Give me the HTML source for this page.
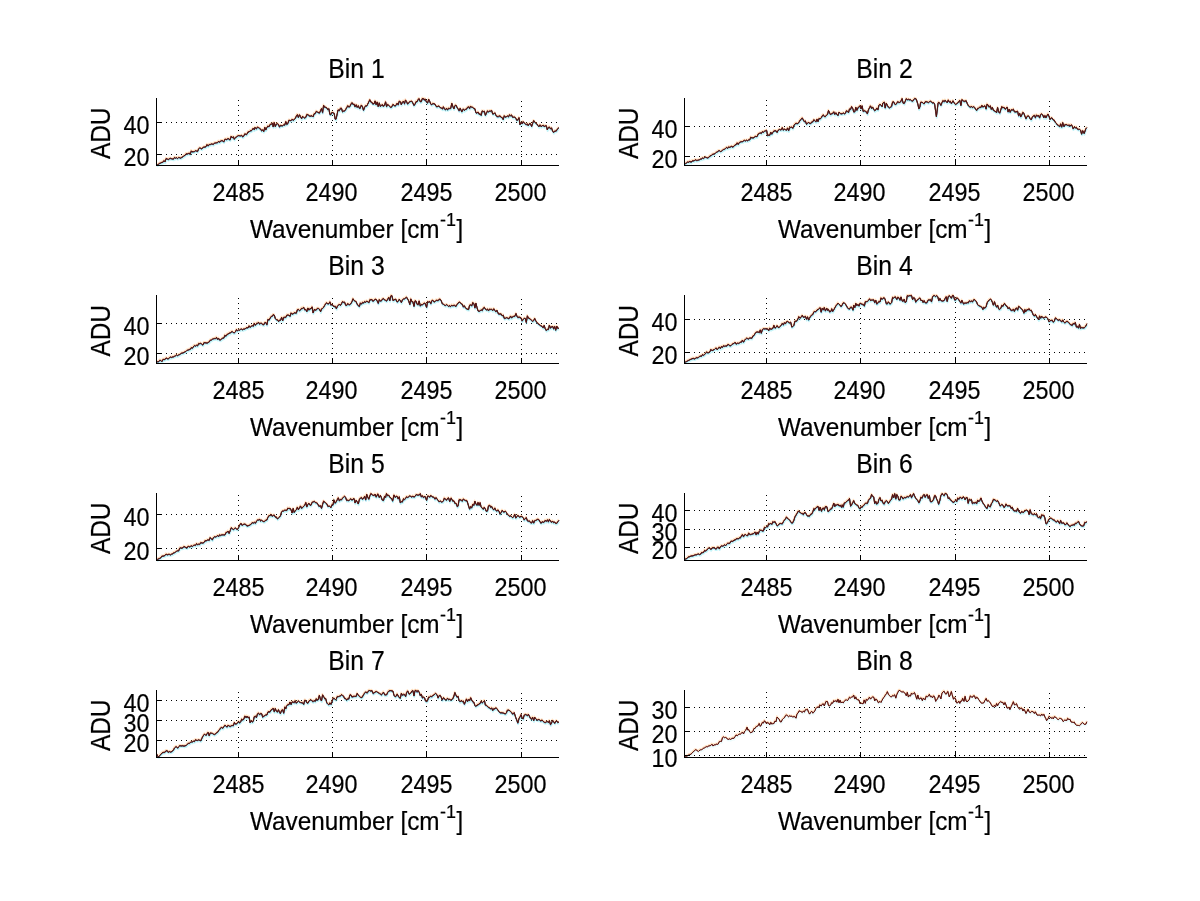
<!DOCTYPE html>
<html lang="en"><head><meta charset="utf-8"><title>Bin spectra</title>
<style>
html,body{margin:0;padding:0;background:#fff;}
body{width:1200px;height:901px;overflow:hidden;}
svg{display:block;}
text{font-family:"Liberation Sans",sans-serif;fill:#000;stroke:#000;stroke-width:0.18px;}
.ax{stroke:#000;stroke-width:1;shape-rendering:crispEdges;fill:none;}
.gr{stroke:#000;stroke-width:1;stroke-dasharray:1 4;shape-rendering:crispEdges;fill:none;}
.cv{fill:none;stroke-linejoin:round;stroke-linecap:butt;}
.crisp{shape-rendering:crispEdges;}
</style></head><body>
<svg width="1200" height="901" viewBox="0 0 1200 901">
<rect width="1200" height="901" fill="#fff"/>
<g id="bin1">
<path class="gr" d="M238.5 161V98"/>
<path class="gr" d="M332.5 161V98"/>
<path class="gr" d="M426.5 160V98"/>
<path class="gr" d="M521.5 162V98"/>
<path class="gr" d="M156 122.5H559"/>
<path class="gr" d="M156 154.5H559"/>
<path class="cv" stroke="#6fe6f0" stroke-opacity="0.4" stroke-width="1.8" transform="translate(0.3 1.3)" d="M156.6 165.2 157.7 164.6 158.7 164.0 159.8 163.2 160.8 162.9 161.9 162.3 162.9 162.2 164.0 160.6 165.0 161.8 166.1 158.5 167.5 159.1 168.2 159.5 169.2 158.8 170.3 158.3 171.3 158.6 172.4 158.9 173.4 159.1 174.5 157.4 175.5 158.2 176.6 157.6 177.6 158.5 178.7 157.4 179.7 157.7 180.8 158.1 181.5 157.3 182.9 156.8 183.9 155.7 185.0 155.4 186.0 153.8 187.1 154.0 188.1 153.7 189.2 153.0 190.2 154.4 191.3 150.8 192.0 151.7 193.4 151.6 194.4 151.5 195.5 150.7 196.5 151.0 197.6 151.3 198.6 148.9 199.7 147.8 200.7 148.3 201.8 148.9 202.5 147.8 203.9 147.0 204.9 147.0 206.0 146.6 207.0 144.5 208.1 146.0 209.1 144.5 210.2 144.6 211.2 143.9 212.3 144.1 213.3 144.5 214.4 143.0 215.4 143.0 216.5 142.7 217.5 142.6 218.6 141.2 219.6 142.3 220.7 140.8 221.7 140.7 222.8 140.8 223.8 141.8 224.9 139.2 225.9 139.3 227.0 139.6 228.0 138.3 228.8 139.0 230.1 139.7 231.2 136.3 232.2 137.8 233.3 136.7 234.3 139.2 235.4 137.4 236.4 137.1 237.5 135.9 238.4 135.6 239.6 135.7 240.6 135.8 241.7 135.3 242.7 137.0 243.8 135.8 244.8 133.8 246.2 134.5 246.9 134.3 248.0 131.8 249.0 132.1 250.1 130.7 251.1 130.8 252.2 129.9 253.2 128.2 254.3 129.7 255.0 127.4 256.4 128.8 257.4 127.1 258.5 127.5 259.5 128.3 260.6 128.9 261.6 130.7 262.9 129.8 263.7 131.5 264.8 127.3 265.8 129.9 266.9 127.5 267.9 125.9 269.0 126.8 270.0 124.4 271.1 124.2 272.5 123.3 273.2 126.8 274.2 122.4 275.3 126.5 276.3 124.0 277.4 123.7 278.4 124.3 279.5 126.9 280.5 125.4 281.2 125.6 282.6 125.8 283.7 124.7 284.7 125.1 285.8 121.6 286.8 124.4 287.9 123.4 288.9 120.2 290.0 120.5 291.1 120.7 292.1 119.3 293.2 120.3 294.2 119.6 295.3 118.3 296.3 116.2 297.4 114.5 298.4 117.4 299.5 114.7 300.5 116.6 301.6 118.7 302.6 116.3 303.7 117.4 304.7 118.0 305.8 117.4 306.8 114.5 307.9 114.7 308.9 115.4 310.0 116.3 311.0 115.9 312.1 115.8 313.1 116.8 314.2 113.6 315.2 113.5 316.3 111.3 317.3 112.0 318.0 112.2 319.4 113.1 320.5 110.8 321.5 108.6 322.6 112.4 323.6 105.3 324.7 107.3 325.9 107.1 326.8 108.0 327.8 109.7 328.9 108.8 329.9 114.4 331.0 114.3 332.0 112.2 333.1 112.9 334.1 113.2 335.2 119.1 336.0 119.2 337.3 113.4 338.0 109.8 339.4 110.7 340.4 108.3 341.5 108.2 342.5 111.7 343.6 111.1 344.6 110.9 345.7 109.4 346.7 107.7 347.8 105.7 348.8 107.0 349.9 106.4 351.2 103.7 352.0 102.7 353.0 104.4 354.1 104.1 355.0 106.7 356.2 104.7 357.2 107.4 358.3 105.6 359.3 108.1 360.0 108.5 361.4 105.0 362.5 106.7 363.5 110.2 364.6 107.3 365.6 105.7 366.7 106.0 367.7 104.2 368.8 101.8 369.8 99.7 370.9 102.2 371.9 102.1 372.5 103.6 374.0 103.8 375.1 100.9 376.1 104.7 377.2 101.9 378.2 106.5 379.3 102.9 380.3 106.4 381.4 105.4 382.4 104.6 383.0 106.2 384.5 105.3 385.6 101.7 386.6 106.6 387.7 104.3 388.7 105.3 389.8 106.5 390.8 107.4 391.9 106.5 392.9 104.5 394.0 105.2 395.0 106.1 396.1 105.0 397.1 103.2 398.2 104.8 399.2 101.2 400.5 101.8 401.3 104.6 402.4 102.2 403.4 101.1 404.5 103.7 405.5 100.0 406.6 101.5 407.6 104.1 408.7 102.8 409.7 101.6 410.8 101.4 411.8 101.1 412.8 102.9 413.9 105.4 415.0 104.3 416.0 101.5 417.1 101.8 418.1 99.4 419.2 98.7 420.2 101.7 421.3 101.5 422.3 98.5 423.4 98.5 424.4 100.2 425.0 98.9 426.6 102.2 427.6 103.0 428.7 99.2 429.7 101.2 430.8 104.0 431.8 104.7 432.9 103.3 433.8 103.9 435.0 104.1 436.0 106.2 437.1 106.8 438.1 106.1 439.2 106.2 440.2 107.5 441.3 108.0 442.5 109.0 443.4 106.7 444.4 108.7 445.5 109.7 446.5 108.2 447.6 109.8 448.6 108.2 449.7 108.5 450.7 108.4 451.8 103.3 453.0 106.9 453.9 108.8 454.9 105.6 456.0 105.1 457.0 107.2 458.1 109.0 459.1 110.7 460.2 108.3 461.8 111.8 463.3 108.9 464.4 110.5 465.4 109.3 466.5 109.2 467.5 107.3 468.6 106.8 469.6 108.4 470.5 106.1 471.7 107.3 472.8 107.2 473.8 108.5 474.9 108.6 475.9 112.7 477.0 113.1 478.0 112.0 479.2 114.3 480.1 113.5 481.2 115.3 482.2 111.0 483.3 111.6 484.3 111.2 485.4 115.2 486.4 113.2 487.5 110.9 488.5 111.7 490.0 110.9 490.6 111.1 491.7 110.5 492.7 114.0 493.8 113.8 494.8 112.7 495.9 115.1 496.9 116.5 498.5 116.3 500.1 115.8 501.1 117.3 502.2 117.5 503.2 119.4 504.3 115.7 505.3 117.1 506.4 116.6 507.4 116.0 508.5 116.9 509.5 114.8 510.6 115.7 511.6 114.9 512.5 117.2 513.7 117.2 514.8 117.0 515.8 118.3 516.9 120.4 517.9 119.7 519.0 117.6 520.0 124.6 521.2 122.3 522.1 123.8 523.2 121.6 524.2 122.9 525.3 123.9 526.3 124.5 527.4 123.9 528.2 125.6 529.5 123.5 530.5 123.6 531.6 126.5 532.6 123.5 533.7 120.6 535.2 122.6 536.8 123.8 537.9 125.4 538.9 126.7 540.0 124.8 541.0 126.6 542.1 125.8 543.1 125.1 544.0 126.5 545.2 126.0 546.3 125.6 547.3 129.8 548.4 127.4 549.4 127.0 550.5 128.9 551.5 127.8 552.6 131.0 553.6 132.4 554.7 131.0 556.2 131.1 557.8 128.5 558.9 127.7"/>
<path class="cv" stroke="#ffa040" stroke-opacity="0.33" stroke-width="1.4" transform="translate(-0.3 -1.0)" d="M156.6 165.2 157.7 164.6 158.7 164.0 159.8 163.2 160.8 162.9 161.9 162.3 162.9 162.2 164.0 160.6 165.0 161.8 166.1 158.5 167.5 159.1 168.2 159.5 169.2 158.8 170.3 158.3 171.3 158.6 172.4 158.9 173.4 159.1 174.5 157.4 175.5 158.2 176.6 157.6 177.6 158.5 178.7 157.4 179.7 157.7 180.8 158.1 181.5 157.3 182.9 156.8 183.9 155.7 185.0 155.4 186.0 153.8 187.1 154.0 188.1 153.7 189.2 153.0 190.2 154.4 191.3 150.8 192.0 151.7 193.4 151.6 194.4 151.5 195.5 150.7 196.5 151.0 197.6 151.3 198.6 148.9 199.7 147.8 200.7 148.3 201.8 148.9 202.5 147.8 203.9 147.0 204.9 147.0 206.0 146.6 207.0 144.5 208.1 146.0 209.1 144.5 210.2 144.6 211.2 143.9 212.3 144.1 213.3 144.5 214.4 143.0 215.4 143.0 216.5 142.7 217.5 142.6 218.6 141.2 219.6 142.3 220.7 140.8 221.7 140.7 222.8 140.8 223.8 141.8 224.9 139.2 225.9 139.3 227.0 139.6 228.0 138.3 228.8 139.0 230.1 139.7 231.2 136.3 232.2 137.8 233.3 136.7 234.3 139.2 235.4 137.4 236.4 137.1 237.5 135.9 238.4 135.6 239.6 135.7 240.6 135.8 241.7 135.3 242.7 137.0 243.8 135.8 244.8 133.8 246.2 134.5 246.9 134.3 248.0 131.8 249.0 132.1 250.1 130.7 251.1 130.8 252.2 129.9 253.2 128.2 254.3 129.7 255.0 127.4 256.4 128.8 257.4 127.1 258.5 127.5 259.5 128.3 260.6 128.9 261.6 130.7 262.9 129.8 263.7 131.5 264.8 127.3 265.8 129.9 266.9 127.5 267.9 125.9 269.0 126.8 270.0 124.4 271.1 124.2 272.5 123.3 273.2 126.8 274.2 122.4 275.3 126.5 276.3 124.0 277.4 123.7 278.4 124.3 279.5 126.9 280.5 125.4 281.2 125.6 282.6 125.8 283.7 124.7 284.7 125.1 285.8 121.6 286.8 124.4 287.9 123.4 288.9 120.2 290.0 120.5 291.1 120.7 292.1 119.3 293.2 120.3 294.2 119.6 295.3 118.3 296.3 116.2 297.4 114.5 298.4 117.4 299.5 114.7 300.5 116.6 301.6 118.7 302.6 116.3 303.7 117.4 304.7 118.0 305.8 117.4 306.8 114.5 307.9 114.7 308.9 115.4 310.0 116.3 311.0 115.9 312.1 115.8 313.1 116.8 314.2 113.6 315.2 113.5 316.3 111.3 317.3 112.0 318.0 112.2 319.4 113.1 320.5 110.8 321.5 108.6 322.6 112.4 323.6 105.3 324.7 107.3 325.9 107.1 326.8 108.0 327.8 109.7 328.9 108.8 329.9 114.4 331.0 114.3 332.0 112.2 333.1 112.9 334.1 113.2 335.2 119.1 336.0 119.2 337.3 113.4 338.0 109.8 339.4 110.7 340.4 108.3 341.5 108.2 342.5 111.7 343.6 111.1 344.6 110.9 345.7 109.4 346.7 107.7 347.8 105.7 348.8 107.0 349.9 106.4 351.2 103.7 352.0 102.7 353.0 104.4 354.1 104.1 355.0 106.7 356.2 104.7 357.2 107.4 358.3 105.6 359.3 108.1 360.0 108.5 361.4 105.0 362.5 106.7 363.5 110.2 364.6 107.3 365.6 105.7 366.7 106.0 367.7 104.2 368.8 101.8 369.8 99.7 370.9 102.2 371.9 102.1 372.5 103.6 374.0 103.8 375.1 100.9 376.1 104.7 377.2 101.9 378.2 106.5 379.3 102.9 380.3 106.4 381.4 105.4 382.4 104.6 383.0 106.2 384.5 105.3 385.6 101.7 386.6 106.6 387.7 104.3 388.7 105.3 389.8 106.5 390.8 107.4 391.9 106.5 392.9 104.5 394.0 105.2 395.0 106.1 396.1 105.0 397.1 103.2 398.2 104.8 399.2 101.2 400.5 101.8 401.3 104.6 402.4 102.2 403.4 101.1 404.5 103.7 405.5 100.0 406.6 101.5 407.6 104.1 408.7 102.8 409.7 101.6 410.8 101.4 411.8 101.1 412.8 102.9 413.9 105.4 415.0 104.3 416.0 101.5 417.1 101.8 418.1 99.4 419.2 98.7 420.2 101.7 421.3 101.5 422.3 98.5 423.4 98.5 424.4 100.2 425.0 98.9 426.6 102.2 427.6 103.0 428.7 99.2 429.7 101.2 430.8 104.0 431.8 104.7 432.9 103.3 433.8 103.9 435.0 104.1 436.0 106.2 437.1 106.8 438.1 106.1 439.2 106.2 440.2 107.5 441.3 108.0 442.5 109.0 443.4 106.7 444.4 108.7 445.5 109.7 446.5 108.2 447.6 109.8 448.6 108.2 449.7 108.5 450.7 108.4 451.8 103.3 453.0 106.9 453.9 108.8 454.9 105.6 456.0 105.1 457.0 107.2 458.1 109.0 459.1 110.7 460.2 108.3 461.8 111.8 463.3 108.9 464.4 110.5 465.4 109.3 466.5 109.2 467.5 107.3 468.6 106.8 469.6 108.4 470.5 106.1 471.7 107.3 472.8 107.2 473.8 108.5 474.9 108.6 475.9 112.7 477.0 113.1 478.0 112.0 479.2 114.3 480.1 113.5 481.2 115.3 482.2 111.0 483.3 111.6 484.3 111.2 485.4 115.2 486.4 113.2 487.5 110.9 488.5 111.7 490.0 110.9 490.6 111.1 491.7 110.5 492.7 114.0 493.8 113.8 494.8 112.7 495.9 115.1 496.9 116.5 498.5 116.3 500.1 115.8 501.1 117.3 502.2 117.5 503.2 119.4 504.3 115.7 505.3 117.1 506.4 116.6 507.4 116.0 508.5 116.9 509.5 114.8 510.6 115.7 511.6 114.9 512.5 117.2 513.7 117.2 514.8 117.0 515.8 118.3 516.9 120.4 517.9 119.7 519.0 117.6 520.0 124.6 521.2 122.3 522.1 123.8 523.2 121.6 524.2 122.9 525.3 123.9 526.3 124.5 527.4 123.9 528.2 125.6 529.5 123.5 530.5 123.6 531.6 126.5 532.6 123.5 533.7 120.6 535.2 122.6 536.8 123.8 537.9 125.4 538.9 126.7 540.0 124.8 541.0 126.6 542.1 125.8 543.1 125.1 544.0 126.5 545.2 126.0 546.3 125.6 547.3 129.8 548.4 127.4 549.4 127.0 550.5 128.9 551.5 127.8 552.6 131.0 553.6 132.4 554.7 131.0 556.2 131.1 557.8 128.5 558.9 127.7"/>
<path class="cv" stroke="#1c2470" stroke-opacity="0.6" stroke-width="1" d="M156.6 165.6 157.7 165.1 158.7 164.4 159.8 163.6 160.8 163.3 161.9 162.6 162.9 162.6 164.0 160.9 165.0 162.1 166.1 158.8 167.5 159.4 168.2 159.9 169.2 159.2 170.3 158.8 171.3 159.0 172.4 159.3 173.4 159.5 174.5 157.7 175.5 158.4 176.6 158.1 177.6 158.8 178.7 157.8 179.7 158.0 180.8 158.7 181.5 157.8 182.9 157.2 183.9 155.9 185.0 155.9 186.0 154.1 187.1 154.4 188.1 153.9 189.2 153.4 190.2 154.9 191.3 151.1 192.0 152.1 193.4 152.0 194.4 151.9 195.5 151.0 196.5 151.5 197.6 151.9 198.6 149.1 199.7 148.1 200.7 148.7 201.8 149.2 202.5 148.0 203.9 147.5 204.9 147.5 206.0 147.1 207.0 145.0 208.1 146.4 209.1 144.7 210.2 144.7 211.2 144.4 212.3 144.3 213.3 144.8 214.4 143.5 215.4 143.2 216.5 143.0 217.5 143.1 218.6 141.7 219.6 142.4 220.7 141.2 221.7 141.0 222.8 141.3 223.8 142.3 224.9 139.5 225.9 139.7 227.0 140.1 228.0 138.5 228.8 139.5 230.1 140.2 231.2 136.6 232.2 138.1 233.3 137.1 234.3 139.4 235.4 137.4 236.4 137.5 237.5 136.5 238.4 135.9 239.6 136.0 240.6 136.2 241.7 135.5 242.7 137.4 243.8 136.2 244.8 134.1 246.2 135.0 246.9 134.5 248.0 132.2 249.0 132.3 250.1 131.0 251.1 131.2 252.2 130.3 253.2 128.7 254.3 130.1 255.0 127.6 256.4 129.4 257.4 127.2 258.5 127.9 259.5 128.7 260.6 129.3 261.6 131.2 262.9 130.1 263.7 131.7 264.8 127.8 265.8 130.2 266.9 127.7 267.9 126.2 269.0 127.2 270.0 124.8 271.1 124.5 272.5 123.6 273.2 127.1 274.2 123.0 275.3 126.8 276.3 124.5 277.4 124.1 278.4 124.9 279.5 127.6 280.5 125.6 281.2 126.0 282.6 126.0 283.7 124.9 284.7 125.4 285.8 121.9 286.8 124.9 287.9 123.9 288.9 120.4 290.0 120.8 291.1 120.8 292.1 119.7 293.2 120.6 294.2 119.7 295.3 118.5 296.3 116.7 297.4 114.9 298.4 117.9 299.5 115.0 300.5 117.0 301.6 119.0 302.6 116.4 303.7 117.7 304.7 118.3 305.8 117.6 306.8 115.0 307.9 115.4 308.9 116.0 310.0 116.6 311.0 116.0 312.1 116.1 313.1 117.0 314.2 113.9 315.2 114.1 316.3 111.7 317.3 112.1 318.0 112.8 319.4 113.5 320.5 111.4 321.5 108.7 322.6 113.3 323.6 105.4 324.7 107.7 325.9 107.7 326.8 107.8 327.8 109.9 328.9 108.8 329.9 115.1 331.0 114.8 332.0 112.4 333.1 112.9 334.1 113.2 335.2 119.5 336.0 119.4 337.3 113.8 338.0 110.1 339.4 110.7 340.4 109.0 341.5 108.6 342.5 111.9 343.6 111.3 344.6 111.5 345.7 109.9 346.7 107.8 347.8 106.3 348.8 107.3 349.9 106.9 351.2 103.8 352.0 102.9 353.0 104.9 354.1 104.2 355.0 107.0 356.2 105.1 357.2 107.6 358.3 106.3 359.3 108.6 360.0 108.8 361.4 105.5 362.5 107.3 363.5 110.8 364.6 107.7 365.6 106.3 366.7 106.4 367.7 104.3 368.8 102.1 369.8 100.5 370.9 102.4 371.9 102.5 372.5 104.3 374.0 104.1 375.1 101.2 376.1 104.9 377.2 102.4 378.2 106.6 379.3 103.3 380.3 106.6 381.4 105.8 382.4 104.6 383.0 106.3 384.5 105.9 385.6 102.1 386.6 106.3 387.7 105.0 388.7 105.5 389.8 107.0 390.8 108.0 391.9 106.8 392.9 104.8 394.0 105.1 395.0 106.5 396.1 105.7 397.1 103.3 398.2 105.4 399.2 101.7 400.5 102.3 401.3 104.7 402.4 102.6 403.4 101.5 404.5 104.4 405.5 100.2 406.6 101.8 407.6 104.3 408.7 103.4 409.7 101.6 410.8 101.7 411.8 101.2 412.8 103.1 413.9 105.9 415.0 104.5 416.0 102.0 417.1 102.0 418.1 99.7 419.2 99.0 420.2 101.8 421.3 101.9 422.3 99.0 423.4 98.7 424.4 100.7 425.0 99.3 426.6 102.5 427.6 103.3 428.7 99.8 429.7 101.7 430.8 104.7 431.8 105.1 432.9 103.7 433.8 103.9 435.0 104.3 436.0 106.6 437.1 107.0 438.1 106.2 439.2 106.9 440.2 107.9 441.3 108.1 442.5 109.0 443.4 106.9 444.4 109.5 445.5 110.0 446.5 108.7 447.6 110.3 448.6 108.4 449.7 108.9 450.7 108.8 451.8 103.6 453.0 107.4 453.9 109.0 454.9 105.8 456.0 105.3 457.0 107.8 458.1 109.2 459.1 111.4 460.2 108.3 461.8 111.9 463.3 108.7 464.4 110.7 465.4 109.6 466.5 109.7 467.5 107.4 468.6 107.0 469.6 109.1 470.5 106.3 471.7 107.7 472.8 107.7 473.8 108.7 474.9 109.2 475.9 113.0 477.0 113.6 478.0 112.3 479.2 114.7 480.1 114.1 481.2 115.7 482.2 111.0 483.3 111.9 484.3 111.5 485.4 115.6 486.4 113.6 487.5 110.9 488.5 112.3 490.0 111.1 490.6 111.7 491.7 110.7 492.7 114.3 493.8 114.1 494.8 112.9 495.9 115.5 496.9 117.1 498.5 117.0 500.1 116.5 501.1 117.4 502.2 117.9 503.2 119.8 504.3 116.1 505.3 117.5 506.4 117.0 507.4 116.1 508.5 117.0 509.5 115.3 510.6 116.0 511.6 115.5 512.5 117.4 513.7 117.4 514.8 117.4 515.8 118.7 516.9 120.9 517.9 119.9 519.0 118.1 520.0 125.0 521.2 122.5 522.1 124.1 523.2 121.9 524.2 123.4 525.3 124.5 526.3 125.0 527.4 124.2 528.2 126.0 529.5 123.9 530.5 123.8 531.6 126.9 532.6 123.7 533.7 120.9 535.2 122.8 536.8 124.0 537.9 125.8 538.9 126.8 540.0 125.1 541.0 126.9 542.1 126.2 543.1 125.3 544.0 126.9 545.2 126.2 546.3 125.8 547.3 130.0 548.4 127.6 549.4 127.2 550.5 129.0 551.5 128.1 552.6 131.3 553.6 132.9 554.7 131.2 556.2 131.4 557.8 128.7 558.9 128.2"/>
<path class="cv" stroke="#1a6a66" stroke-opacity="0.6" stroke-width="1" d="M156.6 165.4 157.7 164.9 158.7 164.3 159.8 163.5 160.8 163.3 161.9 162.5 162.9 162.5 164.0 160.8 165.0 162.0 166.1 158.7 167.5 159.4 168.2 159.8 169.2 159.0 170.3 158.5 171.3 158.8 172.4 159.1 173.4 159.4 174.5 157.7 175.5 158.3 176.6 157.9 177.6 158.6 178.7 157.6 179.7 157.8 180.8 158.5 181.5 157.7 182.9 157.1 183.9 155.8 185.0 155.5 186.0 154.0 187.1 154.2 188.1 153.9 189.2 153.3 190.2 154.7 191.3 151.2 192.0 152.0 193.4 152.1 194.4 151.8 195.5 150.9 196.5 151.2 197.6 151.7 198.6 149.3 199.7 148.1 200.7 148.6 201.8 149.2 202.5 148.0 203.9 147.2 204.9 147.1 206.0 146.8 207.0 144.8 208.1 146.2 209.1 144.8 210.2 144.9 211.2 144.2 212.3 144.3 213.3 144.4 214.4 143.3 215.4 143.1 216.5 143.0 217.5 142.8 218.6 141.4 219.6 142.5 220.7 141.1 221.7 140.7 222.8 140.9 223.8 142.2 224.9 139.5 225.9 139.5 227.0 139.8 228.0 138.5 228.8 139.7 230.1 140.1 231.2 136.6 232.2 138.0 233.3 136.6 234.3 139.5 235.4 137.8 236.4 137.4 237.5 136.2 238.4 135.7 239.6 135.8 240.6 136.1 241.7 135.5 242.7 137.1 243.8 136.2 244.8 133.9 246.2 134.7 246.9 134.2 248.0 132.3 249.0 132.3 250.1 131.0 251.1 131.1 252.2 130.1 253.2 128.3 254.3 129.9 255.0 127.5 256.4 129.1 257.4 127.5 258.5 127.9 259.5 128.8 260.6 129.3 261.6 131.2 262.9 130.1 263.7 131.9 264.8 127.4 265.8 130.1 266.9 127.6 267.9 126.1 269.0 126.9 270.0 124.7 271.1 124.9 272.5 123.4 273.2 127.1 274.2 122.8 275.3 126.7 276.3 124.2 277.4 123.9 278.4 124.7 279.5 127.1 280.5 126.0 281.2 126.0 282.6 126.2 283.7 125.3 284.7 125.6 285.8 121.8 286.8 124.7 287.9 123.7 288.9 120.5 290.0 120.9 291.1 120.6 292.1 119.2 293.2 120.5 294.2 119.9 295.3 118.5 296.3 116.5 297.4 115.0 298.4 117.8 299.5 114.9 300.5 116.8 301.6 118.7 302.6 116.7 303.7 117.7 304.7 118.1 305.8 117.7 306.8 114.7 307.9 114.8 308.9 115.3 310.0 116.7 311.0 116.0 312.1 116.1 313.1 117.1 314.2 113.7 315.2 113.8 316.3 111.5 317.3 112.2 318.0 112.5 319.4 113.2 320.5 111.2 321.5 108.8 322.6 112.4 323.6 105.6 324.7 107.5 325.9 107.5 326.8 107.8 327.8 110.0 328.9 108.6 329.9 114.6 331.0 115.2 332.0 112.6 333.1 113.4 334.1 113.3 335.2 119.1 336.0 119.4 337.3 113.7 338.0 110.0 339.4 110.8 340.4 108.4 341.5 108.3 342.5 112.3 343.6 111.3 344.6 111.0 345.7 109.6 346.7 107.7 347.8 105.6 348.8 107.3 349.9 106.9 351.2 104.1 352.0 102.7 353.0 105.0 354.1 104.4 355.0 107.3 356.2 104.9 357.2 107.4 358.3 105.9 359.3 108.3 360.0 108.5 361.4 105.1 362.5 106.9 363.5 110.3 364.6 107.7 365.6 106.0 366.7 106.1 367.7 104.3 368.8 102.2 369.8 100.0 370.9 102.2 371.9 102.4 372.5 104.2 374.0 104.1 375.1 100.9 376.1 105.2 377.2 102.7 378.2 106.7 379.3 102.6 380.3 106.3 381.4 106.0 382.4 104.8 383.0 106.6 384.5 105.7 385.6 102.0 386.6 107.2 387.7 104.6 388.7 105.7 389.8 106.8 390.8 107.7 391.9 107.3 392.9 104.6 394.0 105.2 395.0 106.6 396.1 105.0 397.1 103.5 398.2 104.8 399.2 101.6 400.5 102.1 401.3 105.0 402.4 102.4 403.4 101.3 404.5 103.4 405.5 100.5 406.6 101.9 407.6 104.4 408.7 103.1 409.7 101.8 410.8 101.7 411.8 101.8 412.8 103.0 413.9 105.6 415.0 104.7 416.0 101.8 417.1 101.9 418.1 100.0 419.2 99.3 420.2 101.9 421.3 102.1 422.3 98.5 423.4 99.1 424.4 100.1 425.0 99.3 426.6 102.4 427.6 103.1 428.7 99.6 429.7 101.3 430.8 104.1 431.8 104.7 432.9 103.9 433.8 104.0 435.0 104.4 436.0 106.4 437.1 107.3 438.1 106.1 439.2 106.3 440.2 107.7 441.3 108.3 442.5 109.1 443.4 107.1 444.4 109.1 445.5 110.1 446.5 108.6 447.6 110.4 448.6 108.4 449.7 108.7 450.7 108.6 451.8 103.5 453.0 106.8 453.9 109.1 454.9 105.9 456.0 105.0 457.0 107.5 458.1 109.1 459.1 110.8 460.2 108.5 461.8 112.3 463.3 109.1 464.4 110.4 465.4 109.6 466.5 109.2 467.5 107.9 468.6 107.0 469.6 108.7 470.5 106.3 471.7 107.4 472.8 107.4 473.8 108.8 474.9 109.3 475.9 112.9 477.0 113.5 478.0 112.3 479.2 114.6 480.1 113.9 481.2 115.8 482.2 110.7 483.3 111.7 484.3 111.3 485.4 115.7 486.4 113.3 487.5 111.3 488.5 112.1 490.0 111.1 490.6 111.4 491.7 110.6 492.7 114.4 493.8 114.1 494.8 113.1 495.9 115.5 496.9 116.6 498.5 116.8 500.1 116.0 501.1 117.7 502.2 117.8 503.2 119.8 504.3 115.8 505.3 117.6 506.4 116.7 507.4 116.2 508.5 117.2 509.5 114.8 510.6 116.0 511.6 115.2 512.5 117.6 513.7 117.4 514.8 117.1 515.8 118.4 516.9 120.5 517.9 120.0 519.0 117.8 520.0 125.0 521.2 122.8 522.1 124.0 523.2 121.8 524.2 123.2 525.3 124.3 526.3 124.4 527.4 124.1 528.2 125.8 529.5 123.8 530.5 123.8 531.6 126.6 532.6 124.1 533.7 120.4 535.2 123.1 536.8 124.0 537.9 125.6 538.9 127.0 540.0 125.1 541.0 126.7 542.1 125.9 543.1 125.4 544.0 126.9 545.2 126.2 546.3 126.2 547.3 129.9 548.4 127.7 549.4 127.3 550.5 129.3 551.5 127.9 552.6 131.4 553.6 132.6 554.7 131.0 556.2 131.2 557.8 128.5 558.9 127.9"/>
<path class="cv" stroke="#8c1616" stroke-opacity="0.6" stroke-width="1" d="M156.6 165.1 157.7 164.5 158.7 163.9 159.8 163.1 160.8 162.9 161.9 162.1 162.9 162.1 164.0 160.4 165.0 161.7 166.1 158.4 167.5 159.0 168.2 159.5 169.2 158.7 170.3 158.2 171.3 158.5 172.4 158.8 173.4 159.0 174.5 157.3 175.5 158.1 176.6 157.5 177.6 158.4 178.7 157.3 179.7 157.6 180.8 158.1 181.5 157.4 182.9 156.7 183.9 155.5 185.0 155.3 186.0 153.7 187.1 153.9 188.1 153.6 189.2 152.9 190.2 154.3 191.3 150.8 192.0 151.6 193.4 151.6 194.4 151.4 195.5 150.6 196.5 150.8 197.6 151.2 198.6 148.8 199.7 147.7 200.7 148.2 201.8 148.8 202.5 147.6 203.9 146.9 204.9 146.9 206.0 146.4 207.0 144.4 208.1 145.8 209.1 144.3 210.2 144.5 211.2 143.8 212.3 144.0 213.3 144.4 214.4 142.9 215.4 142.9 216.5 142.7 217.5 142.5 218.6 141.1 219.6 142.1 220.7 140.8 221.7 140.6 222.8 140.8 223.8 141.7 224.9 139.1 225.9 139.2 227.0 139.5 228.0 138.1 228.8 138.8 230.1 139.7 231.2 136.1 232.2 137.7 233.3 136.7 234.3 139.2 235.4 137.3 236.4 136.9 237.5 135.9 238.4 135.5 239.6 135.6 240.6 135.6 241.7 135.1 242.7 137.0 243.8 135.6 244.8 133.7 246.2 134.5 246.9 134.3 248.0 131.6 249.0 131.9 250.1 130.6 251.1 130.6 252.2 129.8 253.2 128.0 254.3 129.6 255.0 127.2 256.4 128.7 257.4 126.9 258.5 127.4 259.5 128.0 260.6 128.9 261.6 130.6 262.9 129.7 263.7 131.6 264.8 127.2 265.8 129.8 266.9 127.4 267.9 125.9 269.0 126.8 270.0 124.4 271.1 124.1 272.5 123.1 273.2 126.7 274.2 122.2 275.3 126.4 276.3 123.8 277.4 123.4 278.4 124.2 279.5 126.7 280.5 125.1 281.2 125.4 282.6 125.7 283.7 124.7 284.7 124.9 285.8 121.3 286.8 124.2 287.9 123.2 288.9 120.1 290.0 120.3 291.1 120.7 292.1 118.9 293.2 120.0 294.2 119.6 295.3 118.1 296.3 115.9 297.4 114.6 298.4 117.4 299.5 114.6 300.5 116.3 301.6 118.7 302.6 116.2 303.7 117.3 304.7 117.8 305.8 117.0 306.8 114.2 307.9 114.6 308.9 115.4 310.0 116.2 311.0 115.8 312.1 115.7 313.1 116.7 314.2 113.7 315.2 113.4 316.3 111.1 317.3 112.0 318.0 112.1 319.4 112.9 320.5 110.5 321.5 108.5 322.6 112.2 323.6 105.1 324.7 107.1 325.9 107.2 326.8 107.8 327.8 109.5 328.9 108.5 329.9 114.2 331.0 114.3 332.0 112.0 333.1 112.9 334.1 113.2 335.2 119.0 336.0 119.1 337.3 113.3 338.0 109.8 339.4 110.6 340.4 108.0 341.5 108.1 342.5 111.8 343.6 110.8 344.6 110.8 345.7 109.3 346.7 107.7 347.8 105.5 348.8 107.1 349.9 106.2 351.2 103.6 352.0 102.5 353.0 104.3 354.1 103.9 355.0 106.4 356.2 104.6 357.2 107.2 358.3 105.6 359.3 107.7 360.0 108.6 361.4 104.9 362.5 106.8 363.5 110.2 364.6 107.3 365.6 105.6 366.7 105.8 367.7 104.2 368.8 101.7 369.8 99.4 370.9 102.1 371.9 102.1 372.5 103.5 374.0 103.8 375.1 100.8 376.1 104.3 377.2 101.9 378.2 106.6 379.3 102.8 380.3 106.3 381.4 105.2 382.4 104.5 383.0 106.3 384.5 105.2 385.6 101.7 386.6 106.5 387.7 104.3 388.7 105.1 389.8 106.2 390.8 107.3 391.9 106.4 392.9 104.1 394.0 105.0 395.0 106.0 396.1 104.9 397.1 103.1 398.2 104.5 399.2 101.0 400.5 101.6 401.3 104.6 402.4 102.2 403.4 101.1 404.5 103.4 405.5 99.7 406.6 101.5 407.6 104.0 408.7 102.9 409.7 101.4 410.8 101.3 411.8 101.1 412.8 102.7 413.9 105.2 415.0 104.3 416.0 101.6 417.1 101.6 418.1 99.1 419.2 98.5 420.2 101.2 421.3 101.5 422.3 98.6 423.4 98.5 424.4 100.0 425.0 98.7 426.6 102.1 427.6 102.9 428.7 99.3 429.7 101.3 430.8 104.1 431.8 104.6 432.9 103.4 433.8 103.5 435.0 103.8 436.0 106.1 437.1 106.6 438.1 105.9 439.2 106.1 440.2 107.5 441.3 107.9 442.5 109.0 443.4 106.6 444.4 108.7 445.5 109.7 446.5 108.1 447.6 109.8 448.6 108.1 449.7 108.4 450.7 108.2 451.8 103.2 453.0 106.7 453.9 108.7 454.9 105.6 456.0 105.1 457.0 107.1 458.1 108.7 459.1 110.6 460.2 107.9 461.8 111.8 463.3 109.0 464.4 110.3 465.4 109.1 466.5 108.8 467.5 107.2 468.6 106.7 469.6 108.4 470.5 106.0 471.7 107.2 472.8 107.3 473.8 108.6 474.9 108.5 475.9 112.6 477.0 112.9 478.0 111.7 479.2 114.1 480.1 113.6 481.2 115.1 482.2 110.8 483.3 111.5 484.3 111.1 485.4 115.2 486.4 113.3 487.5 110.8 488.5 111.5 490.0 110.7 490.6 110.9 491.7 110.3 492.7 113.8 493.8 113.7 494.8 112.7 495.9 115.0 496.9 116.4 498.5 116.3 500.1 115.6 501.1 117.3 502.2 117.5 503.2 119.5 504.3 115.6 505.3 116.9 506.4 116.7 507.4 115.9 508.5 116.6 509.5 114.4 510.6 115.4 511.6 114.8 512.5 117.1 513.7 117.0 514.8 117.1 515.8 118.2 516.9 120.4 517.9 119.5 519.0 117.4 520.0 124.4 521.2 122.2 522.1 123.7 523.2 121.5 524.2 122.8 525.3 123.8 526.3 124.5 527.4 123.6 528.2 125.5 529.5 123.5 530.5 123.6 531.6 126.4 532.6 123.3 533.7 120.4 535.2 122.6 536.8 123.7 537.9 125.4 538.9 126.7 540.0 124.6 541.0 126.5 542.1 125.9 543.1 125.0 544.0 126.2 545.2 125.9 546.3 125.5 547.3 129.7 548.4 127.3 549.4 127.0 550.5 128.7 551.5 127.7 552.6 131.0 553.6 132.3 554.7 131.0 556.2 131.0 557.8 128.5 558.9 127.7"/>
<path class="cv " stroke="#52100e" stroke-width="1" d="M156.6 165.2 157.7 164.6 158.7 164.0 159.8 163.2 160.8 162.9 161.9 162.3 162.9 162.2 164.0 160.6 165.0 161.8 166.1 158.5 167.5 159.1 168.2 159.5 169.2 158.8 170.3 158.3 171.3 158.6 172.4 158.9 173.4 159.1 174.5 157.4 175.5 158.2 176.6 157.6 177.6 158.5 178.7 157.4 179.7 157.7 180.8 158.1 181.5 157.3 182.9 156.8 183.9 155.7 185.0 155.4 186.0 153.8 187.1 154.0 188.1 153.7 189.2 153.0 190.2 154.4 191.3 150.8 192.0 151.7 193.4 151.6 194.4 151.5 195.5 150.7 196.5 151.0 197.6 151.3 198.6 148.9 199.7 147.8 200.7 148.3 201.8 148.9 202.5 147.8 203.9 147.0 204.9 147.0 206.0 146.6 207.0 144.5 208.1 146.0 209.1 144.5 210.2 144.6 211.2 143.9 212.3 144.1 213.3 144.5 214.4 143.0 215.4 143.0 216.5 142.7 217.5 142.6 218.6 141.2 219.6 142.3 220.7 140.8 221.7 140.7 222.8 140.8 223.8 141.8 224.9 139.2 225.9 139.3 227.0 139.6 228.0 138.3 228.8 139.0 230.1 139.7 231.2 136.3 232.2 137.8 233.3 136.7 234.3 139.2 235.4 137.4 236.4 137.1 237.5 135.9 238.4 135.6 239.6 135.7 240.6 135.8 241.7 135.3 242.7 137.0 243.8 135.8 244.8 133.8 246.2 134.5 246.9 134.3 248.0 131.8 249.0 132.1 250.1 130.7 251.1 130.8 252.2 129.9 253.2 128.2 254.3 129.7 255.0 127.4 256.4 128.8 257.4 127.1 258.5 127.5 259.5 128.3 260.6 128.9 261.6 130.7 262.9 129.8 263.7 131.5 264.8 127.3 265.8 129.9 266.9 127.5 267.9 125.9 269.0 126.8 270.0 124.4 271.1 124.2 272.5 123.3 273.2 126.8 274.2 122.4 275.3 126.5 276.3 124.0 277.4 123.7 278.4 124.3 279.5 126.9 280.5 125.4 281.2 125.6 282.6 125.8 283.7 124.7 284.7 125.1 285.8 121.6 286.8 124.4 287.9 123.4 288.9 120.2 290.0 120.5 291.1 120.7 292.1 119.3 293.2 120.3 294.2 119.6 295.3 118.3 296.3 116.2 297.4 114.5 298.4 117.4 299.5 114.7 300.5 116.6 301.6 118.7 302.6 116.3 303.7 117.4 304.7 118.0 305.8 117.4 306.8 114.5 307.9 114.7 308.9 115.4 310.0 116.3 311.0 115.9 312.1 115.8 313.1 116.8 314.2 113.6 315.2 113.5 316.3 111.3 317.3 112.0 318.0 112.2 319.4 113.1 320.5 110.8 321.5 108.6 322.6 112.4 323.6 105.3 324.7 107.3 325.9 107.1 326.8 108.0 327.8 109.7 328.9 108.8 329.9 114.4 331.0 114.3 332.0 112.2 333.1 112.9 334.1 113.2 335.2 119.1 336.0 119.2 337.3 113.4 338.0 109.8 339.4 110.7 340.4 108.3 341.5 108.2 342.5 111.7 343.6 111.1 344.6 110.9 345.7 109.4 346.7 107.7 347.8 105.7 348.8 107.0 349.9 106.4 351.2 103.7 352.0 102.7 353.0 104.4 354.1 104.1 355.0 106.7 356.2 104.7 357.2 107.4 358.3 105.6 359.3 108.1 360.0 108.5 361.4 105.0 362.5 106.7 363.5 110.2 364.6 107.3 365.6 105.7 366.7 106.0 367.7 104.2 368.8 101.8 369.8 99.7 370.9 102.2 371.9 102.1 372.5 103.6 374.0 103.8 375.1 100.9 376.1 104.7 377.2 101.9 378.2 106.5 379.3 102.9 380.3 106.4 381.4 105.4 382.4 104.6 383.0 106.2 384.5 105.3 385.6 101.7 386.6 106.6 387.7 104.3 388.7 105.3 389.8 106.5 390.8 107.4 391.9 106.5 392.9 104.5 394.0 105.2 395.0 106.1 396.1 105.0 397.1 103.2 398.2 104.8 399.2 101.2 400.5 101.8 401.3 104.6 402.4 102.2 403.4 101.1 404.5 103.7 405.5 100.0 406.6 101.5 407.6 104.1 408.7 102.8 409.7 101.6 410.8 101.4 411.8 101.1 412.8 102.9 413.9 105.4 415.0 104.3 416.0 101.5 417.1 101.8 418.1 99.4 419.2 98.7 420.2 101.7 421.3 101.5 422.3 98.5 423.4 98.5 424.4 100.2 425.0 98.9 426.6 102.2 427.6 103.0 428.7 99.2 429.7 101.2 430.8 104.0 431.8 104.7 432.9 103.3 433.8 103.9 435.0 104.1 436.0 106.2 437.1 106.8 438.1 106.1 439.2 106.2 440.2 107.5 441.3 108.0 442.5 109.0 443.4 106.7 444.4 108.7 445.5 109.7 446.5 108.2 447.6 109.8 448.6 108.2 449.7 108.5 450.7 108.4 451.8 103.3 453.0 106.9 453.9 108.8 454.9 105.6 456.0 105.1 457.0 107.2 458.1 109.0 459.1 110.7 460.2 108.3 461.8 111.8 463.3 108.9 464.4 110.5 465.4 109.3 466.5 109.2 467.5 107.3 468.6 106.8 469.6 108.4 470.5 106.1 471.7 107.3 472.8 107.2 473.8 108.5 474.9 108.6 475.9 112.7 477.0 113.1 478.0 112.0 479.2 114.3 480.1 113.5 481.2 115.3 482.2 111.0 483.3 111.6 484.3 111.2 485.4 115.2 486.4 113.2 487.5 110.9 488.5 111.7 490.0 110.9 490.6 111.1 491.7 110.5 492.7 114.0 493.8 113.8 494.8 112.7 495.9 115.1 496.9 116.5 498.5 116.3 500.1 115.8 501.1 117.3 502.2 117.5 503.2 119.4 504.3 115.7 505.3 117.1 506.4 116.6 507.4 116.0 508.5 116.9 509.5 114.8 510.6 115.7 511.6 114.9 512.5 117.2 513.7 117.2 514.8 117.0 515.8 118.3 516.9 120.4 517.9 119.7 519.0 117.6 520.0 124.6 521.2 122.3 522.1 123.8 523.2 121.6 524.2 122.9 525.3 123.9 526.3 124.5 527.4 123.9 528.2 125.6 529.5 123.5 530.5 123.6 531.6 126.5 532.6 123.5 533.7 120.6 535.2 122.6 536.8 123.8 537.9 125.4 538.9 126.7 540.0 124.8 541.0 126.6 542.1 125.8 543.1 125.1 544.0 126.5 545.2 126.0 546.3 125.6 547.3 129.8 548.4 127.4 549.4 127.0 550.5 128.9 551.5 127.8 552.6 131.0 553.6 132.4 554.7 131.0 556.2 131.1 557.8 128.5 558.9 127.7"/>
<path class="ax" d="M156.5 98V165.5H559"/>
<path class="ax" d="M238.5 165v-5"/>
<path class="ax" d="M332.5 165v-5"/>
<path class="ax" d="M426.5 165v-5"/>
<path class="ax" d="M521.5 165v-5"/>
<path class="ax" d="M157 122.5h5"/>
<path class="ax" d="M157 154.5h5"/>
<text transform="translate(238.50 201.00) scale(0.975 1.07)" text-anchor="middle" font-size="24.0">2485</text>
<text transform="translate(331.50 201.00) scale(0.975 1.07)" text-anchor="middle" font-size="24.0">2490</text>
<text transform="translate(426.50 201.00) scale(0.975 1.07)" text-anchor="middle" font-size="24.0">2495</text>
<text transform="translate(520.50 201.00) scale(0.975 1.07)" text-anchor="middle" font-size="24.0">2500</text>
<text transform="translate(149.50 134.00) scale(0.975 1.07)" text-anchor="end" font-size="24.0">40</text>
<text transform="translate(149.50 166.00) scale(0.975 1.07)" text-anchor="end" font-size="24.0">20</text>
<text transform="translate(328.30 78.00) scale(1.03 1.115)" text-anchor="start" font-size="24.0">Bin 1</text>
<text transform="translate(110.00 133.30) rotate(-90) scale(1.02 1.14)" text-anchor="middle" font-size="24.0">ADU</text>
<text transform="translate(250.00 238.20) scale(1.013 1.09)" text-anchor="start" font-size="24.0">Wavenumber [cm</text>
<text transform="translate(440.00 226.20) scale(1.0 1.0)" text-anchor="start" font-size="18.0">-1</text>
<text transform="translate(456.50 238.20) scale(1.0 1.09)" text-anchor="start" font-size="24.0">]</text>
</g>
<g id="bin2">
<path class="gr" d="M766.5 161V98"/>
<path class="gr" d="M860.5 161V98"/>
<path class="gr" d="M955.5 160V98"/>
<path class="gr" d="M1049.5 162V98"/>
<path class="gr" d="M684 126.5H1087"/>
<path class="gr" d="M684 156.5H1087"/>
<path class="cv" stroke="#6fe6f0" stroke-opacity="0.4" stroke-width="1.8" transform="translate(0.3 1.3)" d="M684.6 163.0 685.7 163.5 686.8 162.7 687.8 161.9 688.9 162.3 689.9 161.1 691.0 162.3 692.0 161.0 693.1 160.7 694.1 160.9 695.2 159.7 696.2 160.3 697.3 160.3 698.3 160.1 699.4 159.7 700.8 159.0 701.5 159.1 702.5 157.8 703.6 158.3 704.6 157.5 705.7 157.1 706.7 157.6 707.8 157.9 708.8 157.3 709.9 155.9 711.2 155.6 712.0 154.6 713.0 154.2 714.1 154.0 715.1 153.5 716.2 152.3 717.2 152.0 718.2 151.1 719.3 150.6 720.4 151.5 721.4 151.1 722.5 150.2 723.5 149.5 724.6 149.2 725.6 148.2 726.7 147.4 727.7 148.3 728.8 146.7 729.8 147.5 730.5 146.7 731.9 146.3 733.0 147.2 734.0 145.9 735.1 144.9 736.1 144.7 737.2 142.8 738.2 144.4 739.3 142.5 740.3 142.0 741.4 141.6 742.8 141.6 743.5 140.7 744.5 140.3 745.6 140.8 746.6 140.1 747.7 140.7 748.7 139.8 749.8 139.8 750.8 137.1 751.9 137.8 752.9 137.8 754.0 137.7 755.0 136.3 756.1 136.5 757.1 136.5 758.2 133.9 759.2 133.4 760.3 132.9 761.3 133.5 762.4 131.5 763.4 132.2 764.5 131.1 765.5 130.8 766.6 130.3 767.6 135.6 769.0 134.9 769.7 135.3 770.8 132.1 771.8 134.1 772.9 132.3 773.9 130.8 775.0 131.0 776.0 130.6 777.1 132.4 778.1 130.3 779.5 129.4 780.2 129.8 781.3 129.7 782.3 127.6 783.4 130.2 784.4 129.0 785.5 129.7 786.5 130.3 787.6 127.9 788.6 130.8 789.7 127.5 790.7 127.4 791.8 127.0 792.8 128.3 793.9 125.5 794.9 124.1 796.0 123.1 797.0 123.6 798.1 123.4 799.1 121.9 800.5 119.7 801.2 119.1 802.3 117.9 803.3 119.9 804.4 121.7 805.4 120.9 806.5 124.3 807.5 123.4 808.6 122.1 809.6 123.5 811.0 123.3 811.7 121.9 812.8 121.8 813.8 119.7 814.9 120.6 815.9 121.8 817.0 119.2 818.0 121.5 819.1 118.3 820.1 119.0 821.5 117.3 822.2 115.9 823.3 114.8 824.3 116.6 825.4 116.7 826.4 115.1 827.5 114.5 828.5 110.4 829.6 112.8 830.6 114.7 832.0 113.2 832.7 113.4 833.8 111.8 834.8 114.4 835.9 112.7 836.9 114.4 838.0 115.5 839.0 112.1 840.1 113.2 840.8 113.7 842.2 113.7 843.2 112.9 844.3 113.7 845.3 113.4 846.4 110.8 847.4 111.1 848.5 112.5 849.5 108.9 850.6 109.3 851.6 106.6 853.0 108.9 853.7 112.0 854.8 111.7 855.8 107.3 856.9 110.3 857.9 107.7 859.0 107.0 860.0 105.7 861.1 108.8 862.1 105.8 863.2 111.4 864.2 110.6 865.3 111.3 866.0 111.3 867.4 113.8 868.4 110.0 869.5 107.7 870.5 105.8 871.6 108.4 872.6 106.9 873.7 109.1 874.7 110.7 875.8 109.9 876.8 108.0 877.9 109.7 878.9 105.3 880.0 104.2 881.0 105.2 882.1 106.6 882.8 103.1 884.2 102.0 885.2 107.9 886.3 103.1 887.4 105.4 888.2 106.8 889.5 107.8 890.5 107.1 891.6 106.2 892.6 101.9 893.7 101.8 894.7 104.1 895.8 104.5 896.8 103.2 897.9 101.6 898.9 102.7 900.5 101.9 902.1 98.5 903.1 103.0 904.2 103.5 905.2 101.4 906.3 98.7 907.3 99.6 908.4 99.3 909.2 99.7 910.5 99.7 911.5 100.7 912.6 101.1 913.6 99.8 914.7 98.5 916.2 98.9 917.8 103.8 918.9 108.7 919.9 106.8 920.6 102.3 922.0 102.3 923.1 102.9 924.1 103.9 925.2 101.7 926.2 101.6 927.3 102.0 928.3 102.6 929.4 101.7 930.2 101.1 931.5 101.8 932.5 103.0 933.6 102.5 934.6 104.0 935.7 111.5 936.4 116.6 938.1 103.0 938.8 102.1 939.9 103.5 940.9 105.3 942.0 102.5 943.0 100.4 944.1 101.7 945.1 100.2 946.0 101.3 947.2 102.6 948.3 99.9 949.3 102.1 950.4 101.3 951.4 103.5 953.0 100.7 954.6 103.6 955.6 104.3 956.5 103.8 957.7 103.0 958.8 101.4 959.8 100.5 960.9 105.5 961.9 99.6 963.5 101.0 965.1 101.3 966.1 100.6 967.2 103.3 968.2 105.4 969.3 106.3 970.3 107.3 971.4 106.1 972.4 107.6 973.5 106.6 974.5 107.2 975.8 109.5 976.6 110.4 977.7 108.3 978.7 108.3 979.8 106.9 980.8 107.5 981.9 105.3 982.9 107.0 984.0 106.3 985.0 105.7 986.1 109.0 987.1 104.0 988.0 105.0 989.2 107.1 990.3 105.7 991.3 109.2 992.4 107.4 993.4 110.3 995.0 111.1 996.6 112.6 997.6 107.4 998.7 111.9 999.7 113.1 1000.8 109.7 1001.8 106.6 1002.9 108.1 1003.8 107.0 1005.0 109.2 1006.0 108.6 1007.1 106.9 1008.1 111.9 1009.2 109.1 1010.2 112.2 1011.3 109.7 1012.3 110.0 1013.4 109.1 1014.4 111.8 1016.0 111.8 1017.6 111.2 1018.6 115.7 1019.7 113.3 1020.7 116.9 1021.8 114.9 1022.8 112.3 1023.9 113.2 1024.9 116.1 1026.0 118.6 1027.0 116.4 1028.1 115.8 1029.1 116.5 1030.0 118.4 1031.2 119.8 1032.3 117.2 1033.3 115.9 1034.4 115.3 1035.4 117.7 1036.5 114.8 1037.5 116.0 1038.6 115.5 1039.6 118.0 1040.5 114.7 1041.7 114.0 1042.8 115.0 1043.8 117.7 1044.9 115.5 1045.9 117.8 1047.0 115.6 1048.0 114.1 1049.2 116.8 1050.1 119.5 1051.2 117.9 1052.2 118.0 1053.3 120.0 1054.3 120.1 1055.4 122.5 1056.4 123.3 1057.5 125.0 1058.5 125.4 1059.8 126.6 1060.6 123.8 1061.7 127.1 1062.7 122.5 1063.8 126.3 1064.8 124.6 1065.9 124.8 1066.9 124.5 1068.0 125.7 1069.0 124.7 1070.1 126.0 1071.1 124.8 1072.0 125.3 1073.2 128.8 1074.3 127.1 1075.3 127.8 1076.4 127.2 1077.4 129.1 1078.5 129.3 1079.5 129.3 1080.6 130.2 1081.6 134.1 1082.7 130.6 1084.2 133.4 1085.8 128.7 1086.9 127.6"/>
<path class="cv" stroke="#ffa040" stroke-opacity="0.33" stroke-width="1.4" transform="translate(-0.3 -1.0)" d="M684.6 163.0 685.7 163.5 686.8 162.7 687.8 161.9 688.9 162.3 689.9 161.1 691.0 162.3 692.0 161.0 693.1 160.7 694.1 160.9 695.2 159.7 696.2 160.3 697.3 160.3 698.3 160.1 699.4 159.7 700.8 159.0 701.5 159.1 702.5 157.8 703.6 158.3 704.6 157.5 705.7 157.1 706.7 157.6 707.8 157.9 708.8 157.3 709.9 155.9 711.2 155.6 712.0 154.6 713.0 154.2 714.1 154.0 715.1 153.5 716.2 152.3 717.2 152.0 718.2 151.1 719.3 150.6 720.4 151.5 721.4 151.1 722.5 150.2 723.5 149.5 724.6 149.2 725.6 148.2 726.7 147.4 727.7 148.3 728.8 146.7 729.8 147.5 730.5 146.7 731.9 146.3 733.0 147.2 734.0 145.9 735.1 144.9 736.1 144.7 737.2 142.8 738.2 144.4 739.3 142.5 740.3 142.0 741.4 141.6 742.8 141.6 743.5 140.7 744.5 140.3 745.6 140.8 746.6 140.1 747.7 140.7 748.7 139.8 749.8 139.8 750.8 137.1 751.9 137.8 752.9 137.8 754.0 137.7 755.0 136.3 756.1 136.5 757.1 136.5 758.2 133.9 759.2 133.4 760.3 132.9 761.3 133.5 762.4 131.5 763.4 132.2 764.5 131.1 765.5 130.8 766.6 130.3 767.6 135.6 769.0 134.9 769.7 135.3 770.8 132.1 771.8 134.1 772.9 132.3 773.9 130.8 775.0 131.0 776.0 130.6 777.1 132.4 778.1 130.3 779.5 129.4 780.2 129.8 781.3 129.7 782.3 127.6 783.4 130.2 784.4 129.0 785.5 129.7 786.5 130.3 787.6 127.9 788.6 130.8 789.7 127.5 790.7 127.4 791.8 127.0 792.8 128.3 793.9 125.5 794.9 124.1 796.0 123.1 797.0 123.6 798.1 123.4 799.1 121.9 800.5 119.7 801.2 119.1 802.3 117.9 803.3 119.9 804.4 121.7 805.4 120.9 806.5 124.3 807.5 123.4 808.6 122.1 809.6 123.5 811.0 123.3 811.7 121.9 812.8 121.8 813.8 119.7 814.9 120.6 815.9 121.8 817.0 119.2 818.0 121.5 819.1 118.3 820.1 119.0 821.5 117.3 822.2 115.9 823.3 114.8 824.3 116.6 825.4 116.7 826.4 115.1 827.5 114.5 828.5 110.4 829.6 112.8 830.6 114.7 832.0 113.2 832.7 113.4 833.8 111.8 834.8 114.4 835.9 112.7 836.9 114.4 838.0 115.5 839.0 112.1 840.1 113.2 840.8 113.7 842.2 113.7 843.2 112.9 844.3 113.7 845.3 113.4 846.4 110.8 847.4 111.1 848.5 112.5 849.5 108.9 850.6 109.3 851.6 106.6 853.0 108.9 853.7 112.0 854.8 111.7 855.8 107.3 856.9 110.3 857.9 107.7 859.0 107.0 860.0 105.7 861.1 108.8 862.1 105.8 863.2 111.4 864.2 110.6 865.3 111.3 866.0 111.3 867.4 113.8 868.4 110.0 869.5 107.7 870.5 105.8 871.6 108.4 872.6 106.9 873.7 109.1 874.7 110.7 875.8 109.9 876.8 108.0 877.9 109.7 878.9 105.3 880.0 104.2 881.0 105.2 882.1 106.6 882.8 103.1 884.2 102.0 885.2 107.9 886.3 103.1 887.4 105.4 888.2 106.8 889.5 107.8 890.5 107.1 891.6 106.2 892.6 101.9 893.7 101.8 894.7 104.1 895.8 104.5 896.8 103.2 897.9 101.6 898.9 102.7 900.5 101.9 902.1 98.5 903.1 103.0 904.2 103.5 905.2 101.4 906.3 98.7 907.3 99.6 908.4 99.3 909.2 99.7 910.5 99.7 911.5 100.7 912.6 101.1 913.6 99.8 914.7 98.5 916.2 98.9 917.8 103.8 918.9 108.7 919.9 106.8 920.6 102.3 922.0 102.3 923.1 102.9 924.1 103.9 925.2 101.7 926.2 101.6 927.3 102.0 928.3 102.6 929.4 101.7 930.2 101.1 931.5 101.8 932.5 103.0 933.6 102.5 934.6 104.0 935.7 111.5 936.4 116.6 938.1 103.0 938.8 102.1 939.9 103.5 940.9 105.3 942.0 102.5 943.0 100.4 944.1 101.7 945.1 100.2 946.0 101.3 947.2 102.6 948.3 99.9 949.3 102.1 950.4 101.3 951.4 103.5 953.0 100.7 954.6 103.6 955.6 104.3 956.5 103.8 957.7 103.0 958.8 101.4 959.8 100.5 960.9 105.5 961.9 99.6 963.5 101.0 965.1 101.3 966.1 100.6 967.2 103.3 968.2 105.4 969.3 106.3 970.3 107.3 971.4 106.1 972.4 107.6 973.5 106.6 974.5 107.2 975.8 109.5 976.6 110.4 977.7 108.3 978.7 108.3 979.8 106.9 980.8 107.5 981.9 105.3 982.9 107.0 984.0 106.3 985.0 105.7 986.1 109.0 987.1 104.0 988.0 105.0 989.2 107.1 990.3 105.7 991.3 109.2 992.4 107.4 993.4 110.3 995.0 111.1 996.6 112.6 997.6 107.4 998.7 111.9 999.7 113.1 1000.8 109.7 1001.8 106.6 1002.9 108.1 1003.8 107.0 1005.0 109.2 1006.0 108.6 1007.1 106.9 1008.1 111.9 1009.2 109.1 1010.2 112.2 1011.3 109.7 1012.3 110.0 1013.4 109.1 1014.4 111.8 1016.0 111.8 1017.6 111.2 1018.6 115.7 1019.7 113.3 1020.7 116.9 1021.8 114.9 1022.8 112.3 1023.9 113.2 1024.9 116.1 1026.0 118.6 1027.0 116.4 1028.1 115.8 1029.1 116.5 1030.0 118.4 1031.2 119.8 1032.3 117.2 1033.3 115.9 1034.4 115.3 1035.4 117.7 1036.5 114.8 1037.5 116.0 1038.6 115.5 1039.6 118.0 1040.5 114.7 1041.7 114.0 1042.8 115.0 1043.8 117.7 1044.9 115.5 1045.9 117.8 1047.0 115.6 1048.0 114.1 1049.2 116.8 1050.1 119.5 1051.2 117.9 1052.2 118.0 1053.3 120.0 1054.3 120.1 1055.4 122.5 1056.4 123.3 1057.5 125.0 1058.5 125.4 1059.8 126.6 1060.6 123.8 1061.7 127.1 1062.7 122.5 1063.8 126.3 1064.8 124.6 1065.9 124.8 1066.9 124.5 1068.0 125.7 1069.0 124.7 1070.1 126.0 1071.1 124.8 1072.0 125.3 1073.2 128.8 1074.3 127.1 1075.3 127.8 1076.4 127.2 1077.4 129.1 1078.5 129.3 1079.5 129.3 1080.6 130.2 1081.6 134.1 1082.7 130.6 1084.2 133.4 1085.8 128.7 1086.9 127.6"/>
<path class="cv" stroke="#1c2470" stroke-opacity="0.6" stroke-width="1" d="M684.6 163.3 685.7 163.9 686.8 163.0 687.8 162.2 688.9 162.7 689.9 161.4 691.0 162.7 692.0 161.3 693.1 161.2 694.1 161.0 695.2 160.0 696.2 160.7 697.3 160.7 698.3 160.4 699.4 160.0 700.8 159.4 701.5 159.5 702.5 158.0 703.6 158.7 704.6 157.8 705.7 157.5 706.7 157.9 707.8 158.3 708.8 157.8 709.9 156.2 711.2 155.9 712.0 154.9 713.0 154.5 714.1 154.2 715.1 153.8 716.2 152.6 717.2 152.2 718.2 151.6 719.3 150.7 720.4 151.6 721.4 151.5 722.5 150.6 723.5 149.8 724.6 149.7 725.6 148.7 726.7 147.7 727.7 148.5 728.8 147.0 729.8 148.0 730.5 147.1 731.9 146.6 733.0 147.6 734.0 146.3 735.1 145.0 736.1 145.1 737.2 143.0 738.2 144.7 739.3 142.7 740.3 142.3 741.4 142.1 742.8 141.9 743.5 141.1 744.5 140.7 745.6 141.2 746.6 140.4 747.7 141.1 748.7 140.1 749.8 140.1 750.8 137.5 751.9 138.4 752.9 138.0 754.0 138.0 755.0 136.7 756.1 136.7 757.1 136.8 758.2 134.4 759.2 133.5 760.3 133.2 761.3 133.7 762.4 132.1 763.4 132.6 764.5 131.6 765.5 131.2 766.6 130.4 767.6 136.0 769.0 135.3 769.7 135.7 770.8 132.7 771.8 134.6 772.9 132.5 773.9 131.1 775.0 131.4 776.0 130.8 777.1 132.7 778.1 130.5 779.5 129.8 780.2 130.2 781.3 130.0 782.3 128.1 783.4 130.4 784.4 129.4 785.5 129.9 786.5 130.5 787.6 128.1 788.6 131.1 789.7 128.0 790.7 127.6 791.8 127.6 792.8 128.5 793.9 126.1 794.9 124.4 796.0 123.4 797.0 124.1 798.1 123.6 799.1 122.3 800.5 120.0 801.2 120.0 802.3 118.0 803.3 120.5 804.4 122.0 805.4 121.1 806.5 124.5 807.5 123.9 808.6 122.4 809.6 123.7 811.0 123.8 811.7 122.3 812.8 122.3 813.8 119.8 814.9 121.2 815.9 122.3 817.0 119.4 818.0 121.8 819.1 118.7 820.1 119.3 821.5 117.8 822.2 116.4 823.3 115.1 824.3 116.7 825.4 116.6 826.4 115.5 827.5 114.6 828.5 111.0 829.6 113.5 830.6 115.1 832.0 113.7 832.7 114.0 833.8 112.3 834.8 114.5 835.9 112.9 836.9 114.7 838.0 115.9 839.0 112.3 840.1 113.6 840.8 114.3 842.2 114.0 843.2 113.3 844.3 113.8 845.3 113.7 846.4 111.3 847.4 111.7 848.5 112.9 849.5 109.1 850.6 110.0 851.6 106.5 853.0 109.2 853.7 112.2 854.8 112.1 855.8 107.8 856.9 110.5 857.9 108.7 859.0 107.8 860.0 106.2 861.1 109.1 862.1 105.8 863.2 112.0 864.2 111.1 865.3 111.8 866.0 111.9 867.4 114.2 868.4 110.1 869.5 107.7 870.5 106.1 871.6 108.8 872.6 107.4 873.7 109.5 874.7 111.0 875.8 110.1 876.8 108.5 877.9 110.2 878.9 105.5 880.0 104.3 881.0 105.4 882.1 106.8 882.8 103.5 884.2 102.1 885.2 108.3 886.3 103.2 887.4 105.8 888.2 107.7 889.5 107.9 890.5 107.4 891.6 107.1 892.6 102.4 893.7 102.2 894.7 104.5 895.8 104.7 896.8 103.2 897.9 101.4 898.9 102.9 900.5 102.1 902.1 99.1 903.1 103.4 904.2 103.5 905.2 101.8 906.3 98.8 907.3 100.2 908.4 99.4 909.2 100.2 910.5 100.1 911.5 100.9 912.6 101.7 913.6 100.1 914.7 98.3 916.2 99.3 917.8 104.0 918.9 109.0 919.9 107.2 920.6 102.8 922.0 102.7 923.1 103.0 924.1 104.1 925.2 101.8 926.2 101.9 927.3 102.2 928.3 103.1 929.4 101.8 930.2 101.6 931.5 102.5 932.5 103.4 933.6 102.8 934.6 104.5 935.7 111.6 936.4 116.9 938.1 103.7 938.8 102.6 939.9 103.8 940.9 105.6 942.0 102.7 943.0 101.1 944.1 102.4 945.1 100.9 946.0 101.6 947.2 103.0 948.3 100.1 949.3 102.2 950.4 101.8 951.4 104.0 953.0 100.8 954.6 103.7 955.6 104.7 956.5 103.9 957.7 103.5 958.8 102.0 959.8 100.6 960.9 105.7 961.9 100.2 963.5 101.6 965.1 101.7 966.1 100.9 967.2 103.5 968.2 105.8 969.3 106.7 970.3 107.6 971.4 106.3 972.4 107.9 973.5 106.9 974.5 107.4 975.8 109.6 976.6 110.8 977.7 108.8 978.7 108.6 979.8 107.5 980.8 107.9 981.9 105.8 982.9 107.5 984.0 106.2 985.0 106.2 986.1 109.5 987.1 104.1 988.0 105.0 989.2 107.3 990.3 105.9 991.3 109.6 992.4 107.4 993.4 110.6 995.0 111.2 996.6 113.0 997.6 107.7 998.7 112.3 999.7 113.4 1000.8 109.9 1001.8 107.1 1002.9 108.2 1003.8 107.3 1005.0 109.4 1006.0 108.9 1007.1 107.1 1008.1 112.4 1009.2 109.6 1010.2 112.4 1011.3 110.4 1012.3 110.4 1013.4 109.7 1014.4 111.9 1016.0 112.1 1017.6 111.4 1018.6 116.4 1019.7 113.8 1020.7 117.2 1021.8 115.3 1022.8 112.6 1023.9 113.5 1024.9 116.3 1026.0 119.2 1027.0 116.8 1028.1 116.0 1029.1 116.9 1030.0 118.9 1031.2 120.1 1032.3 117.4 1033.3 116.3 1034.4 115.7 1035.4 118.4 1036.5 115.1 1037.5 116.4 1038.6 115.8 1039.6 118.3 1040.5 115.1 1041.7 114.1 1042.8 115.2 1043.8 117.8 1044.9 115.9 1045.9 118.1 1047.0 115.7 1048.0 114.3 1049.2 117.2 1050.1 119.7 1051.2 117.8 1052.2 118.7 1053.3 120.3 1054.3 120.6 1055.4 122.6 1056.4 123.5 1057.5 125.4 1058.5 125.8 1059.8 126.9 1060.6 124.4 1061.7 127.3 1062.7 122.8 1063.8 127.0 1064.8 125.0 1065.9 124.9 1066.9 125.0 1068.0 126.2 1069.0 125.3 1070.1 126.7 1071.1 125.2 1072.0 125.8 1073.2 129.1 1074.3 127.3 1075.3 128.0 1076.4 127.4 1077.4 129.2 1078.5 129.9 1079.5 129.5 1080.6 130.3 1081.6 134.4 1082.7 130.8 1084.2 133.9 1085.8 129.3 1086.9 128.0"/>
<path class="cv" stroke="#1a6a66" stroke-opacity="0.6" stroke-width="1" d="M684.6 163.2 685.7 163.8 686.8 162.9 687.8 162.2 688.9 162.5 689.9 161.4 691.0 162.6 692.0 161.3 693.1 161.0 694.1 161.1 695.2 159.9 696.2 160.6 697.3 160.6 698.3 160.3 699.4 160.0 700.8 159.0 701.5 159.3 702.5 158.2 703.6 158.6 704.6 157.7 705.7 157.4 706.7 157.9 707.8 158.1 708.8 157.5 709.9 156.2 711.2 155.9 712.0 154.9 713.0 154.6 714.1 154.2 715.1 153.9 716.2 152.4 717.2 152.0 718.2 151.3 719.3 150.8 720.4 151.9 721.4 151.4 722.5 150.5 723.5 149.6 724.6 149.5 725.6 148.5 726.7 147.6 727.7 148.7 728.8 147.1 729.8 147.8 730.5 146.9 731.9 146.5 733.0 147.5 734.0 146.0 735.1 145.2 736.1 144.9 737.2 143.0 738.2 144.5 739.3 142.6 740.3 142.1 741.4 141.9 742.8 141.9 743.5 141.0 744.5 140.7 745.6 141.0 746.6 140.5 747.7 140.9 748.7 140.0 749.8 140.0 750.8 137.5 751.9 138.3 752.9 138.0 754.0 137.9 755.0 136.4 756.1 136.8 757.1 136.8 758.2 134.2 759.2 133.7 760.3 133.3 761.3 133.7 762.4 131.8 763.4 132.4 764.5 131.2 765.5 130.8 766.6 130.5 767.6 135.8 769.0 135.1 769.7 135.5 770.8 132.4 771.8 134.4 772.9 132.3 773.9 131.0 775.0 131.4 776.0 130.9 777.1 132.6 778.1 130.5 779.5 129.4 780.2 130.1 781.3 129.9 782.3 127.8 783.4 130.5 784.4 129.2 785.5 129.8 786.5 130.3 787.6 128.0 788.6 131.0 789.7 127.8 790.7 127.8 791.8 127.3 792.8 128.6 793.9 125.5 794.9 124.4 796.0 123.4 797.0 124.2 798.1 123.7 799.1 122.1 800.5 119.9 801.2 119.5 802.3 118.0 803.3 119.8 804.4 122.0 805.4 121.1 806.5 124.5 807.5 123.6 808.6 122.3 809.6 123.8 811.0 123.6 811.7 122.2 812.8 122.2 813.8 119.9 814.9 120.6 815.9 122.0 817.0 119.2 818.0 121.8 819.1 118.3 820.1 119.2 821.5 117.7 822.2 116.3 823.3 114.9 824.3 116.6 825.4 116.8 826.4 115.5 827.5 114.8 828.5 110.4 829.6 113.3 830.6 115.0 832.0 113.5 832.7 113.9 833.8 111.9 834.8 114.7 835.9 113.0 836.9 114.9 838.0 115.7 839.0 112.1 840.1 113.5 840.8 114.1 842.2 113.9 843.2 113.1 844.3 114.0 845.3 113.6 846.4 111.0 847.4 111.3 848.5 113.0 849.5 109.1 850.6 109.6 851.6 107.0 853.0 109.4 853.7 111.9 854.8 111.9 855.8 107.3 856.9 110.5 857.9 107.5 859.0 107.0 860.0 106.0 861.1 109.1 862.1 105.8 863.2 111.7 864.2 111.1 865.3 111.4 866.0 111.8 867.4 114.0 868.4 109.8 869.5 108.0 870.5 106.1 871.6 108.9 872.6 107.1 873.7 109.7 874.7 110.9 875.8 110.2 876.8 108.2 877.9 110.1 878.9 105.8 880.0 104.4 881.0 105.3 882.1 107.0 882.8 103.3 884.2 102.3 885.2 108.3 886.3 103.4 887.4 105.7 888.2 107.1 889.5 108.1 890.5 107.5 891.6 106.7 892.6 102.2 893.7 101.7 894.7 104.0 895.8 104.9 896.8 103.7 897.9 102.2 898.9 102.9 900.5 102.2 902.1 98.6 903.1 103.4 904.2 103.8 905.2 101.4 906.3 99.1 907.3 99.8 908.4 100.0 909.2 100.2 910.5 99.6 911.5 101.1 912.6 101.2 913.6 99.9 914.7 98.7 916.2 98.9 917.8 104.7 918.9 109.2 919.9 106.9 920.6 102.8 922.0 102.1 923.1 103.4 924.1 104.2 925.2 102.0 926.2 102.0 927.3 102.3 928.3 103.0 929.4 101.7 930.2 101.4 931.5 102.0 932.5 103.4 933.6 102.7 934.6 104.3 935.7 111.6 936.4 116.6 938.1 103.1 938.8 102.6 939.9 103.7 940.9 105.6 942.0 102.7 943.0 100.9 944.1 101.8 945.1 99.9 946.0 101.4 947.2 102.8 948.3 100.5 949.3 102.2 950.4 101.5 951.4 103.9 953.0 101.2 954.6 103.8 955.6 104.8 956.5 104.0 957.7 103.3 958.8 101.4 959.8 100.3 960.9 105.6 961.9 99.7 963.5 101.1 965.1 102.1 966.1 100.5 967.2 103.6 968.2 106.0 969.3 106.7 970.3 107.7 971.4 106.3 972.4 107.8 973.5 107.2 974.5 107.8 975.8 109.7 976.6 110.8 977.7 108.6 978.7 108.7 979.8 107.0 980.8 108.0 981.9 105.5 982.9 107.3 984.0 106.4 985.0 106.2 986.1 109.2 987.1 104.4 988.0 105.3 989.2 107.6 990.3 106.0 991.3 110.0 992.4 107.5 993.4 110.7 995.0 111.2 996.6 112.9 997.6 107.4 998.7 112.4 999.7 112.9 1000.8 110.1 1001.8 106.6 1002.9 108.3 1003.8 107.4 1005.0 109.3 1006.0 108.9 1007.1 107.2 1008.1 112.0 1009.2 109.4 1010.2 112.7 1011.3 110.0 1012.3 110.3 1013.4 109.4 1014.4 112.1 1016.0 112.3 1017.6 111.7 1018.6 115.9 1019.7 113.6 1020.7 117.0 1021.8 115.1 1022.8 112.6 1023.9 113.4 1024.9 116.4 1026.0 119.1 1027.0 116.8 1028.1 116.2 1029.1 116.3 1030.0 118.7 1031.2 119.9 1032.3 117.3 1033.3 116.1 1034.4 115.6 1035.4 117.6 1036.5 115.4 1037.5 116.4 1038.6 115.7 1039.6 118.1 1040.5 114.7 1041.7 114.5 1042.8 115.1 1043.8 117.9 1044.9 115.7 1045.9 118.0 1047.0 116.2 1048.0 114.6 1049.2 116.8 1050.1 119.6 1051.2 118.4 1052.2 118.3 1053.3 120.1 1054.3 120.3 1055.4 122.9 1056.4 123.5 1057.5 125.3 1058.5 126.2 1059.8 126.9 1060.6 123.9 1061.7 127.5 1062.7 122.6 1063.8 126.5 1064.8 124.8 1065.9 124.9 1066.9 124.8 1068.0 126.0 1069.0 125.0 1070.1 126.4 1071.1 125.3 1072.0 125.5 1073.2 129.2 1074.3 127.6 1075.3 128.0 1076.4 127.6 1077.4 129.2 1078.5 129.4 1079.5 129.5 1080.6 130.6 1081.6 134.7 1082.7 130.9 1084.2 133.8 1085.8 128.8 1086.9 127.9"/>
<path class="cv" stroke="#8c1616" stroke-opacity="0.6" stroke-width="1" d="M684.6 162.8 685.7 163.4 686.8 162.6 687.8 161.8 688.9 162.2 689.9 160.9 691.0 162.2 692.0 160.9 693.1 160.6 694.1 160.8 695.2 159.6 696.2 160.2 697.3 160.2 698.3 160.0 699.4 159.6 700.8 158.8 701.5 158.8 702.5 157.8 703.6 158.3 704.6 157.4 705.7 157.0 706.7 157.5 707.8 157.8 708.8 157.2 709.9 155.8 711.2 155.4 712.0 154.4 713.0 154.1 714.1 153.9 715.1 153.4 716.2 152.3 717.2 151.9 718.2 150.8 719.3 150.5 720.4 151.4 721.4 151.1 722.5 150.1 723.5 149.3 724.6 149.2 725.6 148.1 726.7 147.4 727.7 148.3 728.8 146.5 729.8 147.5 730.5 146.5 731.9 146.2 733.0 147.1 734.0 145.8 735.1 144.6 736.1 144.6 737.2 142.6 738.2 144.3 739.3 142.4 740.3 142.0 741.4 141.5 742.8 141.6 743.5 140.5 744.5 140.2 745.6 140.8 746.6 140.1 747.7 140.6 748.7 139.7 749.8 139.6 750.8 137.2 751.9 137.7 752.9 137.7 754.0 137.8 755.0 136.2 756.1 136.4 757.1 136.4 758.2 133.8 759.2 133.4 760.3 132.8 761.3 133.3 762.4 131.6 763.4 132.2 764.5 131.0 765.5 130.7 766.6 130.0 767.6 135.5 769.0 134.7 769.7 135.3 770.8 132.1 771.8 134.0 772.9 132.2 773.9 130.8 775.0 130.9 776.0 130.6 777.1 132.4 778.1 130.2 779.5 129.4 780.2 129.6 781.3 129.7 782.3 127.3 783.4 130.1 784.4 128.8 785.5 129.6 786.5 130.2 787.6 127.8 788.6 130.5 789.7 127.4 790.7 127.3 791.8 126.9 792.8 128.2 793.9 125.3 794.9 123.9 796.0 123.0 797.0 123.5 798.1 123.3 799.1 121.9 800.5 119.6 801.2 118.9 802.3 117.7 803.3 119.8 804.4 121.5 805.4 120.8 806.5 123.9 807.5 123.4 808.6 122.0 809.6 123.3 811.0 123.2 811.7 121.8 812.8 121.7 813.8 119.6 814.9 120.5 815.9 121.5 817.0 118.9 818.0 121.5 819.1 118.1 820.1 119.0 821.5 117.3 822.2 115.8 823.3 114.6 824.3 116.4 825.4 116.7 826.4 115.0 827.5 114.3 828.5 110.4 829.6 112.6 830.6 114.5 832.0 113.0 832.7 113.3 833.8 111.6 834.8 114.2 835.9 112.7 836.9 114.2 838.0 115.3 839.0 112.1 840.1 113.0 840.8 113.6 842.2 113.7 843.2 112.8 844.3 113.8 845.3 113.3 846.4 110.5 847.4 111.1 848.5 112.4 849.5 108.9 850.6 109.0 851.6 106.4 853.0 109.0 853.7 111.9 854.8 111.8 855.8 107.1 856.9 110.2 857.9 107.6 859.0 107.1 860.0 105.5 861.1 108.9 862.1 105.7 863.2 111.3 864.2 110.4 865.3 111.1 866.0 111.0 867.4 113.7 868.4 109.8 869.5 107.8 870.5 105.8 871.6 108.4 872.6 107.0 873.7 109.0 874.7 110.7 875.8 109.6 876.8 107.8 877.9 109.8 878.9 105.2 880.0 104.3 881.0 105.1 882.1 106.4 882.8 103.2 884.2 101.9 885.2 107.7 886.3 103.0 887.4 105.2 888.2 106.7 889.5 107.8 890.5 106.9 891.6 106.1 892.6 101.7 893.7 101.7 894.7 104.0 895.8 104.4 896.8 103.0 897.9 101.4 898.9 102.7 900.5 101.9 902.1 98.5 903.1 103.3 904.2 103.4 905.2 101.2 906.3 98.6 907.3 99.6 908.4 99.1 909.2 99.6 910.5 99.4 911.5 100.5 912.6 101.1 913.6 99.8 914.7 98.5 916.2 99.0 917.8 103.7 918.9 108.8 919.9 106.9 920.6 102.0 922.0 102.1 923.1 102.9 924.1 103.9 925.2 101.8 926.2 101.5 927.3 101.8 928.3 102.4 929.4 101.8 930.2 101.0 931.5 101.4 932.5 102.9 933.6 102.5 934.6 103.9 935.7 111.4 936.4 116.5 938.1 102.9 938.8 101.9 939.9 103.4 940.9 105.3 942.0 102.3 943.0 100.5 944.1 101.8 945.1 100.2 946.0 101.2 947.2 102.5 948.3 99.7 949.3 102.2 950.4 101.2 951.4 103.3 953.0 100.9 954.6 103.7 955.6 104.1 956.5 103.8 957.7 102.9 958.8 101.4 959.8 100.2 960.9 105.2 961.9 99.3 963.5 101.0 965.1 101.2 966.1 100.5 967.2 103.4 968.2 105.4 969.3 106.0 970.3 107.2 971.4 106.1 972.4 107.3 973.5 106.7 974.5 107.1 975.8 109.5 976.6 110.5 977.7 108.2 978.7 108.3 979.8 106.9 980.8 107.3 981.9 105.2 982.9 106.9 984.0 106.3 985.0 105.8 986.1 108.7 987.1 103.9 988.0 104.8 989.2 107.1 990.3 105.7 991.3 109.3 992.4 107.1 993.4 110.2 995.0 111.1 996.6 112.4 997.6 107.4 998.7 111.9 999.7 113.2 1000.8 109.7 1001.8 106.2 1002.9 107.9 1003.8 106.9 1005.0 109.1 1006.0 108.4 1007.1 107.0 1008.1 111.6 1009.2 109.0 1010.2 112.2 1011.3 109.4 1012.3 109.9 1013.4 109.0 1014.4 111.6 1016.0 112.0 1017.6 111.0 1018.6 115.7 1019.7 113.1 1020.7 116.7 1021.8 114.8 1022.8 112.3 1023.9 113.1 1024.9 116.1 1026.0 118.5 1027.0 116.4 1028.1 115.7 1029.1 116.4 1030.0 118.3 1031.2 119.7 1032.3 117.1 1033.3 115.7 1034.4 115.2 1035.4 117.5 1036.5 114.9 1037.5 115.9 1038.6 115.5 1039.6 117.9 1040.5 114.7 1041.7 113.7 1042.8 114.8 1043.8 117.7 1044.9 115.5 1045.9 117.5 1047.0 115.4 1048.0 113.9 1049.2 116.6 1050.1 119.2 1051.2 117.6 1052.2 118.0 1053.3 119.9 1054.3 120.1 1055.4 122.4 1056.4 123.1 1057.5 124.9 1058.5 125.3 1059.8 126.4 1060.6 123.7 1061.7 127.0 1062.7 122.5 1063.8 126.2 1064.8 124.5 1065.9 124.7 1066.9 124.3 1068.0 125.7 1069.0 124.7 1070.1 125.9 1071.1 124.7 1072.0 125.2 1073.2 128.6 1074.3 126.9 1075.3 127.7 1076.4 127.2 1077.4 129.2 1078.5 129.3 1079.5 129.2 1080.6 130.3 1081.6 134.0 1082.7 130.6 1084.2 133.2 1085.8 128.6 1086.9 127.4"/>
<path class="cv " stroke="#52100e" stroke-width="1" d="M684.6 163.0 685.7 163.5 686.8 162.7 687.8 161.9 688.9 162.3 689.9 161.1 691.0 162.3 692.0 161.0 693.1 160.7 694.1 160.9 695.2 159.7 696.2 160.3 697.3 160.3 698.3 160.1 699.4 159.7 700.8 159.0 701.5 159.1 702.5 157.8 703.6 158.3 704.6 157.5 705.7 157.1 706.7 157.6 707.8 157.9 708.8 157.3 709.9 155.9 711.2 155.6 712.0 154.6 713.0 154.2 714.1 154.0 715.1 153.5 716.2 152.3 717.2 152.0 718.2 151.1 719.3 150.6 720.4 151.5 721.4 151.1 722.5 150.2 723.5 149.5 724.6 149.2 725.6 148.2 726.7 147.4 727.7 148.3 728.8 146.7 729.8 147.5 730.5 146.7 731.9 146.3 733.0 147.2 734.0 145.9 735.1 144.9 736.1 144.7 737.2 142.8 738.2 144.4 739.3 142.5 740.3 142.0 741.4 141.6 742.8 141.6 743.5 140.7 744.5 140.3 745.6 140.8 746.6 140.1 747.7 140.7 748.7 139.8 749.8 139.8 750.8 137.1 751.9 137.8 752.9 137.8 754.0 137.7 755.0 136.3 756.1 136.5 757.1 136.5 758.2 133.9 759.2 133.4 760.3 132.9 761.3 133.5 762.4 131.5 763.4 132.2 764.5 131.1 765.5 130.8 766.6 130.3 767.6 135.6 769.0 134.9 769.7 135.3 770.8 132.1 771.8 134.1 772.9 132.3 773.9 130.8 775.0 131.0 776.0 130.6 777.1 132.4 778.1 130.3 779.5 129.4 780.2 129.8 781.3 129.7 782.3 127.6 783.4 130.2 784.4 129.0 785.5 129.7 786.5 130.3 787.6 127.9 788.6 130.8 789.7 127.5 790.7 127.4 791.8 127.0 792.8 128.3 793.9 125.5 794.9 124.1 796.0 123.1 797.0 123.6 798.1 123.4 799.1 121.9 800.5 119.7 801.2 119.1 802.3 117.9 803.3 119.9 804.4 121.7 805.4 120.9 806.5 124.3 807.5 123.4 808.6 122.1 809.6 123.5 811.0 123.3 811.7 121.9 812.8 121.8 813.8 119.7 814.9 120.6 815.9 121.8 817.0 119.2 818.0 121.5 819.1 118.3 820.1 119.0 821.5 117.3 822.2 115.9 823.3 114.8 824.3 116.6 825.4 116.7 826.4 115.1 827.5 114.5 828.5 110.4 829.6 112.8 830.6 114.7 832.0 113.2 832.7 113.4 833.8 111.8 834.8 114.4 835.9 112.7 836.9 114.4 838.0 115.5 839.0 112.1 840.1 113.2 840.8 113.7 842.2 113.7 843.2 112.9 844.3 113.7 845.3 113.4 846.4 110.8 847.4 111.1 848.5 112.5 849.5 108.9 850.6 109.3 851.6 106.6 853.0 108.9 853.7 112.0 854.8 111.7 855.8 107.3 856.9 110.3 857.9 107.7 859.0 107.0 860.0 105.7 861.1 108.8 862.1 105.8 863.2 111.4 864.2 110.6 865.3 111.3 866.0 111.3 867.4 113.8 868.4 110.0 869.5 107.7 870.5 105.8 871.6 108.4 872.6 106.9 873.7 109.1 874.7 110.7 875.8 109.9 876.8 108.0 877.9 109.7 878.9 105.3 880.0 104.2 881.0 105.2 882.1 106.6 882.8 103.1 884.2 102.0 885.2 107.9 886.3 103.1 887.4 105.4 888.2 106.8 889.5 107.8 890.5 107.1 891.6 106.2 892.6 101.9 893.7 101.8 894.7 104.1 895.8 104.5 896.8 103.2 897.9 101.6 898.9 102.7 900.5 101.9 902.1 98.5 903.1 103.0 904.2 103.5 905.2 101.4 906.3 98.7 907.3 99.6 908.4 99.3 909.2 99.7 910.5 99.7 911.5 100.7 912.6 101.1 913.6 99.8 914.7 98.5 916.2 98.9 917.8 103.8 918.9 108.7 919.9 106.8 920.6 102.3 922.0 102.3 923.1 102.9 924.1 103.9 925.2 101.7 926.2 101.6 927.3 102.0 928.3 102.6 929.4 101.7 930.2 101.1 931.5 101.8 932.5 103.0 933.6 102.5 934.6 104.0 935.7 111.5 936.4 116.6 938.1 103.0 938.8 102.1 939.9 103.5 940.9 105.3 942.0 102.5 943.0 100.4 944.1 101.7 945.1 100.2 946.0 101.3 947.2 102.6 948.3 99.9 949.3 102.1 950.4 101.3 951.4 103.5 953.0 100.7 954.6 103.6 955.6 104.3 956.5 103.8 957.7 103.0 958.8 101.4 959.8 100.5 960.9 105.5 961.9 99.6 963.5 101.0 965.1 101.3 966.1 100.6 967.2 103.3 968.2 105.4 969.3 106.3 970.3 107.3 971.4 106.1 972.4 107.6 973.5 106.6 974.5 107.2 975.8 109.5 976.6 110.4 977.7 108.3 978.7 108.3 979.8 106.9 980.8 107.5 981.9 105.3 982.9 107.0 984.0 106.3 985.0 105.7 986.1 109.0 987.1 104.0 988.0 105.0 989.2 107.1 990.3 105.7 991.3 109.2 992.4 107.4 993.4 110.3 995.0 111.1 996.6 112.6 997.6 107.4 998.7 111.9 999.7 113.1 1000.8 109.7 1001.8 106.6 1002.9 108.1 1003.8 107.0 1005.0 109.2 1006.0 108.6 1007.1 106.9 1008.1 111.9 1009.2 109.1 1010.2 112.2 1011.3 109.7 1012.3 110.0 1013.4 109.1 1014.4 111.8 1016.0 111.8 1017.6 111.2 1018.6 115.7 1019.7 113.3 1020.7 116.9 1021.8 114.9 1022.8 112.3 1023.9 113.2 1024.9 116.1 1026.0 118.6 1027.0 116.4 1028.1 115.8 1029.1 116.5 1030.0 118.4 1031.2 119.8 1032.3 117.2 1033.3 115.9 1034.4 115.3 1035.4 117.7 1036.5 114.8 1037.5 116.0 1038.6 115.5 1039.6 118.0 1040.5 114.7 1041.7 114.0 1042.8 115.0 1043.8 117.7 1044.9 115.5 1045.9 117.8 1047.0 115.6 1048.0 114.1 1049.2 116.8 1050.1 119.5 1051.2 117.9 1052.2 118.0 1053.3 120.0 1054.3 120.1 1055.4 122.5 1056.4 123.3 1057.5 125.0 1058.5 125.4 1059.8 126.6 1060.6 123.8 1061.7 127.1 1062.7 122.5 1063.8 126.3 1064.8 124.6 1065.9 124.8 1066.9 124.5 1068.0 125.7 1069.0 124.7 1070.1 126.0 1071.1 124.8 1072.0 125.3 1073.2 128.8 1074.3 127.1 1075.3 127.8 1076.4 127.2 1077.4 129.1 1078.5 129.3 1079.5 129.3 1080.6 130.2 1081.6 134.1 1082.7 130.6 1084.2 133.4 1085.8 128.7 1086.9 127.6"/>
<path class="ax" d="M684.5 98V165.5H1087"/>
<path class="ax" d="M766.5 165v-5"/>
<path class="ax" d="M860.5 165v-5"/>
<path class="ax" d="M955.5 165v-5"/>
<path class="ax" d="M1049.5 165v-5"/>
<path class="ax" d="M685 126.5h5"/>
<path class="ax" d="M685 156.5h5"/>
<text transform="translate(766.50 201.00) scale(0.975 1.07)" text-anchor="middle" font-size="24.0">2485</text>
<text transform="translate(859.50 201.00) scale(0.975 1.07)" text-anchor="middle" font-size="24.0">2490</text>
<text transform="translate(954.50 201.00) scale(0.975 1.07)" text-anchor="middle" font-size="24.0">2495</text>
<text transform="translate(1048.50 201.00) scale(0.975 1.07)" text-anchor="middle" font-size="24.0">2500</text>
<text transform="translate(677.50 138.00) scale(0.975 1.07)" text-anchor="end" font-size="24.0">40</text>
<text transform="translate(677.50 168.00) scale(0.975 1.07)" text-anchor="end" font-size="24.0">20</text>
<text transform="translate(856.30 78.00) scale(1.03 1.115)" text-anchor="start" font-size="24.0">Bin 2</text>
<text transform="translate(638.00 133.30) rotate(-90) scale(1.02 1.14)" text-anchor="middle" font-size="24.0">ADU</text>
<text transform="translate(778.00 238.20) scale(1.013 1.09)" text-anchor="start" font-size="24.0">Wavenumber [cm</text>
<text transform="translate(968.00 226.20) scale(1.0 1.0)" text-anchor="start" font-size="18.0">-1</text>
<text transform="translate(984.50 238.20) scale(1.0 1.09)" text-anchor="start" font-size="24.0">]</text>
</g>
<g id="bin3">
<path class="gr" d="M238.5 359V295"/>
<path class="gr" d="M332.5 359V295"/>
<path class="gr" d="M426.5 358V295"/>
<path class="gr" d="M521.5 360V295"/>
<path class="gr" d="M156 323.5H559"/>
<path class="gr" d="M156 353.5H559"/>
<path class="cv" stroke="#6fe6f0" stroke-opacity="0.4" stroke-width="1.8" transform="translate(0.3 1.3)" d="M156.7 362.1 157.7 361.7 158.8 361.5 159.8 360.2 160.9 360.5 161.9 361.5 163.0 359.3 164.0 359.5 165.1 359.3 166.1 357.9 167.2 358.6 168.2 358.8 169.3 357.9 170.3 357.1 171.4 357.4 172.8 356.9 173.5 356.8 174.5 356.2 175.6 355.7 176.6 354.8 177.7 355.7 178.7 354.6 179.8 354.4 180.8 353.7 181.9 352.9 182.9 353.0 184.0 352.3 185.0 351.8 186.1 351.3 187.1 350.3 188.2 350.0 189.2 349.5 190.3 349.3 191.3 347.5 192.4 348.2 193.8 346.1 194.5 345.5 195.5 346.0 196.6 345.2 197.6 345.8 198.7 343.4 199.7 343.7 200.8 343.2 201.8 344.2 202.9 345.0 203.9 342.6 205.0 342.8 206.0 342.8 207.1 343.1 208.1 342.4 209.2 342.0 210.2 340.2 211.3 340.1 212.3 339.2 213.4 338.8 214.4 338.5 215.5 338.6 216.5 337.3 217.6 339.3 218.6 338.2 219.7 340.1 220.7 339.7 221.8 338.7 222.8 338.1 223.9 337.9 224.9 335.1 226.0 336.2 227.0 334.3 228.1 334.2 229.1 333.0 230.2 333.2 231.2 332.0 232.3 331.5 233.3 332.5 234.4 332.8 235.4 331.8 236.5 329.6 237.5 330.7 238.6 329.8 239.6 330.1 240.7 329.2 241.7 329.1 242.8 329.8 243.8 328.9 244.9 329.0 245.9 328.2 247.0 327.4 248.0 328.0 249.1 325.8 250.1 327.3 251.2 326.2 252.2 325.5 253.3 326.3 254.3 323.2 255.4 325.2 256.8 323.2 257.5 323.5 258.5 322.2 259.6 324.1 260.6 323.3 261.7 323.2 262.7 324.6 263.8 324.7 264.8 322.6 265.9 322.5 266.9 324.7 268.0 319.2 269.0 320.1 270.1 318.1 271.1 316.5 272.5 316.1 273.2 314.6 274.3 315.0 275.3 318.4 276.4 319.6 277.4 319.7 278.6 321.5 279.5 320.1 280.6 320.2 281.6 317.3 282.7 320.7 283.7 317.3 284.8 317.2 285.8 317.3 286.9 315.0 288.2 315.2 289.0 315.0 290.0 316.3 291.1 312.9 292.1 314.0 293.2 313.8 294.2 312.7 295.2 312.9 296.3 313.1 297.4 309.7 298.4 309.4 299.5 310.6 300.5 309.9 301.6 308.1 302.2 308.7 303.7 307.2 304.7 309.9 305.8 309.4 306.8 311.6 307.9 307.9 308.9 310.0 310.0 308.4 311.0 308.8 312.1 306.8 313.1 312.8 314.5 309.2 315.2 310.2 316.3 309.9 317.3 308.4 318.4 308.4 319.4 309.1 320.6 311.7 321.5 308.8 322.6 308.4 323.6 307.2 324.7 305.4 325.9 303.4 326.8 302.8 327.8 303.8 328.9 303.6 329.9 301.8 331.0 305.2 332.0 304.0 333.1 306.0 334.1 306.5 335.2 306.2 336.4 308.6 337.3 306.2 338.3 305.4 339.4 304.1 340.4 305.5 341.5 303.6 342.5 301.6 343.6 302.3 344.6 302.1 345.7 305.2 346.7 305.4 347.8 303.5 348.8 304.6 349.5 304.6 350.9 303.6 352.0 301.5 353.0 298.6 354.1 300.5 355.1 301.1 356.2 301.6 357.0 303.8 358.3 305.6 359.4 306.5 360.4 302.9 361.5 304.1 362.5 302.3 363.8 302.8 364.6 301.5 365.7 302.4 366.7 301.0 367.8 301.6 368.8 302.6 369.9 299.5 370.9 300.0 372.0 299.5 373.0 301.3 374.1 300.1 375.1 299.4 376.0 299.2 377.2 301.0 378.3 303.2 379.3 299.5 380.4 301.0 381.4 300.7 382.5 299.0 383.5 298.6 384.6 300.0 385.6 300.3 386.5 301.0 387.7 299.2 388.8 297.3 389.8 300.6 390.9 295.7 391.9 295.5 393.0 300.6 394.0 299.9 395.1 299.3 396.1 299.4 397.0 301.9 398.2 301.3 399.3 299.2 400.3 300.5 401.4 302.6 402.4 299.8 403.5 299.0 404.5 298.7 405.8 297.8 406.6 297.1 407.7 299.0 408.7 300.8 409.8 304.4 410.8 298.8 411.9 301.6 412.8 301.5 414.0 306.4 415.0 300.8 416.1 301.1 417.1 304.3 418.2 304.6 419.2 300.9 420.3 306.0 421.3 304.5 422.4 304.8 423.4 303.7 425.0 303.0 426.6 307.4 427.6 301.5 428.7 302.3 429.7 301.5 430.8 303.6 431.8 300.6 432.9 300.2 433.9 301.9 435.0 301.6 436.0 300.3 437.1 300.3 438.1 300.7 439.0 299.3 440.2 299.2 441.3 300.8 442.3 303.8 443.4 304.2 444.4 305.1 445.5 305.5 446.5 304.5 447.6 305.4 448.6 306.3 449.7 305.5 450.4 306.7 451.8 305.1 452.8 306.1 453.9 305.0 454.9 305.6 456.0 306.4 457.0 304.4 458.1 303.1 459.1 302.0 460.0 302.3 461.2 303.9 462.3 304.1 463.3 306.8 464.4 305.8 465.4 307.7 467.0 309.1 468.6 309.4 469.6 305.2 470.7 304.9 471.7 305.9 472.8 302.5 474.0 303.9 474.9 307.7 475.9 303.2 477.0 307.4 478.0 310.8 479.1 311.3 480.0 310.9 481.2 309.8 482.2 310.6 483.3 308.1 484.3 307.2 485.4 309.2 486.4 309.8 487.5 309.0 488.5 310.8 489.6 309.1 490.6 309.4 491.5 309.2 492.7 310.5 493.8 308.7 494.8 310.3 495.9 311.8 496.9 310.3 498.5 314.0 500.1 314.0 501.1 313.9 502.2 315.8 503.2 315.0 504.3 318.4 505.3 318.3 506.4 317.6 507.4 318.0 509.0 318.7 510.6 316.0 511.6 318.0 512.7 316.5 513.7 316.4 514.8 316.3 516.0 313.5 516.9 316.1 517.9 317.6 519.0 316.9 520.0 317.4 521.1 317.9 522.1 320.8 523.0 319.6 524.2 318.3 525.3 318.4 526.3 322.4 527.4 315.8 528.4 318.1 530.0 318.7 531.6 320.4 532.6 321.2 533.7 320.5 534.7 318.4 535.8 320.9 536.8 322.2 537.9 323.6 538.9 324.2 540.5 325.5 542.1 326.4 543.1 327.7 544.2 325.4 545.2 328.7 546.3 330.5 547.5 329.1 548.4 329.5 549.4 325.1 550.5 328.1 551.5 326.8 552.8 326.4 553.6 328.9 554.7 326.5 555.7 330.2 556.8 326.1 557.8 328.4 558.9 328.1"/>
<path class="cv" stroke="#ffa040" stroke-opacity="0.33" stroke-width="1.4" transform="translate(-0.3 -1.0)" d="M156.7 362.1 157.7 361.7 158.8 361.5 159.8 360.2 160.9 360.5 161.9 361.5 163.0 359.3 164.0 359.5 165.1 359.3 166.1 357.9 167.2 358.6 168.2 358.8 169.3 357.9 170.3 357.1 171.4 357.4 172.8 356.9 173.5 356.8 174.5 356.2 175.6 355.7 176.6 354.8 177.7 355.7 178.7 354.6 179.8 354.4 180.8 353.7 181.9 352.9 182.9 353.0 184.0 352.3 185.0 351.8 186.1 351.3 187.1 350.3 188.2 350.0 189.2 349.5 190.3 349.3 191.3 347.5 192.4 348.2 193.8 346.1 194.5 345.5 195.5 346.0 196.6 345.2 197.6 345.8 198.7 343.4 199.7 343.7 200.8 343.2 201.8 344.2 202.9 345.0 203.9 342.6 205.0 342.8 206.0 342.8 207.1 343.1 208.1 342.4 209.2 342.0 210.2 340.2 211.3 340.1 212.3 339.2 213.4 338.8 214.4 338.5 215.5 338.6 216.5 337.3 217.6 339.3 218.6 338.2 219.7 340.1 220.7 339.7 221.8 338.7 222.8 338.1 223.9 337.9 224.9 335.1 226.0 336.2 227.0 334.3 228.1 334.2 229.1 333.0 230.2 333.2 231.2 332.0 232.3 331.5 233.3 332.5 234.4 332.8 235.4 331.8 236.5 329.6 237.5 330.7 238.6 329.8 239.6 330.1 240.7 329.2 241.7 329.1 242.8 329.8 243.8 328.9 244.9 329.0 245.9 328.2 247.0 327.4 248.0 328.0 249.1 325.8 250.1 327.3 251.2 326.2 252.2 325.5 253.3 326.3 254.3 323.2 255.4 325.2 256.8 323.2 257.5 323.5 258.5 322.2 259.6 324.1 260.6 323.3 261.7 323.2 262.7 324.6 263.8 324.7 264.8 322.6 265.9 322.5 266.9 324.7 268.0 319.2 269.0 320.1 270.1 318.1 271.1 316.5 272.5 316.1 273.2 314.6 274.3 315.0 275.3 318.4 276.4 319.6 277.4 319.7 278.6 321.5 279.5 320.1 280.6 320.2 281.6 317.3 282.7 320.7 283.7 317.3 284.8 317.2 285.8 317.3 286.9 315.0 288.2 315.2 289.0 315.0 290.0 316.3 291.1 312.9 292.1 314.0 293.2 313.8 294.2 312.7 295.2 312.9 296.3 313.1 297.4 309.7 298.4 309.4 299.5 310.6 300.5 309.9 301.6 308.1 302.2 308.7 303.7 307.2 304.7 309.9 305.8 309.4 306.8 311.6 307.9 307.9 308.9 310.0 310.0 308.4 311.0 308.8 312.1 306.8 313.1 312.8 314.5 309.2 315.2 310.2 316.3 309.9 317.3 308.4 318.4 308.4 319.4 309.1 320.6 311.7 321.5 308.8 322.6 308.4 323.6 307.2 324.7 305.4 325.9 303.4 326.8 302.8 327.8 303.8 328.9 303.6 329.9 301.8 331.0 305.2 332.0 304.0 333.1 306.0 334.1 306.5 335.2 306.2 336.4 308.6 337.3 306.2 338.3 305.4 339.4 304.1 340.4 305.5 341.5 303.6 342.5 301.6 343.6 302.3 344.6 302.1 345.7 305.2 346.7 305.4 347.8 303.5 348.8 304.6 349.5 304.6 350.9 303.6 352.0 301.5 353.0 298.6 354.1 300.5 355.1 301.1 356.2 301.6 357.0 303.8 358.3 305.6 359.4 306.5 360.4 302.9 361.5 304.1 362.5 302.3 363.8 302.8 364.6 301.5 365.7 302.4 366.7 301.0 367.8 301.6 368.8 302.6 369.9 299.5 370.9 300.0 372.0 299.5 373.0 301.3 374.1 300.1 375.1 299.4 376.0 299.2 377.2 301.0 378.3 303.2 379.3 299.5 380.4 301.0 381.4 300.7 382.5 299.0 383.5 298.6 384.6 300.0 385.6 300.3 386.5 301.0 387.7 299.2 388.8 297.3 389.8 300.6 390.9 295.7 391.9 295.5 393.0 300.6 394.0 299.9 395.1 299.3 396.1 299.4 397.0 301.9 398.2 301.3 399.3 299.2 400.3 300.5 401.4 302.6 402.4 299.8 403.5 299.0 404.5 298.7 405.8 297.8 406.6 297.1 407.7 299.0 408.7 300.8 409.8 304.4 410.8 298.8 411.9 301.6 412.8 301.5 414.0 306.4 415.0 300.8 416.1 301.1 417.1 304.3 418.2 304.6 419.2 300.9 420.3 306.0 421.3 304.5 422.4 304.8 423.4 303.7 425.0 303.0 426.6 307.4 427.6 301.5 428.7 302.3 429.7 301.5 430.8 303.6 431.8 300.6 432.9 300.2 433.9 301.9 435.0 301.6 436.0 300.3 437.1 300.3 438.1 300.7 439.0 299.3 440.2 299.2 441.3 300.8 442.3 303.8 443.4 304.2 444.4 305.1 445.5 305.5 446.5 304.5 447.6 305.4 448.6 306.3 449.7 305.5 450.4 306.7 451.8 305.1 452.8 306.1 453.9 305.0 454.9 305.6 456.0 306.4 457.0 304.4 458.1 303.1 459.1 302.0 460.0 302.3 461.2 303.9 462.3 304.1 463.3 306.8 464.4 305.8 465.4 307.7 467.0 309.1 468.6 309.4 469.6 305.2 470.7 304.9 471.7 305.9 472.8 302.5 474.0 303.9 474.9 307.7 475.9 303.2 477.0 307.4 478.0 310.8 479.1 311.3 480.0 310.9 481.2 309.8 482.2 310.6 483.3 308.1 484.3 307.2 485.4 309.2 486.4 309.8 487.5 309.0 488.5 310.8 489.6 309.1 490.6 309.4 491.5 309.2 492.7 310.5 493.8 308.7 494.8 310.3 495.9 311.8 496.9 310.3 498.5 314.0 500.1 314.0 501.1 313.9 502.2 315.8 503.2 315.0 504.3 318.4 505.3 318.3 506.4 317.6 507.4 318.0 509.0 318.7 510.6 316.0 511.6 318.0 512.7 316.5 513.7 316.4 514.8 316.3 516.0 313.5 516.9 316.1 517.9 317.6 519.0 316.9 520.0 317.4 521.1 317.9 522.1 320.8 523.0 319.6 524.2 318.3 525.3 318.4 526.3 322.4 527.4 315.8 528.4 318.1 530.0 318.7 531.6 320.4 532.6 321.2 533.7 320.5 534.7 318.4 535.8 320.9 536.8 322.2 537.9 323.6 538.9 324.2 540.5 325.5 542.1 326.4 543.1 327.7 544.2 325.4 545.2 328.7 546.3 330.5 547.5 329.1 548.4 329.5 549.4 325.1 550.5 328.1 551.5 326.8 552.8 326.4 553.6 328.9 554.7 326.5 555.7 330.2 556.8 326.1 557.8 328.4 558.9 328.1"/>
<path class="cv" stroke="#1c2470" stroke-opacity="0.6" stroke-width="1" d="M156.7 362.5 157.7 362.0 158.8 362.1 159.8 360.6 160.9 360.8 161.9 361.9 163.0 359.6 164.0 359.8 165.1 359.7 166.1 358.2 167.2 359.0 168.2 359.2 169.3 358.1 170.3 357.3 171.4 357.7 172.8 357.1 173.5 357.1 174.5 356.6 175.6 356.1 176.6 355.1 177.7 356.1 178.7 355.0 179.8 354.8 180.8 353.9 181.9 353.4 182.9 353.3 184.0 352.8 185.0 352.1 186.1 351.6 187.1 350.5 188.2 350.3 189.2 350.0 190.3 349.6 191.3 348.0 192.4 348.7 193.8 346.4 194.5 346.0 195.5 346.5 196.6 345.6 197.6 346.1 198.7 343.9 199.7 344.0 200.8 343.8 201.8 344.6 202.9 345.3 203.9 343.0 205.0 343.0 206.0 343.2 207.1 343.6 208.1 342.7 209.2 342.2 210.2 340.6 211.3 340.4 212.3 339.7 213.4 339.0 214.4 338.8 215.5 338.9 216.5 337.6 217.6 340.0 218.6 338.8 219.7 340.4 220.7 340.1 221.8 338.8 222.8 338.7 223.9 338.4 224.9 335.5 226.0 336.5 227.0 334.7 228.1 334.6 229.1 333.3 230.2 333.4 231.2 332.3 232.3 331.8 233.3 333.0 234.4 333.1 235.4 332.2 236.5 329.7 237.5 331.0 238.6 330.1 239.6 330.3 240.7 329.6 241.7 329.4 242.8 329.9 243.8 329.4 244.9 329.5 245.9 328.4 247.0 327.8 248.0 328.2 249.1 325.9 250.1 327.6 251.2 326.8 252.2 325.8 253.3 326.4 254.3 323.6 255.4 325.5 256.8 323.4 257.5 323.9 258.5 322.3 259.6 324.2 260.6 323.5 261.7 323.8 262.7 325.0 263.8 325.0 264.8 322.8 265.9 323.0 266.9 325.3 268.0 319.4 269.0 320.5 270.1 318.8 271.1 316.9 272.5 316.4 273.2 315.0 274.3 315.4 275.3 318.9 276.4 320.1 277.4 320.0 278.6 321.8 279.5 320.6 280.6 320.5 281.6 317.6 282.7 320.9 283.7 317.9 284.8 317.9 285.8 317.5 286.9 315.5 288.2 315.6 289.0 315.4 290.0 316.6 291.1 313.3 292.1 314.6 293.2 313.9 294.2 313.3 295.2 313.2 296.3 313.3 297.4 310.0 298.4 309.9 299.5 310.9 300.5 310.3 301.6 308.4 302.2 309.0 303.7 307.7 304.7 310.0 305.8 310.0 306.8 312.0 307.9 308.2 308.9 310.3 310.0 308.7 311.0 309.1 312.1 307.2 313.1 313.2 314.5 309.1 315.2 310.2 316.3 310.3 317.3 308.7 318.4 308.7 319.4 309.4 320.6 311.9 321.5 309.4 322.6 308.8 323.6 307.5 324.7 305.5 325.9 303.9 326.8 303.3 327.8 304.5 328.9 304.1 329.9 302.0 331.0 305.3 332.0 304.6 333.1 306.2 334.1 306.9 335.2 306.5 336.4 309.1 337.3 306.7 338.3 305.6 339.4 304.3 340.4 305.5 341.5 304.1 342.5 301.9 343.6 302.3 344.6 302.6 345.7 305.5 346.7 305.6 347.8 303.8 348.8 304.9 349.5 305.0 350.9 304.0 352.0 301.8 353.0 299.1 354.1 300.3 355.1 301.4 356.2 302.1 357.0 304.3 358.3 306.2 359.4 306.6 360.4 302.9 361.5 304.4 362.5 303.1 363.8 303.2 364.6 301.7 365.7 302.4 366.7 301.4 367.8 301.9 368.8 303.1 369.9 299.9 370.9 299.8 372.0 299.8 373.0 301.9 374.1 300.4 375.1 299.5 376.0 299.4 377.2 301.1 378.3 304.1 379.3 300.2 380.4 301.2 381.4 301.3 382.5 299.2 383.5 298.8 384.6 300.2 385.6 300.7 386.5 301.5 387.7 300.0 388.8 297.9 389.8 300.9 390.9 296.1 391.9 295.8 393.0 301.0 394.0 300.0 395.1 299.7 396.1 299.8 397.0 302.4 398.2 301.5 399.3 299.7 400.3 300.9 401.4 302.8 402.4 299.7 403.5 299.2 404.5 299.2 405.8 298.1 406.6 298.0 407.7 299.5 408.7 301.0 409.8 304.8 410.8 299.3 411.9 302.1 412.8 301.8 414.0 306.8 415.0 301.8 416.1 301.7 417.1 304.7 418.2 304.9 419.2 300.9 420.3 306.4 421.3 304.8 422.4 305.2 423.4 303.9 425.0 303.6 426.6 307.9 427.6 301.7 428.7 302.3 429.7 301.9 430.8 304.2 431.8 301.1 432.9 300.7 433.9 302.0 435.0 301.9 436.0 300.8 437.1 300.7 438.1 301.1 439.0 299.8 440.2 299.8 441.3 301.2 442.3 304.0 443.4 304.3 444.4 305.5 445.5 305.8 446.5 304.8 447.6 306.0 448.6 306.6 449.7 305.8 450.4 307.2 451.8 305.3 452.8 306.0 453.9 305.3 454.9 306.1 456.0 306.6 457.0 304.7 458.1 303.1 459.1 302.6 460.0 302.3 461.2 304.1 462.3 304.5 463.3 307.5 464.4 306.2 465.4 307.9 467.0 309.2 468.6 309.7 469.6 305.4 470.7 305.1 471.7 306.3 472.8 303.1 474.0 304.0 474.9 308.4 475.9 303.2 477.0 308.1 478.0 311.1 479.1 311.6 480.0 311.2 481.2 310.2 482.2 311.0 483.3 308.4 484.3 307.5 485.4 309.5 486.4 310.1 487.5 309.2 488.5 311.0 489.6 309.2 490.6 309.7 491.5 309.7 492.7 310.7 493.8 309.2 494.8 310.7 495.9 312.2 496.9 310.3 498.5 314.4 500.1 314.6 501.1 314.6 502.2 316.0 503.2 315.3 504.3 318.9 505.3 318.7 506.4 317.9 507.4 318.3 509.0 319.2 510.6 316.5 511.6 318.3 512.7 317.1 513.7 316.5 514.8 316.7 516.0 313.7 516.9 316.4 517.9 318.0 519.0 317.6 520.0 317.8 521.1 318.3 522.1 321.4 523.0 320.1 524.2 318.3 525.3 318.6 526.3 322.7 527.4 316.0 528.4 318.2 530.0 319.1 531.6 320.8 532.6 321.9 533.7 320.8 534.7 318.8 535.8 321.1 536.8 322.8 537.9 324.1 538.9 324.8 540.5 326.1 542.1 326.6 543.1 328.2 544.2 325.6 545.2 328.9 546.3 330.8 547.5 329.8 548.4 329.8 549.4 325.3 550.5 328.5 551.5 327.3 552.8 326.8 553.6 329.4 554.7 326.8 555.7 330.5 556.8 326.7 557.8 328.7 558.9 328.4"/>
<path class="cv" stroke="#1a6a66" stroke-opacity="0.6" stroke-width="1" d="M156.7 362.5 157.7 361.8 158.8 361.8 159.8 360.5 160.9 360.7 161.9 361.7 163.0 359.5 164.0 359.8 165.1 359.6 166.1 358.2 167.2 358.9 168.2 359.2 169.3 358.2 170.3 357.3 171.4 357.6 172.8 357.0 173.5 356.9 174.5 356.5 175.6 355.9 176.6 355.1 177.7 356.0 178.7 354.7 179.8 354.6 180.8 353.8 181.9 353.3 182.9 353.2 184.0 352.6 185.0 352.0 186.1 351.4 187.1 350.4 188.2 350.2 189.2 349.7 190.3 349.4 191.3 347.8 192.4 348.3 193.8 346.2 194.5 345.8 195.5 346.2 196.6 345.5 197.6 346.1 198.7 343.7 199.7 343.8 200.8 343.5 201.8 344.5 202.9 345.4 203.9 342.9 205.0 342.9 206.0 342.9 207.1 343.3 208.1 342.8 209.2 342.2 210.2 340.5 211.3 340.4 212.3 339.3 213.4 339.0 214.4 338.8 215.5 338.9 216.5 337.4 217.6 339.6 218.6 338.4 219.7 340.1 220.7 339.8 221.8 338.7 222.8 338.2 223.9 338.3 224.9 335.7 226.0 336.6 227.0 334.6 228.1 334.7 229.1 333.3 230.2 333.3 231.2 331.9 232.3 331.9 233.3 332.5 234.4 332.6 235.4 331.9 236.5 329.9 237.5 330.8 238.6 330.2 239.6 330.3 240.7 329.5 241.7 329.4 242.8 330.0 243.8 329.1 244.9 329.5 245.9 328.3 247.0 327.7 248.0 328.3 249.1 325.9 250.1 327.5 251.2 326.2 252.2 325.7 253.3 326.5 254.3 323.6 255.4 325.6 256.8 323.3 257.5 323.6 258.5 322.8 259.6 324.5 260.6 323.3 261.7 323.4 262.7 324.7 263.8 324.9 264.8 322.6 265.9 322.7 266.9 324.9 268.0 319.4 269.0 320.5 270.1 318.3 271.1 316.5 272.5 316.0 273.2 314.7 274.3 315.5 275.3 318.8 276.4 319.8 277.4 320.1 278.6 321.8 279.5 320.3 280.6 320.5 281.6 317.5 282.7 320.8 283.7 317.5 284.8 317.5 285.8 317.8 286.9 315.1 288.2 315.4 289.0 315.3 290.0 316.5 291.1 312.9 292.1 314.5 293.2 314.3 294.2 313.2 295.2 313.2 296.3 313.7 297.4 310.0 298.4 309.8 299.5 310.7 300.5 310.2 301.6 308.3 302.2 308.7 303.7 307.3 304.7 309.9 305.8 309.4 306.8 311.7 307.9 308.0 308.9 310.6 310.0 309.0 311.0 309.2 312.1 307.2 313.1 312.9 314.5 309.5 315.2 310.2 316.3 310.0 317.3 308.6 318.4 308.6 319.4 309.5 320.6 311.8 321.5 309.5 322.6 308.5 323.6 307.6 324.7 305.3 325.9 303.8 326.8 302.8 327.8 304.1 328.9 303.8 329.9 302.2 331.0 305.6 332.0 304.3 333.1 306.2 334.1 307.2 335.2 306.3 336.4 308.9 337.3 306.4 338.3 305.7 339.4 304.2 340.4 305.6 341.5 304.0 342.5 301.7 343.6 302.7 344.6 302.2 345.7 305.7 346.7 305.6 347.8 304.2 348.8 305.0 349.5 304.8 350.9 304.1 352.0 302.0 353.0 299.2 354.1 301.0 355.1 301.6 356.2 301.6 357.0 304.2 358.3 305.9 359.4 306.8 360.4 303.4 361.5 304.2 362.5 302.8 363.8 303.5 364.6 301.9 365.7 302.6 366.7 301.5 367.8 301.9 368.8 303.1 369.9 300.0 370.9 299.9 372.0 299.8 373.0 301.2 374.1 300.2 375.1 299.8 376.0 299.2 377.2 301.1 378.3 303.4 379.3 299.8 380.4 301.3 381.4 301.0 382.5 299.2 383.5 298.6 384.6 300.3 385.6 300.4 386.5 301.1 387.7 299.6 388.8 297.4 389.8 300.6 390.9 296.2 391.9 295.7 393.0 300.3 394.0 299.9 395.1 299.9 396.1 300.2 397.0 302.1 398.2 301.7 399.3 299.6 400.3 300.8 401.4 302.4 402.4 300.3 403.5 299.3 404.5 298.9 405.8 297.7 406.6 297.2 407.7 299.2 408.7 301.0 409.8 304.7 410.8 299.0 411.9 302.1 412.8 301.9 414.0 306.4 415.0 300.9 416.1 301.5 417.1 304.4 418.2 305.2 419.2 301.0 420.3 306.3 421.3 304.9 422.4 304.8 423.4 304.2 425.0 303.2 426.6 307.5 427.6 301.6 428.7 302.2 429.7 301.5 430.8 304.1 431.8 300.9 432.9 300.4 433.9 302.2 435.0 302.0 436.0 300.4 437.1 300.5 438.1 301.0 439.0 299.8 440.2 299.5 441.3 301.4 442.3 304.0 443.4 304.4 444.4 305.0 445.5 305.7 446.5 304.9 447.6 305.6 448.6 306.5 449.7 305.6 450.4 306.8 451.8 305.2 452.8 306.3 453.9 305.5 454.9 305.9 456.0 306.8 457.0 304.9 458.1 303.3 459.1 302.5 460.0 302.5 461.2 303.8 462.3 304.3 463.3 307.0 464.4 305.7 465.4 308.4 467.0 309.4 468.6 309.8 469.6 305.2 470.7 305.1 471.7 306.2 472.8 302.6 474.0 304.2 474.9 308.0 475.9 303.5 477.0 307.4 478.0 311.2 479.1 311.5 480.0 311.0 481.2 309.6 482.2 310.8 483.3 308.3 484.3 307.9 485.4 309.3 486.4 310.3 487.5 309.4 488.5 311.1 489.6 309.4 490.6 309.7 491.5 309.2 492.7 311.0 493.8 308.9 494.8 310.4 495.9 312.0 496.9 310.0 498.5 314.0 500.1 314.0 501.1 313.8 502.2 316.1 503.2 315.5 504.3 318.6 505.3 318.5 506.4 317.9 507.4 318.1 509.0 318.9 510.6 316.3 511.6 318.2 512.7 316.7 513.7 316.7 514.8 316.5 516.0 313.8 516.9 316.1 517.9 317.6 519.0 317.1 520.0 317.7 521.1 317.9 522.1 321.2 523.0 320.1 524.2 318.4 525.3 318.8 526.3 322.3 527.4 316.0 528.4 318.0 530.0 319.1 531.6 320.7 532.6 321.6 533.7 320.6 534.7 318.5 535.8 321.2 536.8 322.4 537.9 323.9 538.9 324.2 540.5 325.8 542.1 326.7 543.1 327.6 544.2 325.4 545.2 328.8 546.3 330.6 547.5 329.1 548.4 329.8 549.4 325.2 550.5 328.3 551.5 326.7 552.8 326.4 553.6 329.3 554.7 326.5 555.7 330.4 556.8 326.6 557.8 328.7 558.9 328.2"/>
<path class="cv" stroke="#8c1616" stroke-opacity="0.6" stroke-width="1" d="M156.7 362.0 157.7 361.5 158.8 361.4 159.8 360.3 160.9 360.4 161.9 361.5 163.0 359.2 164.0 359.5 165.1 359.3 166.1 357.8 167.2 358.5 168.2 358.6 169.3 357.7 170.3 357.0 171.4 357.3 172.8 356.8 173.5 356.6 174.5 356.1 175.6 355.6 176.6 354.7 177.7 355.6 178.7 354.6 179.8 354.4 180.8 353.6 181.9 352.9 182.9 352.8 184.0 352.2 185.0 351.7 186.1 351.1 187.1 350.1 188.2 350.0 189.2 349.3 190.3 349.2 191.3 347.5 192.4 348.1 193.8 346.0 194.5 345.4 195.5 345.8 196.6 345.2 197.6 345.5 198.7 343.4 199.7 343.5 200.8 343.1 201.8 343.9 202.9 345.0 203.9 342.6 205.0 342.7 206.0 342.7 207.1 342.9 208.1 342.3 209.2 341.9 210.2 340.0 211.3 339.7 212.3 339.1 213.4 338.7 214.4 338.3 215.5 338.5 216.5 337.3 217.6 339.2 218.6 338.3 219.7 340.0 220.7 339.5 221.8 338.6 222.8 338.0 223.9 337.6 224.9 335.1 226.0 336.1 227.0 334.2 228.1 334.0 229.1 332.9 230.2 333.2 231.2 331.8 232.3 331.4 233.3 332.4 234.4 332.6 235.4 331.7 236.5 329.4 237.5 330.6 238.6 330.0 239.6 330.0 240.7 329.1 241.7 328.9 242.8 329.6 243.8 328.7 244.9 328.8 245.9 328.1 247.0 327.3 248.0 328.0 249.1 325.7 250.1 327.3 251.2 326.3 252.2 325.3 253.3 326.1 254.3 323.1 255.4 325.1 256.8 323.2 257.5 323.4 258.5 322.0 259.6 323.9 260.6 323.1 261.7 323.1 262.7 324.6 263.8 324.6 264.8 322.4 265.9 322.4 266.9 324.5 268.0 319.2 269.0 320.0 270.1 318.1 271.1 316.4 272.5 316.1 273.2 314.4 274.3 315.0 275.3 318.3 276.4 319.5 277.4 319.6 278.6 321.5 279.5 320.1 280.6 320.4 281.6 317.2 282.7 320.5 283.7 317.2 284.8 317.3 285.8 317.3 286.9 314.9 288.2 315.0 289.0 315.0 290.0 316.2 291.1 312.7 292.1 313.9 293.2 313.8 294.2 312.5 295.2 312.8 296.3 313.0 297.4 309.5 298.4 309.2 299.5 310.4 300.5 309.7 301.6 308.3 302.2 308.6 303.7 307.1 304.7 309.7 305.8 309.3 306.8 311.5 307.9 308.0 308.9 310.1 310.0 308.3 311.0 308.9 312.1 306.7 313.1 312.9 314.5 309.1 315.2 310.2 316.3 309.8 317.3 308.2 318.4 308.4 319.4 309.0 320.6 311.6 321.5 308.7 322.6 308.4 323.6 307.4 324.7 305.1 325.9 303.2 326.8 302.6 327.8 303.9 328.9 303.4 329.9 301.6 331.0 305.2 332.0 303.9 333.1 305.9 334.1 306.3 335.2 306.1 336.4 308.6 337.3 306.1 338.3 305.5 339.4 304.0 340.4 305.3 341.5 303.5 342.5 301.5 343.6 302.4 344.6 301.9 345.7 305.1 346.7 305.3 347.8 303.3 348.8 304.4 349.5 304.6 350.9 303.5 352.0 301.5 353.0 298.8 354.1 300.5 355.1 301.0 356.2 301.5 357.0 303.7 358.3 305.3 359.4 306.5 360.4 302.8 361.5 304.1 362.5 302.1 363.8 302.7 364.6 301.5 365.7 302.4 366.7 301.1 367.8 301.5 368.8 302.5 369.9 299.6 370.9 300.0 372.0 299.2 373.0 301.2 374.1 300.1 375.1 299.3 376.0 299.0 377.2 300.9 378.3 303.2 379.3 299.6 380.4 301.1 381.4 300.7 382.5 298.8 383.5 298.3 384.6 299.8 385.6 300.3 386.5 301.0 387.7 298.8 388.8 297.3 389.8 300.6 390.9 295.8 391.9 295.5 393.0 300.6 394.0 299.8 395.1 299.1 396.1 299.3 397.0 301.8 398.2 301.1 399.3 299.1 400.3 300.5 401.4 302.4 402.4 299.9 403.5 298.8 404.5 298.6 405.8 297.6 406.6 297.2 407.7 299.0 408.7 300.9 409.8 304.5 410.8 298.8 411.9 301.7 412.8 301.5 414.0 306.0 415.0 300.7 416.1 301.1 417.1 303.9 418.2 304.7 419.2 300.8 420.3 306.0 421.3 304.4 422.4 304.8 423.4 303.5 425.0 302.9 426.6 307.1 427.6 301.5 428.7 302.1 429.7 301.3 430.8 303.4 431.8 300.4 432.9 300.1 433.9 301.8 435.0 301.5 436.0 300.4 437.1 300.0 438.1 300.6 439.0 299.0 440.2 299.1 441.3 300.7 442.3 303.4 443.4 304.2 444.4 304.7 445.5 305.3 446.5 304.3 447.6 305.2 448.6 306.4 449.7 305.5 450.4 306.4 451.8 305.0 452.8 306.1 453.9 304.9 454.9 305.4 456.0 306.4 457.0 304.6 458.1 303.1 459.1 302.2 460.0 301.9 461.2 303.6 462.3 304.1 463.3 306.6 464.4 305.7 465.4 307.8 467.0 308.9 468.6 309.3 469.6 305.1 470.7 304.6 471.7 305.8 472.8 302.3 474.0 303.8 474.9 307.8 475.9 303.3 477.0 307.4 478.0 310.8 479.1 311.1 480.0 311.0 481.2 309.7 482.2 310.6 483.3 308.1 484.3 307.1 485.4 309.2 486.4 309.7 487.5 308.9 488.5 310.8 489.6 308.9 490.6 309.3 491.5 309.1 492.7 310.4 493.8 308.6 494.8 310.4 495.9 311.5 496.9 310.4 498.5 313.8 500.1 313.8 501.1 313.7 502.2 315.7 503.2 314.9 504.3 318.1 505.3 318.0 506.4 317.6 507.4 317.9 509.0 318.3 510.6 315.9 511.6 317.9 512.7 316.6 513.7 316.2 514.8 316.1 516.0 313.3 516.9 316.1 517.9 317.5 519.0 316.9 520.0 317.5 521.1 317.8 522.1 320.8 523.0 319.5 524.2 318.3 525.3 318.4 526.3 322.5 527.4 315.6 528.4 318.2 530.0 318.3 531.6 320.3 532.6 321.1 533.7 320.4 534.7 318.5 535.8 320.6 536.8 322.0 537.9 323.6 538.9 324.2 540.5 325.3 542.1 326.2 543.1 327.7 544.2 325.3 545.2 328.4 546.3 330.4 547.5 329.0 548.4 329.3 549.4 325.0 550.5 327.9 551.5 326.5 552.8 326.5 553.6 328.8 554.7 326.3 555.7 330.3 556.8 326.0 557.8 328.2 558.9 327.8"/>
<path class="cv " stroke="#52100e" stroke-width="1" d="M156.7 362.1 157.7 361.7 158.8 361.5 159.8 360.2 160.9 360.5 161.9 361.5 163.0 359.3 164.0 359.5 165.1 359.3 166.1 357.9 167.2 358.6 168.2 358.8 169.3 357.9 170.3 357.1 171.4 357.4 172.8 356.9 173.5 356.8 174.5 356.2 175.6 355.7 176.6 354.8 177.7 355.7 178.7 354.6 179.8 354.4 180.8 353.7 181.9 352.9 182.9 353.0 184.0 352.3 185.0 351.8 186.1 351.3 187.1 350.3 188.2 350.0 189.2 349.5 190.3 349.3 191.3 347.5 192.4 348.2 193.8 346.1 194.5 345.5 195.5 346.0 196.6 345.2 197.6 345.8 198.7 343.4 199.7 343.7 200.8 343.2 201.8 344.2 202.9 345.0 203.9 342.6 205.0 342.8 206.0 342.8 207.1 343.1 208.1 342.4 209.2 342.0 210.2 340.2 211.3 340.1 212.3 339.2 213.4 338.8 214.4 338.5 215.5 338.6 216.5 337.3 217.6 339.3 218.6 338.2 219.7 340.1 220.7 339.7 221.8 338.7 222.8 338.1 223.9 337.9 224.9 335.1 226.0 336.2 227.0 334.3 228.1 334.2 229.1 333.0 230.2 333.2 231.2 332.0 232.3 331.5 233.3 332.5 234.4 332.8 235.4 331.8 236.5 329.6 237.5 330.7 238.6 329.8 239.6 330.1 240.7 329.2 241.7 329.1 242.8 329.8 243.8 328.9 244.9 329.0 245.9 328.2 247.0 327.4 248.0 328.0 249.1 325.8 250.1 327.3 251.2 326.2 252.2 325.5 253.3 326.3 254.3 323.2 255.4 325.2 256.8 323.2 257.5 323.5 258.5 322.2 259.6 324.1 260.6 323.3 261.7 323.2 262.7 324.6 263.8 324.7 264.8 322.6 265.9 322.5 266.9 324.7 268.0 319.2 269.0 320.1 270.1 318.1 271.1 316.5 272.5 316.1 273.2 314.6 274.3 315.0 275.3 318.4 276.4 319.6 277.4 319.7 278.6 321.5 279.5 320.1 280.6 320.2 281.6 317.3 282.7 320.7 283.7 317.3 284.8 317.2 285.8 317.3 286.9 315.0 288.2 315.2 289.0 315.0 290.0 316.3 291.1 312.9 292.1 314.0 293.2 313.8 294.2 312.7 295.2 312.9 296.3 313.1 297.4 309.7 298.4 309.4 299.5 310.6 300.5 309.9 301.6 308.1 302.2 308.7 303.7 307.2 304.7 309.9 305.8 309.4 306.8 311.6 307.9 307.9 308.9 310.0 310.0 308.4 311.0 308.8 312.1 306.8 313.1 312.8 314.5 309.2 315.2 310.2 316.3 309.9 317.3 308.4 318.4 308.4 319.4 309.1 320.6 311.7 321.5 308.8 322.6 308.4 323.6 307.2 324.7 305.4 325.9 303.4 326.8 302.8 327.8 303.8 328.9 303.6 329.9 301.8 331.0 305.2 332.0 304.0 333.1 306.0 334.1 306.5 335.2 306.2 336.4 308.6 337.3 306.2 338.3 305.4 339.4 304.1 340.4 305.5 341.5 303.6 342.5 301.6 343.6 302.3 344.6 302.1 345.7 305.2 346.7 305.4 347.8 303.5 348.8 304.6 349.5 304.6 350.9 303.6 352.0 301.5 353.0 298.6 354.1 300.5 355.1 301.1 356.2 301.6 357.0 303.8 358.3 305.6 359.4 306.5 360.4 302.9 361.5 304.1 362.5 302.3 363.8 302.8 364.6 301.5 365.7 302.4 366.7 301.0 367.8 301.6 368.8 302.6 369.9 299.5 370.9 300.0 372.0 299.5 373.0 301.3 374.1 300.1 375.1 299.4 376.0 299.2 377.2 301.0 378.3 303.2 379.3 299.5 380.4 301.0 381.4 300.7 382.5 299.0 383.5 298.6 384.6 300.0 385.6 300.3 386.5 301.0 387.7 299.2 388.8 297.3 389.8 300.6 390.9 295.7 391.9 295.5 393.0 300.6 394.0 299.9 395.1 299.3 396.1 299.4 397.0 301.9 398.2 301.3 399.3 299.2 400.3 300.5 401.4 302.6 402.4 299.8 403.5 299.0 404.5 298.7 405.8 297.8 406.6 297.1 407.7 299.0 408.7 300.8 409.8 304.4 410.8 298.8 411.9 301.6 412.8 301.5 414.0 306.4 415.0 300.8 416.1 301.1 417.1 304.3 418.2 304.6 419.2 300.9 420.3 306.0 421.3 304.5 422.4 304.8 423.4 303.7 425.0 303.0 426.6 307.4 427.6 301.5 428.7 302.3 429.7 301.5 430.8 303.6 431.8 300.6 432.9 300.2 433.9 301.9 435.0 301.6 436.0 300.3 437.1 300.3 438.1 300.7 439.0 299.3 440.2 299.2 441.3 300.8 442.3 303.8 443.4 304.2 444.4 305.1 445.5 305.5 446.5 304.5 447.6 305.4 448.6 306.3 449.7 305.5 450.4 306.7 451.8 305.1 452.8 306.1 453.9 305.0 454.9 305.6 456.0 306.4 457.0 304.4 458.1 303.1 459.1 302.0 460.0 302.3 461.2 303.9 462.3 304.1 463.3 306.8 464.4 305.8 465.4 307.7 467.0 309.1 468.6 309.4 469.6 305.2 470.7 304.9 471.7 305.9 472.8 302.5 474.0 303.9 474.9 307.7 475.9 303.2 477.0 307.4 478.0 310.8 479.1 311.3 480.0 310.9 481.2 309.8 482.2 310.6 483.3 308.1 484.3 307.2 485.4 309.2 486.4 309.8 487.5 309.0 488.5 310.8 489.6 309.1 490.6 309.4 491.5 309.2 492.7 310.5 493.8 308.7 494.8 310.3 495.9 311.8 496.9 310.3 498.5 314.0 500.1 314.0 501.1 313.9 502.2 315.8 503.2 315.0 504.3 318.4 505.3 318.3 506.4 317.6 507.4 318.0 509.0 318.7 510.6 316.0 511.6 318.0 512.7 316.5 513.7 316.4 514.8 316.3 516.0 313.5 516.9 316.1 517.9 317.6 519.0 316.9 520.0 317.4 521.1 317.9 522.1 320.8 523.0 319.6 524.2 318.3 525.3 318.4 526.3 322.4 527.4 315.8 528.4 318.1 530.0 318.7 531.6 320.4 532.6 321.2 533.7 320.5 534.7 318.4 535.8 320.9 536.8 322.2 537.9 323.6 538.9 324.2 540.5 325.5 542.1 326.4 543.1 327.7 544.2 325.4 545.2 328.7 546.3 330.5 547.5 329.1 548.4 329.5 549.4 325.1 550.5 328.1 551.5 326.8 552.8 326.4 553.6 328.9 554.7 326.5 555.7 330.2 556.8 326.1 557.8 328.4 558.9 328.1"/>
<path class="ax" d="M156.5 295V363.5H559"/>
<path class="ax" d="M238.5 363v-5"/>
<path class="ax" d="M332.5 363v-5"/>
<path class="ax" d="M426.5 363v-5"/>
<path class="ax" d="M521.5 363v-5"/>
<path class="ax" d="M157 323.5h5"/>
<path class="ax" d="M157 353.5h5"/>
<text transform="translate(238.50 399.00) scale(0.975 1.07)" text-anchor="middle" font-size="24.0">2485</text>
<text transform="translate(331.50 399.00) scale(0.975 1.07)" text-anchor="middle" font-size="24.0">2490</text>
<text transform="translate(426.50 399.00) scale(0.975 1.07)" text-anchor="middle" font-size="24.0">2495</text>
<text transform="translate(520.50 399.00) scale(0.975 1.07)" text-anchor="middle" font-size="24.0">2500</text>
<text transform="translate(149.50 335.00) scale(0.975 1.07)" text-anchor="end" font-size="24.0">40</text>
<text transform="translate(149.50 365.00) scale(0.975 1.07)" text-anchor="end" font-size="24.0">20</text>
<text transform="translate(328.30 275.00) scale(1.03 1.115)" text-anchor="start" font-size="24.0">Bin 3</text>
<text transform="translate(110.00 330.80) rotate(-90) scale(1.02 1.14)" text-anchor="middle" font-size="24.0">ADU</text>
<text transform="translate(250.00 436.20) scale(1.013 1.09)" text-anchor="start" font-size="24.0">Wavenumber [cm</text>
<text transform="translate(440.00 424.20) scale(1.0 1.0)" text-anchor="start" font-size="18.0">-1</text>
<text transform="translate(456.50 436.20) scale(1.0 1.09)" text-anchor="start" font-size="24.0">]</text>
</g>
<g id="bin4">
<path class="gr" d="M766.5 359V295"/>
<path class="gr" d="M860.5 359V295"/>
<path class="gr" d="M955.5 358V295"/>
<path class="gr" d="M1049.5 360V295"/>
<path class="gr" d="M684 319.5H1087"/>
<path class="gr" d="M684 352.5H1087"/>
<path class="cv" stroke="#6fe6f0" stroke-opacity="0.4" stroke-width="1.8" transform="translate(0.3 1.3)" d="M684.6 361.9 685.7 361.9 686.8 361.3 687.8 360.7 688.9 360.2 689.9 359.7 691.0 359.1 692.0 358.8 693.1 358.1 694.1 358.9 695.2 358.5 696.2 357.6 697.3 357.8 698.3 357.5 699.4 356.5 700.8 356.0 701.5 356.3 702.5 354.5 703.6 355.2 704.6 354.4 705.7 353.2 706.7 351.8 707.8 352.8 708.8 352.5 709.9 351.8 710.9 349.4 712.0 350.8 713.0 350.0 714.1 349.7 715.1 348.7 716.2 347.9 717.2 349.6 718.3 348.3 719.3 347.0 720.4 348.5 721.4 346.5 722.5 347.4 723.5 345.7 724.6 346.2 725.6 345.9 727.0 345.9 727.7 344.5 728.8 344.5 729.8 345.8 730.9 345.5 731.9 344.5 733.0 343.7 734.0 343.4 735.1 342.3 736.1 344.1 737.5 343.1 738.2 343.4 739.3 342.9 740.3 342.2 741.4 342.2 742.4 340.1 743.5 342.1 744.5 340.3 745.6 339.0 746.6 338.2 747.7 338.5 748.7 338.9 749.8 337.9 750.8 338.1 751.9 338.2 752.9 335.8 754.0 335.4 755.0 333.6 756.1 332.1 757.1 332.1 758.2 331.9 759.2 332.7 760.3 329.9 761.3 333.2 762.4 329.5 763.4 328.8 764.5 328.8 765.5 328.7 766.6 329.0 767.6 328.8 768.7 330.6 769.7 327.9 770.8 329.4 771.8 328.8 772.9 328.3 773.9 325.3 775.0 328.0 776.0 327.3 777.1 325.6 778.1 327.3 779.2 327.4 780.2 326.3 781.3 325.0 782.3 323.3 783.4 324.8 784.4 322.7 785.5 323.8 786.5 321.7 787.6 321.3 788.2 322.2 789.7 322.8 790.7 322.1 791.8 327.0 792.6 326.6 793.9 325.3 794.9 321.1 796.0 321.2 797.0 320.7 798.1 318.5 798.8 316.6 800.2 318.3 801.2 316.8 802.3 315.3 803.3 317.2 804.4 316.9 805.4 316.3 806.5 319.3 807.5 316.8 808.6 320.0 809.2 318.3 810.7 316.2 811.7 314.9 812.8 314.6 813.8 311.8 814.5 311.5 815.9 311.5 817.0 309.8 818.0 309.5 819.1 308.6 820.1 307.7 821.2 312.1 822.2 308.3 823.3 309.8 824.3 307.4 825.4 310.8 826.8 308.2 827.5 310.3 828.5 309.4 829.6 311.9 831.0 311.2 831.7 308.7 832.7 311.4 833.8 309.7 834.8 307.8 835.9 305.8 837.2 304.3 838.0 303.1 839.0 304.2 840.1 305.1 841.1 306.5 842.2 304.9 843.2 302.8 844.3 302.9 845.3 303.9 846.0 305.0 847.4 307.4 848.5 308.8 849.5 308.9 850.6 307.2 851.6 307.1 853.0 310.1 853.7 305.2 854.8 307.5 855.8 303.3 856.9 305.6 857.9 304.4 859.0 306.1 860.0 303.2 861.1 303.6 862.1 304.3 863.2 304.2 864.4 306.1 865.3 301.7 866.3 301.6 867.4 301.5 868.4 300.4 869.6 298.8 870.5 300.5 871.6 300.0 872.6 300.0 873.7 299.8 874.7 302.6 875.8 300.3 876.8 304.0 877.5 303.3 878.9 301.4 880.0 302.0 881.0 297.8 882.1 299.3 883.1 298.2 884.2 297.7 885.0 298.9 886.3 303.6 887.4 303.7 888.4 301.8 890.0 304.1 891.6 302.5 892.6 297.4 893.7 298.2 895.2 296.6 896.8 299.3 897.9 297.0 898.9 297.9 900.0 300.1 901.0 296.9 902.2 300.9 903.1 301.2 904.2 299.2 905.2 302.6 906.3 301.6 907.3 295.5 908.4 296.1 909.2 295.6 910.5 295.5 911.5 295.5 912.6 299.6 913.6 297.7 914.7 298.2 915.7 302.1 916.8 300.3 918.0 299.5 918.9 298.7 919.9 297.9 921.0 300.7 922.0 300.0 923.1 302.4 924.1 300.6 925.2 302.7 926.8 302.7 928.3 299.9 929.4 299.8 930.4 299.5 931.5 301.8 932.5 297.0 933.6 295.5 934.6 295.5 935.5 296.6 936.7 295.5 937.8 296.8 938.8 300.7 939.9 298.4 940.9 300.5 942.5 301.1 944.1 300.5 945.1 298.4 946.2 296.7 947.2 301.3 948.3 296.4 949.5 295.7 950.4 296.9 951.4 298.2 952.5 295.5 953.5 295.5 954.6 299.9 955.6 299.9 956.7 297.9 958.2 298.7 959.8 301.4 960.9 302.9 961.9 300.2 963.5 303.8 965.1 302.9 966.1 303.2 967.2 302.5 968.2 302.9 969.3 300.7 970.3 301.6 971.4 300.8 972.4 302.0 974.0 299.3 975.6 300.6 976.6 301.9 977.7 304.8 978.4 305.4 979.8 306.1 980.8 306.5 981.9 307.3 982.9 309.3 983.6 307.3 985.0 308.1 986.1 306.6 987.1 302.8 988.2 301.1 989.2 299.9 990.6 299.2 991.3 299.6 992.4 302.4 993.4 305.2 994.5 301.7 995.5 305.1 996.6 306.9 997.6 305.0 998.7 308.9 999.4 309.3 1000.8 308.4 1001.8 305.3 1002.9 306.3 1003.9 304.0 1004.6 303.4 1006.0 305.9 1007.1 306.2 1008.1 308.7 1009.2 307.4 1010.8 310.1 1012.3 310.5 1013.4 309.0 1014.4 311.4 1015.5 308.6 1016.5 308.0 1017.6 310.1 1018.6 306.4 1019.5 306.9 1020.7 307.9 1021.8 309.4 1022.8 310.1 1023.9 313.1 1024.9 309.5 1025.6 311.9 1027.0 309.4 1028.1 309.9 1029.0 308.7 1030.2 310.5 1031.2 310.2 1032.3 312.5 1033.3 314.9 1034.4 316.0 1035.4 314.4 1037.0 317.2 1038.6 319.7 1039.6 315.9 1040.7 318.2 1041.7 316.2 1042.8 317.5 1043.8 317.9 1044.9 317.4 1045.9 316.9 1047.5 318.2 1049.1 321.8 1050.1 320.5 1051.0 320.5 1052.2 320.1 1053.3 322.1 1054.3 321.2 1055.4 317.9 1056.4 318.4 1058.0 320.3 1059.6 319.7 1060.6 320.3 1061.7 322.0 1062.7 319.9 1063.8 322.0 1064.8 322.8 1065.9 322.0 1066.9 321.2 1068.5 322.2 1070.1 324.3 1071.1 324.7 1072.2 325.4 1073.2 323.3 1074.3 324.1 1075.3 322.4 1076.4 326.9 1077.2 326.3 1078.5 328.1 1079.5 324.4 1080.6 328.4 1081.6 327.4 1082.7 327.8 1084.2 327.8 1085.8 326.0 1086.9 323.7"/>
<path class="cv" stroke="#ffa040" stroke-opacity="0.33" stroke-width="1.4" transform="translate(-0.3 -1.0)" d="M684.6 361.9 685.7 361.9 686.8 361.3 687.8 360.7 688.9 360.2 689.9 359.7 691.0 359.1 692.0 358.8 693.1 358.1 694.1 358.9 695.2 358.5 696.2 357.6 697.3 357.8 698.3 357.5 699.4 356.5 700.8 356.0 701.5 356.3 702.5 354.5 703.6 355.2 704.6 354.4 705.7 353.2 706.7 351.8 707.8 352.8 708.8 352.5 709.9 351.8 710.9 349.4 712.0 350.8 713.0 350.0 714.1 349.7 715.1 348.7 716.2 347.9 717.2 349.6 718.3 348.3 719.3 347.0 720.4 348.5 721.4 346.5 722.5 347.4 723.5 345.7 724.6 346.2 725.6 345.9 727.0 345.9 727.7 344.5 728.8 344.5 729.8 345.8 730.9 345.5 731.9 344.5 733.0 343.7 734.0 343.4 735.1 342.3 736.1 344.1 737.5 343.1 738.2 343.4 739.3 342.9 740.3 342.2 741.4 342.2 742.4 340.1 743.5 342.1 744.5 340.3 745.6 339.0 746.6 338.2 747.7 338.5 748.7 338.9 749.8 337.9 750.8 338.1 751.9 338.2 752.9 335.8 754.0 335.4 755.0 333.6 756.1 332.1 757.1 332.1 758.2 331.9 759.2 332.7 760.3 329.9 761.3 333.2 762.4 329.5 763.4 328.8 764.5 328.8 765.5 328.7 766.6 329.0 767.6 328.8 768.7 330.6 769.7 327.9 770.8 329.4 771.8 328.8 772.9 328.3 773.9 325.3 775.0 328.0 776.0 327.3 777.1 325.6 778.1 327.3 779.2 327.4 780.2 326.3 781.3 325.0 782.3 323.3 783.4 324.8 784.4 322.7 785.5 323.8 786.5 321.7 787.6 321.3 788.2 322.2 789.7 322.8 790.7 322.1 791.8 327.0 792.6 326.6 793.9 325.3 794.9 321.1 796.0 321.2 797.0 320.7 798.1 318.5 798.8 316.6 800.2 318.3 801.2 316.8 802.3 315.3 803.3 317.2 804.4 316.9 805.4 316.3 806.5 319.3 807.5 316.8 808.6 320.0 809.2 318.3 810.7 316.2 811.7 314.9 812.8 314.6 813.8 311.8 814.5 311.5 815.9 311.5 817.0 309.8 818.0 309.5 819.1 308.6 820.1 307.7 821.2 312.1 822.2 308.3 823.3 309.8 824.3 307.4 825.4 310.8 826.8 308.2 827.5 310.3 828.5 309.4 829.6 311.9 831.0 311.2 831.7 308.7 832.7 311.4 833.8 309.7 834.8 307.8 835.9 305.8 837.2 304.3 838.0 303.1 839.0 304.2 840.1 305.1 841.1 306.5 842.2 304.9 843.2 302.8 844.3 302.9 845.3 303.9 846.0 305.0 847.4 307.4 848.5 308.8 849.5 308.9 850.6 307.2 851.6 307.1 853.0 310.1 853.7 305.2 854.8 307.5 855.8 303.3 856.9 305.6 857.9 304.4 859.0 306.1 860.0 303.2 861.1 303.6 862.1 304.3 863.2 304.2 864.4 306.1 865.3 301.7 866.3 301.6 867.4 301.5 868.4 300.4 869.6 298.8 870.5 300.5 871.6 300.0 872.6 300.0 873.7 299.8 874.7 302.6 875.8 300.3 876.8 304.0 877.5 303.3 878.9 301.4 880.0 302.0 881.0 297.8 882.1 299.3 883.1 298.2 884.2 297.7 885.0 298.9 886.3 303.6 887.4 303.7 888.4 301.8 890.0 304.1 891.6 302.5 892.6 297.4 893.7 298.2 895.2 296.6 896.8 299.3 897.9 297.0 898.9 297.9 900.0 300.1 901.0 296.9 902.2 300.9 903.1 301.2 904.2 299.2 905.2 302.6 906.3 301.6 907.3 295.5 908.4 296.1 909.2 295.6 910.5 295.5 911.5 295.5 912.6 299.6 913.6 297.7 914.7 298.2 915.7 302.1 916.8 300.3 918.0 299.5 918.9 298.7 919.9 297.9 921.0 300.7 922.0 300.0 923.1 302.4 924.1 300.6 925.2 302.7 926.8 302.7 928.3 299.9 929.4 299.8 930.4 299.5 931.5 301.8 932.5 297.0 933.6 295.5 934.6 295.5 935.5 296.6 936.7 295.5 937.8 296.8 938.8 300.7 939.9 298.4 940.9 300.5 942.5 301.1 944.1 300.5 945.1 298.4 946.2 296.7 947.2 301.3 948.3 296.4 949.5 295.7 950.4 296.9 951.4 298.2 952.5 295.5 953.5 295.5 954.6 299.9 955.6 299.9 956.7 297.9 958.2 298.7 959.8 301.4 960.9 302.9 961.9 300.2 963.5 303.8 965.1 302.9 966.1 303.2 967.2 302.5 968.2 302.9 969.3 300.7 970.3 301.6 971.4 300.8 972.4 302.0 974.0 299.3 975.6 300.6 976.6 301.9 977.7 304.8 978.4 305.4 979.8 306.1 980.8 306.5 981.9 307.3 982.9 309.3 983.6 307.3 985.0 308.1 986.1 306.6 987.1 302.8 988.2 301.1 989.2 299.9 990.6 299.2 991.3 299.6 992.4 302.4 993.4 305.2 994.5 301.7 995.5 305.1 996.6 306.9 997.6 305.0 998.7 308.9 999.4 309.3 1000.8 308.4 1001.8 305.3 1002.9 306.3 1003.9 304.0 1004.6 303.4 1006.0 305.9 1007.1 306.2 1008.1 308.7 1009.2 307.4 1010.8 310.1 1012.3 310.5 1013.4 309.0 1014.4 311.4 1015.5 308.6 1016.5 308.0 1017.6 310.1 1018.6 306.4 1019.5 306.9 1020.7 307.9 1021.8 309.4 1022.8 310.1 1023.9 313.1 1024.9 309.5 1025.6 311.9 1027.0 309.4 1028.1 309.9 1029.0 308.7 1030.2 310.5 1031.2 310.2 1032.3 312.5 1033.3 314.9 1034.4 316.0 1035.4 314.4 1037.0 317.2 1038.6 319.7 1039.6 315.9 1040.7 318.2 1041.7 316.2 1042.8 317.5 1043.8 317.9 1044.9 317.4 1045.9 316.9 1047.5 318.2 1049.1 321.8 1050.1 320.5 1051.0 320.5 1052.2 320.1 1053.3 322.1 1054.3 321.2 1055.4 317.9 1056.4 318.4 1058.0 320.3 1059.6 319.7 1060.6 320.3 1061.7 322.0 1062.7 319.9 1063.8 322.0 1064.8 322.8 1065.9 322.0 1066.9 321.2 1068.5 322.2 1070.1 324.3 1071.1 324.7 1072.2 325.4 1073.2 323.3 1074.3 324.1 1075.3 322.4 1076.4 326.9 1077.2 326.3 1078.5 328.1 1079.5 324.4 1080.6 328.4 1081.6 327.4 1082.7 327.8 1084.2 327.8 1085.8 326.0 1086.9 323.7"/>
<path class="cv" stroke="#1c2470" stroke-opacity="0.6" stroke-width="1" d="M684.6 362.2 685.7 362.3 686.8 361.7 687.8 361.1 688.9 360.4 689.9 360.0 691.0 359.3 692.0 359.3 693.1 358.5 694.1 359.3 695.2 358.8 696.2 358.1 697.3 358.2 698.3 357.9 699.4 356.8 700.8 356.3 701.5 356.6 702.5 354.8 703.6 355.6 704.6 354.9 705.7 353.5 706.7 352.3 707.8 353.1 708.8 352.8 709.9 352.1 710.9 349.7 712.0 351.0 713.0 350.4 714.1 349.9 715.1 349.2 716.2 348.1 717.2 349.9 718.3 348.7 719.3 347.2 720.4 348.8 721.4 346.8 722.5 347.6 723.5 346.0 724.6 346.7 725.6 346.4 727.0 346.3 727.7 344.9 728.8 344.9 729.8 346.2 730.9 346.0 731.9 344.9 733.0 343.9 734.0 343.8 735.1 342.4 736.1 344.5 737.5 343.4 738.2 343.7 739.3 343.4 740.3 342.4 741.4 342.7 742.4 340.4 743.5 342.5 744.5 340.6 745.6 339.3 746.6 338.9 747.7 339.1 748.7 339.3 749.8 338.3 750.8 338.4 751.9 338.7 752.9 336.4 754.0 336.0 755.0 333.9 756.1 332.4 757.1 332.2 758.2 332.2 759.2 333.1 760.3 330.0 761.3 333.4 762.4 330.0 763.4 329.1 764.5 329.2 765.5 329.1 766.6 329.2 767.6 329.2 768.7 331.0 769.7 328.3 770.8 329.7 771.8 329.2 772.9 328.7 773.9 325.7 775.0 328.6 776.0 327.7 777.1 326.0 778.1 327.6 779.2 327.6 780.2 326.5 781.3 325.4 782.3 323.7 783.4 325.3 784.4 322.8 785.5 323.9 786.5 321.9 787.6 321.5 788.2 322.5 789.7 323.1 790.7 322.2 791.8 327.4 792.6 327.0 793.9 325.6 794.9 321.8 796.0 321.5 797.0 321.3 798.1 318.7 798.8 317.0 800.2 318.3 801.2 317.1 802.3 315.5 803.3 317.5 804.4 317.4 805.4 316.7 806.5 319.4 807.5 317.2 808.6 320.5 809.2 318.6 810.7 316.9 811.7 315.2 812.8 314.9 813.8 312.2 814.5 311.9 815.9 312.3 817.0 310.2 818.0 310.1 819.1 308.9 820.1 307.9 821.2 312.7 822.2 308.7 823.3 310.3 824.3 307.9 825.4 311.4 826.8 308.5 827.5 310.6 828.5 309.9 829.6 312.2 831.0 311.7 831.7 309.2 832.7 312.0 833.8 309.8 834.8 307.9 835.9 306.3 837.2 304.8 838.0 303.5 839.0 304.5 840.1 305.2 841.1 307.1 842.2 305.3 843.2 303.3 844.3 303.2 845.3 304.1 846.0 305.2 847.4 307.9 848.5 309.0 849.5 309.5 850.6 307.5 851.6 307.1 853.0 310.5 853.7 305.5 854.8 307.8 855.8 304.2 856.9 306.1 857.9 304.4 859.0 306.4 860.0 303.6 861.1 303.9 862.1 305.0 863.2 304.6 864.4 306.3 865.3 301.9 866.3 301.7 867.4 301.8 868.4 300.8 869.6 299.3 870.5 300.5 871.6 300.5 872.6 300.0 873.7 300.0 874.7 303.2 875.8 300.4 876.8 304.7 877.5 303.9 878.9 302.0 880.0 302.1 881.0 298.6 882.1 299.7 883.1 298.4 884.2 298.2 885.0 299.3 886.3 304.3 887.4 304.0 888.4 302.1 890.0 304.3 891.6 302.9 892.6 297.9 893.7 298.3 895.2 296.9 896.8 300.0 897.9 297.6 898.9 298.3 900.0 300.8 901.0 297.1 902.2 301.4 903.1 301.7 904.2 299.4 905.2 302.6 906.3 302.0 907.3 296.0 908.4 296.1 909.2 296.0 910.5 296.2 911.5 295.7 912.6 299.9 913.6 298.0 914.7 298.2 915.7 302.6 916.8 300.5 918.0 300.0 918.9 299.2 919.9 298.2 921.0 300.7 922.0 300.2 923.1 302.6 924.1 300.9 925.2 303.0 926.8 303.4 928.3 300.4 929.4 300.4 930.4 300.1 931.5 302.1 932.5 297.5 933.6 295.9 934.6 295.4 935.5 296.9 936.7 296.0 937.8 297.0 938.8 301.1 939.9 298.8 940.9 300.8 942.5 301.3 944.1 300.9 945.1 299.4 946.2 297.1 947.2 301.5 948.3 296.4 949.5 296.1 950.4 296.9 951.4 298.3 952.5 295.6 953.5 295.8 954.6 300.4 955.6 300.2 956.7 297.9 958.2 299.0 959.8 301.4 960.9 303.5 961.9 300.7 963.5 304.5 965.1 303.4 966.1 303.7 967.2 302.9 968.2 302.9 969.3 301.0 970.3 301.9 971.4 301.0 972.4 302.3 974.0 299.5 975.6 300.8 976.6 302.4 977.7 305.2 978.4 305.6 979.8 306.3 980.8 307.0 981.9 307.6 982.9 309.8 983.6 307.5 985.0 308.6 986.1 307.0 987.1 303.3 988.2 301.2 989.2 300.1 990.6 299.5 991.3 300.2 992.4 302.3 993.4 305.2 994.5 302.1 995.5 305.5 996.6 307.6 997.6 305.2 998.7 309.3 999.4 309.7 1000.8 308.6 1001.8 305.6 1002.9 306.6 1003.9 304.5 1004.6 303.5 1006.0 306.1 1007.1 306.8 1008.1 309.1 1009.2 307.8 1010.8 310.9 1012.3 311.0 1013.4 309.4 1014.4 311.7 1015.5 309.1 1016.5 308.4 1017.6 310.4 1018.6 307.0 1019.5 307.1 1020.7 308.2 1021.8 309.6 1022.8 310.4 1023.9 313.4 1024.9 309.9 1025.6 312.0 1027.0 309.7 1028.1 310.5 1029.0 309.1 1030.2 310.9 1031.2 310.0 1032.3 312.5 1033.3 315.4 1034.4 316.3 1035.4 314.6 1037.0 317.8 1038.6 319.7 1039.6 316.2 1040.7 318.6 1041.7 316.7 1042.8 317.9 1043.8 318.2 1044.9 317.6 1045.9 317.0 1047.5 318.2 1049.1 322.1 1050.1 321.1 1051.0 320.9 1052.2 320.6 1053.3 322.4 1054.3 321.4 1055.4 318.3 1056.4 318.5 1058.0 321.0 1059.6 320.2 1060.6 320.9 1061.7 322.3 1062.7 320.1 1063.8 322.0 1064.8 323.2 1065.9 322.7 1066.9 321.6 1068.5 322.5 1070.1 324.7 1071.1 325.3 1072.2 325.8 1073.2 324.0 1074.3 324.5 1075.3 322.8 1076.4 327.6 1077.2 326.3 1078.5 328.2 1079.5 324.8 1080.6 328.8 1081.6 327.8 1082.7 328.1 1084.2 328.1 1085.8 326.5 1086.9 323.9"/>
<path class="cv" stroke="#1a6a66" stroke-opacity="0.6" stroke-width="1" d="M684.6 362.1 685.7 362.2 686.8 361.7 687.8 361.0 688.9 360.4 689.9 360.0 691.0 359.3 692.0 359.1 693.1 358.5 694.1 359.1 695.2 359.0 696.2 357.9 697.3 358.0 698.3 357.8 699.4 356.8 700.8 356.4 701.5 356.4 702.5 354.6 703.6 355.6 704.6 354.7 705.7 353.5 706.7 352.1 707.8 353.2 708.8 352.8 709.9 352.0 710.9 349.5 712.0 350.9 713.0 350.2 714.1 349.8 715.1 348.8 716.2 348.3 717.2 349.9 718.3 348.5 719.3 347.4 720.4 348.8 721.4 346.7 722.5 347.7 723.5 346.0 724.6 346.3 725.6 346.3 727.0 346.1 727.7 344.9 728.8 344.7 729.8 346.1 730.9 345.9 731.9 344.9 733.0 343.7 734.0 343.6 735.1 342.7 736.1 344.3 737.5 343.6 738.2 343.8 739.3 343.3 740.3 342.4 741.4 342.2 742.4 340.4 743.5 342.4 744.5 340.6 745.6 339.2 746.6 338.3 747.7 338.6 748.7 339.0 749.8 338.0 750.8 338.3 751.9 338.4 752.9 336.2 754.0 335.5 755.0 334.0 756.1 332.3 757.1 332.1 758.2 332.0 759.2 333.0 760.3 330.0 761.3 333.4 762.4 329.8 763.4 328.9 764.5 329.0 765.5 328.8 766.6 329.0 767.6 329.1 768.7 331.0 769.7 328.1 770.8 329.5 771.8 329.3 772.9 328.6 773.9 325.6 775.0 328.4 776.0 327.6 777.1 325.8 778.1 327.7 779.2 327.7 780.2 326.4 781.3 325.4 782.3 323.5 783.4 325.3 784.4 322.9 785.5 323.7 786.5 322.0 787.6 321.5 788.2 322.7 789.7 323.3 790.7 322.6 791.8 327.2 792.6 326.9 793.9 325.8 794.9 321.2 796.0 321.5 797.0 321.1 798.1 318.7 798.8 316.9 800.2 318.1 801.2 317.2 802.3 315.3 803.3 317.7 804.4 317.2 805.4 316.2 806.5 319.3 807.5 316.8 808.6 320.2 809.2 318.7 810.7 316.4 811.7 315.2 812.8 314.6 813.8 312.1 814.5 311.7 815.9 311.7 817.0 310.0 818.0 310.0 819.1 309.0 820.1 308.0 821.2 312.3 822.2 308.5 823.3 310.1 824.3 307.8 825.4 311.0 826.8 308.5 827.5 310.4 828.5 309.4 829.6 312.1 831.0 311.2 831.7 308.9 832.7 311.4 833.8 309.9 834.8 308.3 835.9 306.1 837.2 304.7 838.0 303.3 839.0 304.2 840.1 305.5 841.1 306.9 842.2 305.0 843.2 302.9 844.3 303.1 845.3 304.0 846.0 305.3 847.4 307.8 848.5 309.0 849.5 309.5 850.6 307.3 851.6 307.4 853.0 310.5 853.7 305.1 854.8 307.7 855.8 303.4 856.9 305.9 857.9 304.7 859.0 306.3 860.0 303.2 861.1 304.3 862.1 304.8 863.2 304.5 864.4 306.4 865.3 302.1 866.3 301.7 867.4 301.9 868.4 300.4 869.6 299.2 870.5 300.9 871.6 300.3 872.6 300.2 873.7 300.1 874.7 302.6 875.8 300.4 876.8 304.2 877.5 303.6 878.9 301.4 880.0 302.2 881.0 298.1 882.1 299.5 883.1 298.3 884.2 297.9 885.0 299.2 886.3 304.1 887.4 304.2 888.4 302.0 890.0 304.6 891.6 302.7 892.6 297.4 893.7 298.3 895.2 296.8 896.8 299.9 897.9 297.4 898.9 297.8 900.0 300.3 901.0 296.9 902.2 300.9 903.1 301.7 904.2 299.6 905.2 302.7 906.3 301.9 907.3 295.9 908.4 296.4 909.2 296.1 910.5 295.9 911.5 295.6 912.6 299.9 913.6 297.5 914.7 298.3 915.7 302.4 916.8 300.5 918.0 299.6 918.9 298.8 919.9 297.9 921.0 301.0 922.0 300.1 923.1 302.7 924.1 300.7 925.2 303.1 926.8 302.8 928.3 299.7 929.4 300.3 930.4 299.8 931.5 302.1 932.5 297.4 933.6 296.1 934.6 295.8 935.5 297.0 936.7 296.0 937.8 297.2 938.8 300.7 939.9 298.4 940.9 300.5 942.5 301.1 944.1 300.5 945.1 298.5 946.2 296.9 947.2 302.0 948.3 296.9 949.5 296.2 950.4 297.3 951.4 298.8 952.5 295.5 953.5 295.8 954.6 300.1 955.6 300.4 956.7 298.2 958.2 299.1 959.8 301.7 960.9 303.1 961.9 300.8 963.5 304.2 965.1 302.8 966.1 303.8 967.2 302.5 968.2 303.5 969.3 301.6 970.3 301.7 971.4 301.3 972.4 302.2 974.0 299.4 975.6 301.1 976.6 302.0 977.7 305.0 978.4 305.5 979.8 306.3 980.8 306.7 981.9 307.4 982.9 309.8 983.6 307.7 985.0 308.2 986.1 306.8 987.1 303.0 988.2 301.2 989.2 300.2 990.6 299.4 991.3 300.1 992.4 302.4 993.4 305.4 994.5 301.9 995.5 305.3 996.6 307.5 997.6 305.3 998.7 308.6 999.4 309.6 1000.8 308.4 1001.8 305.4 1002.9 306.5 1003.9 304.2 1004.6 303.5 1006.0 305.9 1007.1 306.5 1008.1 309.0 1009.2 307.8 1010.8 310.4 1012.3 310.6 1013.4 309.4 1014.4 311.7 1015.5 308.8 1016.5 308.3 1017.6 310.4 1018.6 306.4 1019.5 307.1 1020.7 308.3 1021.8 309.6 1022.8 310.4 1023.9 313.5 1024.9 309.7 1025.6 312.2 1027.0 309.7 1028.1 310.3 1029.0 308.8 1030.2 310.9 1031.2 310.3 1032.3 313.0 1033.3 315.1 1034.4 316.4 1035.4 315.0 1037.0 317.8 1038.6 320.0 1039.6 316.0 1040.7 318.5 1041.7 316.2 1042.8 318.0 1043.8 317.8 1044.9 317.7 1045.9 316.8 1047.5 318.2 1049.1 322.1 1050.1 320.5 1051.0 320.7 1052.2 320.0 1053.3 322.6 1054.3 321.3 1055.4 318.1 1056.4 318.7 1058.0 320.4 1059.6 319.8 1060.6 320.7 1061.7 322.2 1062.7 320.1 1063.8 322.2 1064.8 323.0 1065.9 322.3 1066.9 321.5 1068.5 322.3 1070.1 324.7 1071.1 324.9 1072.2 325.6 1073.2 323.8 1074.3 324.2 1075.3 322.8 1076.4 327.2 1077.2 326.7 1078.5 328.7 1079.5 324.5 1080.6 328.7 1081.6 327.8 1082.7 328.1 1084.2 328.1 1085.8 326.4 1086.9 323.8"/>
<path class="cv" stroke="#8c1616" stroke-opacity="0.6" stroke-width="1" d="M684.6 361.8 685.7 361.8 686.8 361.2 687.8 360.7 688.9 360.1 689.9 359.6 691.0 359.1 692.0 358.8 693.1 358.1 694.1 358.8 695.2 358.4 696.2 357.5 697.3 357.6 698.3 357.4 699.4 356.3 700.8 356.0 701.5 356.2 702.5 354.4 703.6 355.2 704.6 354.3 705.7 353.2 706.7 351.8 707.8 352.6 708.8 352.5 709.9 351.7 710.9 349.4 712.0 350.6 713.0 349.9 714.1 349.7 715.1 348.6 716.2 347.8 717.2 349.5 718.3 348.3 719.3 346.7 720.4 348.5 721.4 346.4 722.5 347.4 723.5 345.6 724.6 346.1 725.6 345.9 727.0 345.8 727.7 344.4 728.8 344.4 729.8 345.6 730.9 345.5 731.9 344.4 733.0 343.5 734.0 343.4 735.1 342.1 736.1 343.9 737.5 343.2 738.2 343.3 739.3 343.0 740.3 342.1 741.4 342.1 742.4 340.0 743.5 342.0 744.5 340.1 745.6 338.9 746.6 338.1 747.7 338.4 748.7 339.0 749.8 337.7 750.8 337.9 751.9 338.1 752.9 335.8 754.0 335.4 755.0 333.4 756.1 332.1 757.1 332.0 758.2 331.6 759.2 332.7 760.3 329.6 761.3 333.2 762.4 329.4 763.4 328.7 764.5 328.9 765.5 328.8 766.6 328.9 767.6 328.8 768.7 330.4 769.7 327.9 770.8 329.3 771.8 328.6 772.9 328.0 773.9 325.2 775.0 327.9 776.0 327.3 777.1 325.4 778.1 327.1 779.2 327.4 780.2 326.2 781.3 325.0 782.3 323.3 783.4 324.6 784.4 322.3 785.5 323.7 786.5 321.5 787.6 321.2 788.2 321.8 789.7 322.7 790.7 322.0 791.8 326.8 792.6 326.5 793.9 325.2 794.9 321.1 796.0 321.3 797.0 320.7 798.1 318.5 798.8 316.5 800.2 318.2 801.2 316.7 802.3 315.2 803.3 317.1 804.4 316.9 805.4 316.3 806.5 319.2 807.5 316.6 808.6 320.0 809.2 318.1 810.7 315.9 811.7 314.8 812.8 314.4 813.8 311.8 814.5 311.4 815.9 311.5 817.0 309.8 818.0 309.6 819.1 308.5 820.1 307.3 821.2 311.9 822.2 308.1 823.3 309.8 824.3 307.5 825.4 310.8 826.8 308.2 827.5 310.3 828.5 309.4 829.6 311.7 831.0 311.2 831.7 308.5 832.7 311.2 833.8 309.6 834.8 307.9 835.9 305.7 837.2 304.0 838.0 303.1 839.0 304.1 840.1 305.1 841.1 306.3 842.2 304.9 843.2 302.9 844.3 302.8 845.3 303.8 846.0 304.9 847.4 307.2 848.5 308.7 849.5 308.9 850.6 307.0 851.6 307.1 853.0 309.8 853.7 305.2 854.8 307.5 855.8 303.2 856.9 305.4 857.9 304.2 859.0 305.7 860.0 303.1 861.1 303.5 862.1 304.2 863.2 304.2 864.4 306.0 865.3 301.6 866.3 301.7 867.4 301.4 868.4 300.3 869.6 298.5 870.5 300.5 871.6 299.8 872.6 300.1 873.7 299.6 874.7 302.4 875.8 300.3 876.8 303.8 877.5 303.0 878.9 301.2 880.0 301.8 881.0 297.7 882.1 299.3 883.1 298.2 884.2 297.6 885.0 298.9 886.3 303.2 887.4 303.6 888.4 301.6 890.0 303.9 891.6 302.5 892.6 297.2 893.7 298.0 895.2 296.7 896.8 299.1 897.9 296.9 898.9 297.6 900.0 300.1 901.0 296.8 902.2 301.0 903.1 301.4 904.2 299.2 905.2 302.5 906.3 301.4 907.3 295.6 908.4 295.9 909.2 295.6 910.5 295.4 911.5 294.9 912.6 299.5 913.6 297.6 914.7 298.1 915.7 302.0 916.8 300.2 918.0 299.3 918.9 298.7 919.9 297.7 921.0 300.6 922.0 300.1 923.1 302.4 924.1 300.4 925.2 302.7 926.8 302.4 928.3 299.8 929.4 299.9 930.4 299.3 931.5 301.7 932.5 296.8 933.6 295.4 934.6 295.4 935.5 296.5 936.7 295.4 937.8 296.4 938.8 300.5 939.9 298.3 940.9 300.5 942.5 300.7 944.1 300.6 945.1 298.2 946.2 296.4 947.2 301.4 948.3 296.3 949.5 295.5 950.4 296.8 951.4 298.2 952.5 295.2 953.5 295.6 954.6 299.7 955.6 299.9 956.7 297.7 958.2 298.4 959.8 301.2 960.9 302.7 961.9 300.1 963.5 303.5 965.1 302.7 966.1 303.1 967.2 302.4 968.2 302.8 969.3 300.7 970.3 301.4 971.4 300.9 972.4 301.8 974.0 299.3 975.6 300.4 976.6 301.9 977.7 304.7 978.4 305.2 979.8 306.0 980.8 306.5 981.9 307.1 982.9 309.5 983.6 307.2 985.0 308.2 986.1 306.7 987.1 302.8 988.2 301.0 989.2 300.1 990.6 299.0 991.3 299.5 992.4 302.5 993.4 305.2 994.5 301.4 995.5 305.0 996.6 306.7 997.6 305.1 998.7 308.8 999.4 309.2 1000.8 308.2 1001.8 305.1 1002.9 306.3 1003.9 303.7 1004.6 303.3 1006.0 305.7 1007.1 306.1 1008.1 308.4 1009.2 307.4 1010.8 309.8 1012.3 310.3 1013.4 308.8 1014.4 311.3 1015.5 308.5 1016.5 307.7 1017.6 310.0 1018.6 306.1 1019.5 306.7 1020.7 308.0 1021.8 309.0 1022.8 310.0 1023.9 313.1 1024.9 309.4 1025.6 311.7 1027.0 309.4 1028.1 309.8 1029.0 308.4 1030.2 310.4 1031.2 310.2 1032.3 312.4 1033.3 314.7 1034.4 315.9 1035.4 314.3 1037.0 317.1 1038.6 319.6 1039.6 315.7 1040.7 317.9 1041.7 316.2 1042.8 317.4 1043.8 317.7 1044.9 317.1 1045.9 316.8 1047.5 318.1 1049.1 321.7 1050.1 320.4 1051.0 320.4 1052.2 320.0 1053.3 321.8 1054.3 321.0 1055.4 317.7 1056.4 318.4 1058.0 320.1 1059.6 319.8 1060.6 320.3 1061.7 321.8 1062.7 319.8 1063.8 321.9 1064.8 322.8 1065.9 322.0 1066.9 320.9 1068.5 322.1 1070.1 324.2 1071.1 324.6 1072.2 325.3 1073.2 323.2 1074.3 324.0 1075.3 322.3 1076.4 326.9 1077.2 326.3 1078.5 328.0 1079.5 324.2 1080.6 328.3 1081.6 327.3 1082.7 327.7 1084.2 327.8 1085.8 326.1 1086.9 323.7"/>
<path class="cv " stroke="#52100e" stroke-width="1" d="M684.6 361.9 685.7 361.9 686.8 361.3 687.8 360.7 688.9 360.2 689.9 359.7 691.0 359.1 692.0 358.8 693.1 358.1 694.1 358.9 695.2 358.5 696.2 357.6 697.3 357.8 698.3 357.5 699.4 356.5 700.8 356.0 701.5 356.3 702.5 354.5 703.6 355.2 704.6 354.4 705.7 353.2 706.7 351.8 707.8 352.8 708.8 352.5 709.9 351.8 710.9 349.4 712.0 350.8 713.0 350.0 714.1 349.7 715.1 348.7 716.2 347.9 717.2 349.6 718.3 348.3 719.3 347.0 720.4 348.5 721.4 346.5 722.5 347.4 723.5 345.7 724.6 346.2 725.6 345.9 727.0 345.9 727.7 344.5 728.8 344.5 729.8 345.8 730.9 345.5 731.9 344.5 733.0 343.7 734.0 343.4 735.1 342.3 736.1 344.1 737.5 343.1 738.2 343.4 739.3 342.9 740.3 342.2 741.4 342.2 742.4 340.1 743.5 342.1 744.5 340.3 745.6 339.0 746.6 338.2 747.7 338.5 748.7 338.9 749.8 337.9 750.8 338.1 751.9 338.2 752.9 335.8 754.0 335.4 755.0 333.6 756.1 332.1 757.1 332.1 758.2 331.9 759.2 332.7 760.3 329.9 761.3 333.2 762.4 329.5 763.4 328.8 764.5 328.8 765.5 328.7 766.6 329.0 767.6 328.8 768.7 330.6 769.7 327.9 770.8 329.4 771.8 328.8 772.9 328.3 773.9 325.3 775.0 328.0 776.0 327.3 777.1 325.6 778.1 327.3 779.2 327.4 780.2 326.3 781.3 325.0 782.3 323.3 783.4 324.8 784.4 322.7 785.5 323.8 786.5 321.7 787.6 321.3 788.2 322.2 789.7 322.8 790.7 322.1 791.8 327.0 792.6 326.6 793.9 325.3 794.9 321.1 796.0 321.2 797.0 320.7 798.1 318.5 798.8 316.6 800.2 318.3 801.2 316.8 802.3 315.3 803.3 317.2 804.4 316.9 805.4 316.3 806.5 319.3 807.5 316.8 808.6 320.0 809.2 318.3 810.7 316.2 811.7 314.9 812.8 314.6 813.8 311.8 814.5 311.5 815.9 311.5 817.0 309.8 818.0 309.5 819.1 308.6 820.1 307.7 821.2 312.1 822.2 308.3 823.3 309.8 824.3 307.4 825.4 310.8 826.8 308.2 827.5 310.3 828.5 309.4 829.6 311.9 831.0 311.2 831.7 308.7 832.7 311.4 833.8 309.7 834.8 307.8 835.9 305.8 837.2 304.3 838.0 303.1 839.0 304.2 840.1 305.1 841.1 306.5 842.2 304.9 843.2 302.8 844.3 302.9 845.3 303.9 846.0 305.0 847.4 307.4 848.5 308.8 849.5 308.9 850.6 307.2 851.6 307.1 853.0 310.1 853.7 305.2 854.8 307.5 855.8 303.3 856.9 305.6 857.9 304.4 859.0 306.1 860.0 303.2 861.1 303.6 862.1 304.3 863.2 304.2 864.4 306.1 865.3 301.7 866.3 301.6 867.4 301.5 868.4 300.4 869.6 298.8 870.5 300.5 871.6 300.0 872.6 300.0 873.7 299.8 874.7 302.6 875.8 300.3 876.8 304.0 877.5 303.3 878.9 301.4 880.0 302.0 881.0 297.8 882.1 299.3 883.1 298.2 884.2 297.7 885.0 298.9 886.3 303.6 887.4 303.7 888.4 301.8 890.0 304.1 891.6 302.5 892.6 297.4 893.7 298.2 895.2 296.6 896.8 299.3 897.9 297.0 898.9 297.9 900.0 300.1 901.0 296.9 902.2 300.9 903.1 301.2 904.2 299.2 905.2 302.6 906.3 301.6 907.3 295.5 908.4 296.1 909.2 295.6 910.5 295.5 911.5 295.5 912.6 299.6 913.6 297.7 914.7 298.2 915.7 302.1 916.8 300.3 918.0 299.5 918.9 298.7 919.9 297.9 921.0 300.7 922.0 300.0 923.1 302.4 924.1 300.6 925.2 302.7 926.8 302.7 928.3 299.9 929.4 299.8 930.4 299.5 931.5 301.8 932.5 297.0 933.6 295.5 934.6 295.5 935.5 296.6 936.7 295.5 937.8 296.8 938.8 300.7 939.9 298.4 940.9 300.5 942.5 301.1 944.1 300.5 945.1 298.4 946.2 296.7 947.2 301.3 948.3 296.4 949.5 295.7 950.4 296.9 951.4 298.2 952.5 295.5 953.5 295.5 954.6 299.9 955.6 299.9 956.7 297.9 958.2 298.7 959.8 301.4 960.9 302.9 961.9 300.2 963.5 303.8 965.1 302.9 966.1 303.2 967.2 302.5 968.2 302.9 969.3 300.7 970.3 301.6 971.4 300.8 972.4 302.0 974.0 299.3 975.6 300.6 976.6 301.9 977.7 304.8 978.4 305.4 979.8 306.1 980.8 306.5 981.9 307.3 982.9 309.3 983.6 307.3 985.0 308.1 986.1 306.6 987.1 302.8 988.2 301.1 989.2 299.9 990.6 299.2 991.3 299.6 992.4 302.4 993.4 305.2 994.5 301.7 995.5 305.1 996.6 306.9 997.6 305.0 998.7 308.9 999.4 309.3 1000.8 308.4 1001.8 305.3 1002.9 306.3 1003.9 304.0 1004.6 303.4 1006.0 305.9 1007.1 306.2 1008.1 308.7 1009.2 307.4 1010.8 310.1 1012.3 310.5 1013.4 309.0 1014.4 311.4 1015.5 308.6 1016.5 308.0 1017.6 310.1 1018.6 306.4 1019.5 306.9 1020.7 307.9 1021.8 309.4 1022.8 310.1 1023.9 313.1 1024.9 309.5 1025.6 311.9 1027.0 309.4 1028.1 309.9 1029.0 308.7 1030.2 310.5 1031.2 310.2 1032.3 312.5 1033.3 314.9 1034.4 316.0 1035.4 314.4 1037.0 317.2 1038.6 319.7 1039.6 315.9 1040.7 318.2 1041.7 316.2 1042.8 317.5 1043.8 317.9 1044.9 317.4 1045.9 316.9 1047.5 318.2 1049.1 321.8 1050.1 320.5 1051.0 320.5 1052.2 320.1 1053.3 322.1 1054.3 321.2 1055.4 317.9 1056.4 318.4 1058.0 320.3 1059.6 319.7 1060.6 320.3 1061.7 322.0 1062.7 319.9 1063.8 322.0 1064.8 322.8 1065.9 322.0 1066.9 321.2 1068.5 322.2 1070.1 324.3 1071.1 324.7 1072.2 325.4 1073.2 323.3 1074.3 324.1 1075.3 322.4 1076.4 326.9 1077.2 326.3 1078.5 328.1 1079.5 324.4 1080.6 328.4 1081.6 327.4 1082.7 327.8 1084.2 327.8 1085.8 326.0 1086.9 323.7"/>
<path class="ax" d="M684.5 295V363.5H1087"/>
<path class="ax" d="M766.5 363v-5"/>
<path class="ax" d="M860.5 363v-5"/>
<path class="ax" d="M955.5 363v-5"/>
<path class="ax" d="M1049.5 363v-5"/>
<path class="ax" d="M685 319.5h5"/>
<path class="ax" d="M685 352.5h5"/>
<text transform="translate(766.50 399.00) scale(0.975 1.07)" text-anchor="middle" font-size="24.0">2485</text>
<text transform="translate(859.50 399.00) scale(0.975 1.07)" text-anchor="middle" font-size="24.0">2490</text>
<text transform="translate(954.50 399.00) scale(0.975 1.07)" text-anchor="middle" font-size="24.0">2495</text>
<text transform="translate(1048.50 399.00) scale(0.975 1.07)" text-anchor="middle" font-size="24.0">2500</text>
<text transform="translate(677.50 331.00) scale(0.975 1.07)" text-anchor="end" font-size="24.0">40</text>
<text transform="translate(677.50 364.00) scale(0.975 1.07)" text-anchor="end" font-size="24.0">20</text>
<text transform="translate(856.30 275.00) scale(1.03 1.115)" text-anchor="start" font-size="24.0">Bin 4</text>
<text transform="translate(638.00 330.80) rotate(-90) scale(1.02 1.14)" text-anchor="middle" font-size="24.0">ADU</text>
<text transform="translate(778.00 436.20) scale(1.013 1.09)" text-anchor="start" font-size="24.0">Wavenumber [cm</text>
<text transform="translate(968.00 424.20) scale(1.0 1.0)" text-anchor="start" font-size="18.0">-1</text>
<text transform="translate(984.50 436.20) scale(1.0 1.09)" text-anchor="start" font-size="24.0">]</text>
</g>
<g id="bin5">
<path class="gr" d="M238.5 556V493"/>
<path class="gr" d="M332.5 556V493"/>
<path class="gr" d="M426.5 555V493"/>
<path class="gr" d="M521.5 557V493"/>
<path class="gr" d="M156 514.5H559"/>
<path class="gr" d="M156 548.5H559"/>
<path class="cv" stroke="#6fe6f0" stroke-opacity="0.4" stroke-width="1.8" transform="translate(0.3 1.3)" d="M156.7 559.5 157.7 559.3 158.8 558.7 159.8 558.3 160.9 557.7 161.9 556.1 163.0 556.1 164.0 555.9 165.1 555.3 166.1 554.0 167.2 554.8 168.2 554.4 169.3 554.3 170.3 554.8 171.4 554.2 172.8 553.9 173.5 552.8 174.5 552.6 175.6 551.9 176.6 551.2 177.7 550.7 178.7 550.8 179.8 548.0 180.8 547.9 181.5 548.0 182.9 547.8 184.0 546.3 185.0 547.2 186.1 547.4 187.1 547.9 188.2 546.1 189.2 546.8 190.3 546.4 191.3 545.8 192.4 546.4 193.4 545.4 194.5 545.1 195.5 545.3 196.6 543.5 197.6 544.7 198.7 544.1 199.7 544.4 200.8 542.5 201.8 542.9 202.9 543.0 203.9 542.6 205.0 540.6 206.0 541.0 207.1 540.1 208.1 539.8 209.2 540.3 210.2 537.5 211.3 538.7 212.3 539.8 213.4 537.6 214.4 536.7 215.5 536.9 216.5 536.6 217.6 535.4 218.6 536.5 219.7 534.7 220.7 535.5 221.8 534.7 222.8 534.8 223.5 534.8 224.9 534.9 226.0 532.4 227.0 532.4 228.1 531.1 229.1 533.4 230.2 530.6 231.2 527.7 232.2 528.4 233.3 529.6 234.4 528.6 235.4 527.9 236.5 529.1 237.5 529.4 238.6 527.5 239.6 525.1 241.0 523.2 241.7 524.9 242.8 525.1 243.8 524.0 244.9 524.2 245.9 524.4 247.0 526.1 248.0 525.4 248.9 525.6 250.1 524.8 251.2 524.1 252.2 522.6 253.3 523.0 254.3 522.2 255.4 523.2 256.8 520.7 257.5 520.0 258.5 520.2 259.6 519.0 260.6 521.0 261.7 520.2 262.7 521.1 263.8 521.6 264.6 521.3 265.9 519.9 266.9 519.9 268.0 517.2 269.0 515.4 270.1 515.8 270.8 514.2 272.2 516.1 273.2 515.4 274.3 515.1 275.3 517.2 276.4 516.9 277.4 518.9 278.6 517.8 279.5 517.0 280.6 515.4 281.6 511.8 283.0 510.8 283.7 511.1 284.8 510.0 285.8 510.4 286.9 510.3 287.9 508.0 289.0 508.8 290.0 508.1 291.1 509.9 292.1 513.0 293.2 508.4 294.2 512.4 295.2 510.7 296.3 509.7 297.4 507.1 298.4 509.8 299.5 507.8 300.5 505.9 301.6 508.3 302.6 507.3 304.0 505.9 304.7 505.4 305.8 502.4 306.8 506.8 307.9 504.3 308.9 503.1 310.0 505.2 311.0 505.1 312.1 502.2 313.1 502.0 314.5 501.4 315.2 502.5 316.3 502.7 317.3 503.1 318.9 506.3 320.5 505.7 321.5 508.3 322.6 504.3 323.6 501.1 325.0 502.3 325.7 502.9 326.8 503.8 327.8 506.2 329.4 506.2 331.0 507.6 332.0 504.5 333.1 504.8 333.8 499.7 335.2 503.1 336.2 501.7 337.3 499.5 338.3 497.7 339.4 500.8 340.4 499.4 341.5 499.7 342.5 498.2 343.4 497.2 344.6 496.2 345.7 497.6 346.7 500.5 347.8 500.1 348.8 500.6 349.5 499.9 350.9 498.7 352.0 500.2 353.0 498.9 354.1 498.6 355.1 503.0 356.2 500.1 357.4 502.2 358.3 504.0 359.4 499.3 360.4 498.0 361.5 497.4 362.5 499.3 363.8 497.8 364.6 496.3 365.7 499.8 366.7 494.2 367.8 497.2 368.8 499.2 369.9 495.7 370.9 493.5 372.5 495.0 374.1 495.6 375.1 494.2 376.2 497.1 377.8 493.8 379.3 497.3 380.4 495.3 381.4 497.5 382.1 499.8 383.5 500.4 384.6 496.1 385.6 497.4 386.5 493.5 387.7 495.8 388.8 495.2 389.8 497.3 390.9 497.9 391.9 499.0 392.6 501.0 394.0 494.9 395.1 497.4 396.1 496.6 397.0 496.1 398.2 498.8 399.3 496.7 400.3 502.7 401.4 501.6 402.4 501.9 403.5 498.7 404.5 499.4 405.6 498.3 406.6 496.7 407.5 497.4 408.7 496.7 409.8 495.8 410.8 496.5 411.9 497.0 412.9 496.1 414.0 497.1 415.0 496.4 416.2 494.5 417.1 495.0 418.2 495.0 419.2 495.0 420.3 493.6 421.3 496.8 422.4 495.6 423.4 497.4 425.0 496.2 426.6 500.4 427.6 496.0 428.7 496.1 429.7 497.3 430.8 495.3 432.0 496.7 432.9 496.9 433.9 497.2 435.0 499.2 436.0 497.5 437.1 499.0 438.1 500.3 439.2 501.9 440.2 500.8 441.3 501.9 442.5 501.8 443.4 500.9 444.4 498.0 445.5 499.2 446.5 500.3 447.6 498.3 448.6 497.9 449.7 501.5 451.2 497.9 452.8 501.1 453.9 500.7 454.9 503.4 456.0 503.1 457.4 506.7 458.1 505.7 459.1 499.8 460.0 499.7 461.2 500.0 462.3 501.1 463.3 498.9 464.4 499.8 465.4 500.5 467.0 500.7 468.6 506.0 469.6 509.0 470.5 506.6 471.7 507.7 472.8 504.3 473.8 505.4 474.9 501.2 475.9 503.9 477.0 505.2 478.0 502.4 479.1 505.3 480.1 502.6 481.0 506.5 482.2 508.2 483.3 509.2 484.3 507.3 485.4 509.1 486.2 511.2 487.5 510.8 488.5 505.8 489.8 505.2 490.6 507.2 491.7 506.3 492.7 508.8 493.8 509.7 494.8 507.9 495.9 510.4 496.8 511.0 498.0 509.8 499.0 511.2 500.1 514.1 501.1 512.3 502.2 510.3 503.8 512.1 505.3 511.1 506.4 512.4 507.4 514.5 508.5 515.0 509.5 516.4 510.8 515.8 511.6 516.7 512.7 517.7 513.7 516.6 514.8 514.2 515.8 518.1 516.9 516.6 517.9 515.3 519.5 517.1 521.1 516.2 522.1 516.7 523.2 517.7 524.2 519.9 525.6 518.1 526.3 517.5 527.4 520.7 528.4 521.1 529.5 520.9 530.5 522.7 531.8 522.9 532.6 520.6 533.7 523.1 534.7 520.6 535.8 520.4 537.0 519.7 537.9 519.2 538.9 519.6 540.0 521.7 541.0 523.2 542.1 521.6 543.1 522.4 544.2 522.0 545.2 520.3 546.3 521.4 547.5 519.7 548.4 521.8 549.4 519.4 550.5 521.0 551.5 522.3 552.6 521.0 553.6 522.6 554.7 522.0 555.4 523.2 556.8 523.3 557.8 521.7 558.9 520.3"/>
<path class="cv" stroke="#ffa040" stroke-opacity="0.33" stroke-width="1.4" transform="translate(-0.3 -1.0)" d="M156.7 559.5 157.7 559.3 158.8 558.7 159.8 558.3 160.9 557.7 161.9 556.1 163.0 556.1 164.0 555.9 165.1 555.3 166.1 554.0 167.2 554.8 168.2 554.4 169.3 554.3 170.3 554.8 171.4 554.2 172.8 553.9 173.5 552.8 174.5 552.6 175.6 551.9 176.6 551.2 177.7 550.7 178.7 550.8 179.8 548.0 180.8 547.9 181.5 548.0 182.9 547.8 184.0 546.3 185.0 547.2 186.1 547.4 187.1 547.9 188.2 546.1 189.2 546.8 190.3 546.4 191.3 545.8 192.4 546.4 193.4 545.4 194.5 545.1 195.5 545.3 196.6 543.5 197.6 544.7 198.7 544.1 199.7 544.4 200.8 542.5 201.8 542.9 202.9 543.0 203.9 542.6 205.0 540.6 206.0 541.0 207.1 540.1 208.1 539.8 209.2 540.3 210.2 537.5 211.3 538.7 212.3 539.8 213.4 537.6 214.4 536.7 215.5 536.9 216.5 536.6 217.6 535.4 218.6 536.5 219.7 534.7 220.7 535.5 221.8 534.7 222.8 534.8 223.5 534.8 224.9 534.9 226.0 532.4 227.0 532.4 228.1 531.1 229.1 533.4 230.2 530.6 231.2 527.7 232.2 528.4 233.3 529.6 234.4 528.6 235.4 527.9 236.5 529.1 237.5 529.4 238.6 527.5 239.6 525.1 241.0 523.2 241.7 524.9 242.8 525.1 243.8 524.0 244.9 524.2 245.9 524.4 247.0 526.1 248.0 525.4 248.9 525.6 250.1 524.8 251.2 524.1 252.2 522.6 253.3 523.0 254.3 522.2 255.4 523.2 256.8 520.7 257.5 520.0 258.5 520.2 259.6 519.0 260.6 521.0 261.7 520.2 262.7 521.1 263.8 521.6 264.6 521.3 265.9 519.9 266.9 519.9 268.0 517.2 269.0 515.4 270.1 515.8 270.8 514.2 272.2 516.1 273.2 515.4 274.3 515.1 275.3 517.2 276.4 516.9 277.4 518.9 278.6 517.8 279.5 517.0 280.6 515.4 281.6 511.8 283.0 510.8 283.7 511.1 284.8 510.0 285.8 510.4 286.9 510.3 287.9 508.0 289.0 508.8 290.0 508.1 291.1 509.9 292.1 513.0 293.2 508.4 294.2 512.4 295.2 510.7 296.3 509.7 297.4 507.1 298.4 509.8 299.5 507.8 300.5 505.9 301.6 508.3 302.6 507.3 304.0 505.9 304.7 505.4 305.8 502.4 306.8 506.8 307.9 504.3 308.9 503.1 310.0 505.2 311.0 505.1 312.1 502.2 313.1 502.0 314.5 501.4 315.2 502.5 316.3 502.7 317.3 503.1 318.9 506.3 320.5 505.7 321.5 508.3 322.6 504.3 323.6 501.1 325.0 502.3 325.7 502.9 326.8 503.8 327.8 506.2 329.4 506.2 331.0 507.6 332.0 504.5 333.1 504.8 333.8 499.7 335.2 503.1 336.2 501.7 337.3 499.5 338.3 497.7 339.4 500.8 340.4 499.4 341.5 499.7 342.5 498.2 343.4 497.2 344.6 496.2 345.7 497.6 346.7 500.5 347.8 500.1 348.8 500.6 349.5 499.9 350.9 498.7 352.0 500.2 353.0 498.9 354.1 498.6 355.1 503.0 356.2 500.1 357.4 502.2 358.3 504.0 359.4 499.3 360.4 498.0 361.5 497.4 362.5 499.3 363.8 497.8 364.6 496.3 365.7 499.8 366.7 494.2 367.8 497.2 368.8 499.2 369.9 495.7 370.9 493.5 372.5 495.0 374.1 495.6 375.1 494.2 376.2 497.1 377.8 493.8 379.3 497.3 380.4 495.3 381.4 497.5 382.1 499.8 383.5 500.4 384.6 496.1 385.6 497.4 386.5 493.5 387.7 495.8 388.8 495.2 389.8 497.3 390.9 497.9 391.9 499.0 392.6 501.0 394.0 494.9 395.1 497.4 396.1 496.6 397.0 496.1 398.2 498.8 399.3 496.7 400.3 502.7 401.4 501.6 402.4 501.9 403.5 498.7 404.5 499.4 405.6 498.3 406.6 496.7 407.5 497.4 408.7 496.7 409.8 495.8 410.8 496.5 411.9 497.0 412.9 496.1 414.0 497.1 415.0 496.4 416.2 494.5 417.1 495.0 418.2 495.0 419.2 495.0 420.3 493.6 421.3 496.8 422.4 495.6 423.4 497.4 425.0 496.2 426.6 500.4 427.6 496.0 428.7 496.1 429.7 497.3 430.8 495.3 432.0 496.7 432.9 496.9 433.9 497.2 435.0 499.2 436.0 497.5 437.1 499.0 438.1 500.3 439.2 501.9 440.2 500.8 441.3 501.9 442.5 501.8 443.4 500.9 444.4 498.0 445.5 499.2 446.5 500.3 447.6 498.3 448.6 497.9 449.7 501.5 451.2 497.9 452.8 501.1 453.9 500.7 454.9 503.4 456.0 503.1 457.4 506.7 458.1 505.7 459.1 499.8 460.0 499.7 461.2 500.0 462.3 501.1 463.3 498.9 464.4 499.8 465.4 500.5 467.0 500.7 468.6 506.0 469.6 509.0 470.5 506.6 471.7 507.7 472.8 504.3 473.8 505.4 474.9 501.2 475.9 503.9 477.0 505.2 478.0 502.4 479.1 505.3 480.1 502.6 481.0 506.5 482.2 508.2 483.3 509.2 484.3 507.3 485.4 509.1 486.2 511.2 487.5 510.8 488.5 505.8 489.8 505.2 490.6 507.2 491.7 506.3 492.7 508.8 493.8 509.7 494.8 507.9 495.9 510.4 496.8 511.0 498.0 509.8 499.0 511.2 500.1 514.1 501.1 512.3 502.2 510.3 503.8 512.1 505.3 511.1 506.4 512.4 507.4 514.5 508.5 515.0 509.5 516.4 510.8 515.8 511.6 516.7 512.7 517.7 513.7 516.6 514.8 514.2 515.8 518.1 516.9 516.6 517.9 515.3 519.5 517.1 521.1 516.2 522.1 516.7 523.2 517.7 524.2 519.9 525.6 518.1 526.3 517.5 527.4 520.7 528.4 521.1 529.5 520.9 530.5 522.7 531.8 522.9 532.6 520.6 533.7 523.1 534.7 520.6 535.8 520.4 537.0 519.7 537.9 519.2 538.9 519.6 540.0 521.7 541.0 523.2 542.1 521.6 543.1 522.4 544.2 522.0 545.2 520.3 546.3 521.4 547.5 519.7 548.4 521.8 549.4 519.4 550.5 521.0 551.5 522.3 552.6 521.0 553.6 522.6 554.7 522.0 555.4 523.2 556.8 523.3 557.8 521.7 558.9 520.3"/>
<path class="cv" stroke="#1c2470" stroke-opacity="0.6" stroke-width="1" d="M156.7 559.7 157.7 559.8 158.8 559.2 159.8 558.7 160.9 558.1 161.9 556.3 163.0 556.6 164.0 556.2 165.1 555.7 166.1 554.5 167.2 555.1 168.2 554.8 169.3 554.6 170.3 555.2 171.4 554.6 172.8 554.0 173.5 553.0 174.5 553.1 175.6 552.3 176.6 551.5 177.7 551.1 178.7 551.2 179.8 548.4 180.8 548.1 181.5 548.4 182.9 548.3 184.0 546.6 185.0 547.7 186.1 547.8 187.1 548.4 188.2 546.3 189.2 547.3 190.3 546.9 191.3 546.3 192.4 546.7 193.4 545.8 194.5 545.5 195.5 545.8 196.6 544.2 197.6 544.8 198.7 544.6 199.7 544.7 200.8 542.8 201.8 543.3 202.9 543.3 203.9 542.9 205.0 541.0 206.0 541.4 207.1 540.5 208.1 540.2 209.2 540.7 210.2 537.9 211.3 539.0 212.3 540.3 213.4 538.1 214.4 537.0 215.5 537.2 216.5 536.9 217.6 535.8 218.6 537.0 219.7 535.0 220.7 535.8 221.8 535.0 222.8 535.1 223.5 535.1 224.9 535.2 226.0 532.8 227.0 532.8 228.1 531.5 229.1 533.6 230.2 531.2 231.2 528.2 232.2 528.8 233.3 530.1 234.4 529.1 235.4 528.2 236.5 529.2 237.5 529.7 238.6 527.8 239.6 525.6 241.0 523.8 241.7 525.4 242.8 525.4 243.8 524.5 244.9 524.5 245.9 525.0 247.0 526.6 248.0 525.7 248.9 525.9 250.1 525.1 251.2 524.4 252.2 522.6 253.3 523.5 254.3 522.8 255.4 523.5 256.8 521.2 257.5 520.2 258.5 520.5 259.6 519.3 260.6 521.2 261.7 520.4 262.7 521.4 263.8 521.8 264.6 521.7 265.9 520.2 266.9 520.3 268.0 517.4 269.0 515.7 270.1 515.8 270.8 514.8 272.2 516.6 273.2 515.9 274.3 515.2 275.3 517.4 276.4 517.3 277.4 519.1 278.6 518.4 279.5 517.3 280.6 515.9 281.6 512.2 283.0 510.7 283.7 511.4 284.8 510.3 285.8 510.5 286.9 510.5 287.9 508.0 289.0 508.9 290.0 508.5 291.1 510.2 292.1 513.3 293.2 508.6 294.2 512.7 295.2 510.8 296.3 510.1 297.4 507.4 298.4 510.0 299.5 508.0 300.5 506.2 301.6 508.9 302.6 507.6 304.0 506.1 304.7 505.5 305.8 502.9 306.8 507.2 307.9 504.5 308.9 503.6 310.0 505.4 311.0 505.6 312.1 502.4 313.1 502.1 314.5 501.6 315.2 502.7 316.3 503.2 317.3 503.2 318.9 506.7 320.5 506.0 321.5 508.6 322.6 504.6 323.6 501.7 325.0 502.3 325.7 503.2 326.8 504.0 327.8 506.8 329.4 506.4 331.0 507.9 332.0 504.8 333.1 505.4 333.8 500.3 335.2 503.6 336.2 501.9 337.3 500.0 338.3 498.1 339.4 501.2 340.4 499.6 341.5 500.1 342.5 498.4 343.4 497.8 344.6 496.5 345.7 498.1 346.7 500.8 347.8 500.6 348.8 501.0 349.5 500.2 350.9 499.1 352.0 500.7 353.0 499.4 354.1 498.9 355.1 503.0 356.2 500.4 357.4 502.6 358.3 504.0 359.4 499.7 360.4 498.4 361.5 498.2 362.5 499.8 363.8 498.1 364.6 496.8 365.7 500.4 366.7 494.8 367.8 497.9 368.8 499.4 369.9 496.0 370.9 494.1 372.5 495.1 374.1 495.9 375.1 494.4 376.2 497.3 377.8 494.3 379.3 497.8 380.4 495.5 381.4 498.0 382.1 500.3 383.5 500.6 384.6 496.7 385.6 497.7 386.5 494.0 387.7 495.9 388.8 495.1 389.8 497.5 390.9 498.0 391.9 499.4 392.6 501.4 394.0 495.0 395.1 497.3 396.1 496.4 397.0 496.5 398.2 499.3 399.3 497.2 400.3 503.0 401.4 502.2 402.4 502.1 403.5 499.3 404.5 500.1 405.6 498.8 406.6 497.0 407.5 497.6 408.7 497.2 409.8 496.4 410.8 496.6 411.9 497.4 412.9 496.6 414.0 497.4 415.0 496.6 416.2 494.6 417.1 495.2 418.2 495.2 419.2 495.4 420.3 493.5 421.3 497.4 422.4 496.0 423.4 498.0 425.0 496.5 426.6 500.7 427.6 496.1 428.7 496.8 429.7 497.5 430.8 495.6 432.0 497.0 432.9 497.1 433.9 497.9 435.0 499.4 436.0 497.9 437.1 499.6 438.1 500.6 439.2 502.2 440.2 501.2 441.3 501.9 442.5 502.1 443.4 501.3 444.4 498.4 445.5 499.7 446.5 500.5 447.6 498.6 448.6 498.1 449.7 501.7 451.2 498.4 452.8 501.4 453.9 501.0 454.9 503.5 456.0 503.3 457.4 507.1 458.1 506.0 459.1 500.1 460.0 499.9 461.2 500.6 462.3 501.4 463.3 499.0 464.4 500.3 465.4 500.9 467.0 501.2 468.6 506.5 469.6 509.5 470.5 507.3 471.7 508.2 472.8 504.4 473.8 505.4 474.9 501.5 475.9 503.9 477.0 505.8 478.0 502.5 479.1 505.6 480.1 502.8 481.0 507.1 482.2 508.2 483.3 509.3 484.3 507.2 485.4 509.5 486.2 511.4 487.5 511.3 488.5 506.1 489.8 505.7 490.6 507.8 491.7 507.0 492.7 509.2 493.8 510.1 494.8 508.4 495.9 510.6 496.8 511.5 498.0 510.4 499.0 511.7 500.1 514.5 501.1 512.7 502.2 510.9 503.8 512.3 505.3 511.5 506.4 512.5 507.4 514.5 508.5 515.3 509.5 516.7 510.8 516.0 511.6 517.0 512.7 517.7 513.7 516.9 514.8 514.4 515.8 518.3 516.9 516.9 517.9 515.4 519.5 517.6 521.1 516.6 522.1 516.8 523.2 517.7 524.2 520.3 525.6 518.3 526.3 517.8 527.4 521.3 528.4 521.6 529.5 521.5 530.5 522.7 531.8 523.2 532.6 520.9 533.7 523.3 534.7 521.0 535.8 520.6 537.0 519.9 537.9 519.2 538.9 519.9 540.0 522.0 541.0 523.5 542.1 522.0 543.1 522.6 544.2 522.4 545.2 520.5 546.3 521.8 547.5 520.0 548.4 522.3 549.4 519.8 550.5 521.2 551.5 522.7 552.6 521.3 553.6 522.9 554.7 522.1 555.4 523.5 556.8 523.5 557.8 522.1 558.9 520.6"/>
<path class="cv" stroke="#1a6a66" stroke-opacity="0.6" stroke-width="1" d="M156.7 559.7 157.7 559.5 158.8 558.8 159.8 558.5 160.9 558.0 161.9 556.3 163.0 556.3 164.0 556.1 165.1 555.5 166.1 554.3 167.2 555.0 168.2 554.5 169.3 554.5 170.3 555.2 171.4 554.4 172.8 554.0 173.5 553.2 174.5 552.8 175.6 552.2 176.6 551.4 177.7 551.0 178.7 551.1 179.8 548.2 180.8 548.2 181.5 548.3 182.9 547.9 184.0 546.5 185.0 547.4 186.1 547.8 187.1 548.2 188.2 546.4 189.2 547.1 190.3 546.8 191.3 546.0 192.4 546.7 193.4 545.6 194.5 545.4 195.5 545.6 196.6 543.7 197.6 545.0 198.7 544.5 199.7 544.6 200.8 542.8 201.8 543.1 202.9 543.2 203.9 542.7 205.0 540.6 206.0 541.2 207.1 540.3 208.1 540.0 209.2 540.5 210.2 537.7 211.3 538.9 212.3 540.2 213.4 538.0 214.4 537.0 215.5 537.1 216.5 536.8 217.6 535.6 218.6 536.7 219.7 534.9 220.7 535.7 221.8 535.4 222.8 535.1 223.5 535.1 224.9 535.2 226.0 532.6 227.0 532.6 228.1 531.2 229.1 533.6 230.2 530.7 231.2 527.9 232.2 528.7 233.3 530.0 234.4 528.8 235.4 528.0 236.5 529.1 237.5 529.7 238.6 527.8 239.6 525.3 241.0 523.4 241.7 525.1 242.8 525.3 243.8 524.1 244.9 524.4 245.9 524.7 247.0 526.4 248.0 525.6 248.9 525.9 250.1 524.8 251.2 524.5 252.2 522.7 253.3 523.1 254.3 522.6 255.4 523.5 256.8 520.9 257.5 520.4 258.5 520.3 259.6 519.4 260.6 521.6 261.7 520.5 262.7 521.3 263.8 521.8 264.6 521.8 265.9 520.3 266.9 520.2 268.0 517.3 269.0 515.7 270.1 516.1 270.8 514.3 272.2 516.7 273.2 515.6 274.3 515.6 275.3 517.2 276.4 517.3 277.4 519.0 278.6 518.2 279.5 517.3 280.6 515.3 281.6 511.7 283.0 510.9 283.7 511.1 284.8 510.4 285.8 510.8 286.9 510.7 287.9 508.2 289.0 509.3 290.0 508.4 291.1 510.4 292.1 513.1 293.2 508.9 294.2 512.8 295.2 511.1 296.3 510.2 297.4 507.2 298.4 509.6 299.5 508.1 300.5 506.3 301.6 508.5 302.6 507.6 304.0 506.4 304.7 505.6 305.8 502.9 306.8 507.2 307.9 505.0 308.9 503.6 310.0 505.5 311.0 505.4 312.1 502.5 313.1 502.1 314.5 501.4 315.2 502.5 316.3 503.1 317.3 503.5 318.9 506.7 320.5 505.9 321.5 508.6 322.6 504.9 323.6 501.7 325.0 502.7 325.7 503.3 326.8 503.6 327.8 506.6 329.4 506.3 331.0 507.6 332.0 504.9 333.1 504.7 333.8 499.5 335.2 503.5 336.2 502.2 337.3 499.6 338.3 498.0 339.4 501.2 340.4 499.9 341.5 499.7 342.5 498.3 343.4 497.5 344.6 496.7 345.7 497.9 346.7 500.9 347.8 500.5 348.8 501.1 349.5 500.3 350.9 498.7 352.0 500.4 353.0 499.1 354.1 498.7 355.1 503.3 356.2 500.2 357.4 502.4 358.3 504.2 359.4 500.0 360.4 498.1 361.5 497.6 362.5 499.3 363.8 498.1 364.6 496.6 365.7 499.8 366.7 494.6 367.8 497.2 368.8 499.3 369.9 495.8 370.9 493.7 372.5 495.2 374.1 495.9 375.1 494.1 376.2 497.4 377.8 494.3 379.3 497.9 380.4 495.5 381.4 497.5 382.1 500.0 383.5 500.9 384.6 496.4 385.6 497.4 386.5 493.9 387.7 495.9 388.8 495.5 389.8 497.6 390.9 498.0 391.9 499.3 392.6 501.5 394.0 495.5 395.1 497.5 396.1 496.9 397.0 496.4 398.2 499.0 399.3 497.0 400.3 503.0 401.4 501.9 402.4 502.4 403.5 498.6 404.5 499.9 405.6 498.3 406.6 497.1 407.5 497.7 408.7 497.0 409.8 496.0 410.8 496.3 411.9 497.3 412.9 496.3 414.0 497.5 415.0 496.5 416.2 494.5 417.1 495.4 418.2 495.6 419.2 495.4 420.3 493.9 421.3 497.0 422.4 496.0 423.4 497.5 425.0 496.5 426.6 500.6 427.6 495.9 428.7 496.4 429.7 497.1 430.8 495.6 432.0 497.3 432.9 497.2 433.9 497.1 435.0 499.0 436.0 497.9 437.1 498.9 438.1 500.8 439.2 502.1 440.2 501.0 441.3 502.5 442.5 501.8 443.4 500.7 444.4 498.1 445.5 499.7 446.5 500.3 447.6 498.6 448.6 497.8 449.7 501.9 451.2 498.4 452.8 501.5 453.9 501.0 454.9 503.8 456.0 503.6 457.4 507.1 458.1 505.9 459.1 499.9 460.0 499.9 461.2 500.5 462.3 501.3 463.3 499.3 464.4 500.3 465.4 500.6 467.0 501.0 468.6 506.1 469.6 509.3 470.5 507.0 471.7 508.2 472.8 504.7 473.8 505.8 474.9 501.1 475.9 504.1 477.0 505.6 478.0 502.8 479.1 505.7 480.1 503.0 481.0 507.1 482.2 508.4 483.3 509.9 484.3 507.7 485.4 509.2 486.2 511.6 487.5 511.1 488.5 505.9 489.8 505.4 490.6 507.6 491.7 506.2 492.7 508.8 493.8 510.2 494.8 508.5 495.9 510.5 496.8 511.1 498.0 510.3 499.0 511.6 500.1 514.7 501.1 512.8 502.2 510.5 503.8 512.7 505.3 511.4 506.4 512.5 507.4 514.7 508.5 515.5 509.5 516.5 510.8 516.1 511.6 517.1 512.7 517.9 513.7 516.7 514.8 514.7 515.8 518.2 516.9 516.8 517.9 515.5 519.5 517.4 521.1 516.6 522.1 517.2 523.2 517.7 524.2 520.2 525.6 518.3 526.3 517.8 527.4 521.0 528.4 521.4 529.5 521.0 530.5 522.9 531.8 523.1 532.6 520.7 533.7 523.4 534.7 520.5 535.8 520.5 537.0 520.1 537.9 519.5 538.9 520.1 540.0 521.9 541.0 523.7 542.1 522.0 543.1 522.3 544.2 522.1 545.2 520.7 546.3 521.5 547.5 519.9 548.4 522.1 549.4 519.7 550.5 521.3 551.5 522.7 552.6 521.2 553.6 522.9 554.7 522.2 555.4 523.6 556.8 523.6 557.8 521.7 558.9 520.6"/>
<path class="cv" stroke="#8c1616" stroke-opacity="0.6" stroke-width="1" d="M156.7 559.3 157.7 559.2 158.8 558.6 159.8 558.2 160.9 557.6 161.9 556.0 163.0 556.0 164.0 555.7 165.1 555.2 166.1 554.0 167.2 554.7 168.2 554.3 169.3 554.1 170.3 554.8 171.4 554.0 172.8 553.7 173.5 552.6 174.5 552.5 175.6 551.9 176.6 551.1 177.7 550.6 178.7 550.7 179.8 547.9 180.8 547.7 181.5 548.0 182.9 547.7 184.0 546.3 185.0 547.1 186.1 547.3 187.1 547.9 188.2 546.1 189.2 546.6 190.3 546.3 191.3 545.6 192.4 546.3 193.4 545.4 194.5 545.0 195.5 545.3 196.6 543.4 197.6 544.6 198.7 544.0 199.7 544.3 200.8 542.3 201.8 542.8 202.9 542.9 203.9 542.5 205.0 540.5 206.0 540.9 207.1 540.1 208.1 539.6 209.2 540.3 210.2 537.4 211.3 538.6 212.3 539.7 213.4 537.5 214.4 536.5 215.5 536.9 216.5 536.4 217.6 535.2 218.6 536.5 219.7 534.6 220.7 535.4 221.8 534.7 222.8 534.7 223.5 534.7 224.9 534.8 226.0 532.2 227.0 532.2 228.1 531.0 229.1 533.3 230.2 530.5 231.2 527.7 232.2 528.3 233.3 529.4 234.4 528.5 235.4 527.7 236.5 529.2 237.5 529.4 238.6 527.4 239.6 525.0 241.0 523.3 241.7 524.9 242.8 525.0 243.8 523.8 244.9 524.1 245.9 524.4 247.0 526.1 248.0 525.3 248.9 525.5 250.1 524.7 251.2 523.8 252.2 522.5 253.3 523.0 254.3 522.2 255.4 523.0 256.8 520.6 257.5 519.8 258.5 520.0 259.6 518.9 260.6 521.0 261.7 520.1 262.7 520.9 263.8 521.5 264.6 521.3 265.9 519.8 266.9 519.7 268.0 517.0 269.0 515.4 270.1 515.8 270.8 514.3 272.2 516.0 273.2 515.2 274.3 514.9 275.3 517.1 276.4 516.9 277.4 518.9 278.6 517.6 279.5 517.0 280.6 515.4 281.6 511.7 283.0 510.6 283.7 511.0 284.8 509.8 285.8 510.2 286.9 510.2 287.9 507.9 289.0 508.8 290.0 507.9 291.1 509.9 292.1 512.8 293.2 508.3 294.2 512.1 295.2 510.8 296.3 509.7 297.4 506.9 298.4 509.7 299.5 507.6 300.5 505.9 301.6 508.2 302.6 507.0 304.0 505.7 304.7 505.4 305.8 502.3 306.8 506.6 307.9 504.3 308.9 503.1 310.0 505.2 311.0 505.0 312.1 502.3 313.1 501.7 314.5 501.0 315.2 502.5 316.3 502.6 317.3 503.1 318.9 506.1 320.5 505.6 321.5 508.3 322.6 504.3 323.6 500.8 325.0 502.3 325.7 503.0 326.8 503.6 327.8 506.1 329.4 506.1 331.0 507.6 332.0 504.4 333.1 504.6 333.8 500.0 335.2 503.0 336.2 501.5 337.3 499.7 338.3 497.6 339.4 500.9 340.4 499.2 341.5 499.9 342.5 498.2 343.4 497.0 344.6 495.9 345.7 497.3 346.7 500.3 347.8 500.1 348.8 500.4 349.5 499.8 350.9 498.7 352.0 499.9 353.0 499.0 354.1 498.5 355.1 502.8 356.2 500.0 357.4 502.1 358.3 503.8 359.4 499.4 360.4 498.0 361.5 497.3 362.5 499.3 363.8 497.7 364.6 496.2 365.7 499.7 366.7 494.0 367.8 497.2 368.8 499.2 369.9 495.7 370.9 493.2 372.5 494.9 374.1 495.3 375.1 494.0 376.2 496.9 377.8 493.7 379.3 497.4 380.4 495.1 381.4 497.8 382.1 499.9 383.5 500.3 384.6 495.9 385.6 497.3 386.5 493.1 387.7 495.5 388.8 495.2 389.8 497.2 390.9 497.8 391.9 498.9 392.6 501.0 394.0 494.8 395.1 497.4 396.1 496.3 397.0 495.9 398.2 499.1 399.3 496.6 400.3 502.8 401.4 501.5 402.4 501.8 403.5 498.7 404.5 499.4 405.6 498.2 406.6 496.7 407.5 497.3 408.7 496.7 409.8 495.7 410.8 496.3 411.9 496.9 412.9 496.1 414.0 496.7 415.0 496.3 416.2 494.6 417.1 495.0 418.2 494.7 419.2 495.2 420.3 493.7 421.3 496.7 422.4 495.6 423.4 497.6 425.0 496.2 426.6 500.2 427.6 496.0 428.7 496.0 429.7 497.1 430.8 495.3 432.0 496.8 432.9 496.9 433.9 497.3 435.0 499.2 436.0 497.4 437.1 499.0 438.1 500.2 439.2 501.8 440.2 500.7 441.3 502.0 442.5 501.5 443.4 500.9 444.4 497.8 445.5 499.2 446.5 500.1 447.6 498.3 448.6 497.7 449.7 501.4 451.2 497.8 452.8 501.2 453.9 500.6 454.9 503.4 456.0 503.1 457.4 506.6 458.1 505.6 459.1 499.4 460.0 499.5 461.2 500.1 462.3 501.0 463.3 499.2 464.4 499.7 465.4 500.2 467.0 500.4 468.6 505.8 469.6 509.1 470.5 506.3 471.7 507.7 472.8 504.1 473.8 505.2 474.9 501.2 475.9 503.8 477.0 505.0 478.0 502.4 479.1 505.2 480.1 502.4 481.0 506.4 482.2 508.2 483.3 509.1 484.3 506.9 485.4 508.9 486.2 511.1 487.5 510.8 488.5 505.7 489.8 505.2 490.6 507.0 491.7 506.5 492.7 508.8 493.8 509.6 494.8 507.8 495.9 510.5 496.8 510.8 498.0 509.7 499.0 511.1 500.1 514.0 501.1 512.3 502.2 510.1 503.8 512.2 505.3 511.0 506.4 512.2 507.4 514.6 508.5 514.9 509.5 516.3 510.8 515.5 511.6 516.5 512.7 517.8 513.7 516.6 514.8 514.2 515.8 518.0 516.9 516.5 517.9 515.2 519.5 517.2 521.1 516.4 522.1 516.4 523.2 517.8 524.2 519.8 525.6 517.9 526.3 517.5 527.4 520.5 528.4 520.8 529.5 520.8 530.5 522.6 531.8 522.8 532.6 520.5 533.7 523.0 534.7 520.4 535.8 520.3 537.0 519.6 537.9 519.1 538.9 519.5 540.0 521.6 541.0 523.2 542.1 521.5 543.1 522.1 544.2 522.0 545.2 520.1 546.3 521.3 547.5 519.6 548.4 521.8 549.4 519.3 550.5 521.1 551.5 522.3 552.6 520.9 553.6 522.5 554.7 521.9 555.4 523.0 556.8 523.3 557.8 521.7 558.9 520.2"/>
<path class="cv " stroke="#52100e" stroke-width="1" d="M156.7 559.5 157.7 559.3 158.8 558.7 159.8 558.3 160.9 557.7 161.9 556.1 163.0 556.1 164.0 555.9 165.1 555.3 166.1 554.0 167.2 554.8 168.2 554.4 169.3 554.3 170.3 554.8 171.4 554.2 172.8 553.9 173.5 552.8 174.5 552.6 175.6 551.9 176.6 551.2 177.7 550.7 178.7 550.8 179.8 548.0 180.8 547.9 181.5 548.0 182.9 547.8 184.0 546.3 185.0 547.2 186.1 547.4 187.1 547.9 188.2 546.1 189.2 546.8 190.3 546.4 191.3 545.8 192.4 546.4 193.4 545.4 194.5 545.1 195.5 545.3 196.6 543.5 197.6 544.7 198.7 544.1 199.7 544.4 200.8 542.5 201.8 542.9 202.9 543.0 203.9 542.6 205.0 540.6 206.0 541.0 207.1 540.1 208.1 539.8 209.2 540.3 210.2 537.5 211.3 538.7 212.3 539.8 213.4 537.6 214.4 536.7 215.5 536.9 216.5 536.6 217.6 535.4 218.6 536.5 219.7 534.7 220.7 535.5 221.8 534.7 222.8 534.8 223.5 534.8 224.9 534.9 226.0 532.4 227.0 532.4 228.1 531.1 229.1 533.4 230.2 530.6 231.2 527.7 232.2 528.4 233.3 529.6 234.4 528.6 235.4 527.9 236.5 529.1 237.5 529.4 238.6 527.5 239.6 525.1 241.0 523.2 241.7 524.9 242.8 525.1 243.8 524.0 244.9 524.2 245.9 524.4 247.0 526.1 248.0 525.4 248.9 525.6 250.1 524.8 251.2 524.1 252.2 522.6 253.3 523.0 254.3 522.2 255.4 523.2 256.8 520.7 257.5 520.0 258.5 520.2 259.6 519.0 260.6 521.0 261.7 520.2 262.7 521.1 263.8 521.6 264.6 521.3 265.9 519.9 266.9 519.9 268.0 517.2 269.0 515.4 270.1 515.8 270.8 514.2 272.2 516.1 273.2 515.4 274.3 515.1 275.3 517.2 276.4 516.9 277.4 518.9 278.6 517.8 279.5 517.0 280.6 515.4 281.6 511.8 283.0 510.8 283.7 511.1 284.8 510.0 285.8 510.4 286.9 510.3 287.9 508.0 289.0 508.8 290.0 508.1 291.1 509.9 292.1 513.0 293.2 508.4 294.2 512.4 295.2 510.7 296.3 509.7 297.4 507.1 298.4 509.8 299.5 507.8 300.5 505.9 301.6 508.3 302.6 507.3 304.0 505.9 304.7 505.4 305.8 502.4 306.8 506.8 307.9 504.3 308.9 503.1 310.0 505.2 311.0 505.1 312.1 502.2 313.1 502.0 314.5 501.4 315.2 502.5 316.3 502.7 317.3 503.1 318.9 506.3 320.5 505.7 321.5 508.3 322.6 504.3 323.6 501.1 325.0 502.3 325.7 502.9 326.8 503.8 327.8 506.2 329.4 506.2 331.0 507.6 332.0 504.5 333.1 504.8 333.8 499.7 335.2 503.1 336.2 501.7 337.3 499.5 338.3 497.7 339.4 500.8 340.4 499.4 341.5 499.7 342.5 498.2 343.4 497.2 344.6 496.2 345.7 497.6 346.7 500.5 347.8 500.1 348.8 500.6 349.5 499.9 350.9 498.7 352.0 500.2 353.0 498.9 354.1 498.6 355.1 503.0 356.2 500.1 357.4 502.2 358.3 504.0 359.4 499.3 360.4 498.0 361.5 497.4 362.5 499.3 363.8 497.8 364.6 496.3 365.7 499.8 366.7 494.2 367.8 497.2 368.8 499.2 369.9 495.7 370.9 493.5 372.5 495.0 374.1 495.6 375.1 494.2 376.2 497.1 377.8 493.8 379.3 497.3 380.4 495.3 381.4 497.5 382.1 499.8 383.5 500.4 384.6 496.1 385.6 497.4 386.5 493.5 387.7 495.8 388.8 495.2 389.8 497.3 390.9 497.9 391.9 499.0 392.6 501.0 394.0 494.9 395.1 497.4 396.1 496.6 397.0 496.1 398.2 498.8 399.3 496.7 400.3 502.7 401.4 501.6 402.4 501.9 403.5 498.7 404.5 499.4 405.6 498.3 406.6 496.7 407.5 497.4 408.7 496.7 409.8 495.8 410.8 496.5 411.9 497.0 412.9 496.1 414.0 497.1 415.0 496.4 416.2 494.5 417.1 495.0 418.2 495.0 419.2 495.0 420.3 493.6 421.3 496.8 422.4 495.6 423.4 497.4 425.0 496.2 426.6 500.4 427.6 496.0 428.7 496.1 429.7 497.3 430.8 495.3 432.0 496.7 432.9 496.9 433.9 497.2 435.0 499.2 436.0 497.5 437.1 499.0 438.1 500.3 439.2 501.9 440.2 500.8 441.3 501.9 442.5 501.8 443.4 500.9 444.4 498.0 445.5 499.2 446.5 500.3 447.6 498.3 448.6 497.9 449.7 501.5 451.2 497.9 452.8 501.1 453.9 500.7 454.9 503.4 456.0 503.1 457.4 506.7 458.1 505.7 459.1 499.8 460.0 499.7 461.2 500.0 462.3 501.1 463.3 498.9 464.4 499.8 465.4 500.5 467.0 500.7 468.6 506.0 469.6 509.0 470.5 506.6 471.7 507.7 472.8 504.3 473.8 505.4 474.9 501.2 475.9 503.9 477.0 505.2 478.0 502.4 479.1 505.3 480.1 502.6 481.0 506.5 482.2 508.2 483.3 509.2 484.3 507.3 485.4 509.1 486.2 511.2 487.5 510.8 488.5 505.8 489.8 505.2 490.6 507.2 491.7 506.3 492.7 508.8 493.8 509.7 494.8 507.9 495.9 510.4 496.8 511.0 498.0 509.8 499.0 511.2 500.1 514.1 501.1 512.3 502.2 510.3 503.8 512.1 505.3 511.1 506.4 512.4 507.4 514.5 508.5 515.0 509.5 516.4 510.8 515.8 511.6 516.7 512.7 517.7 513.7 516.6 514.8 514.2 515.8 518.1 516.9 516.6 517.9 515.3 519.5 517.1 521.1 516.2 522.1 516.7 523.2 517.7 524.2 519.9 525.6 518.1 526.3 517.5 527.4 520.7 528.4 521.1 529.5 520.9 530.5 522.7 531.8 522.9 532.6 520.6 533.7 523.1 534.7 520.6 535.8 520.4 537.0 519.7 537.9 519.2 538.9 519.6 540.0 521.7 541.0 523.2 542.1 521.6 543.1 522.4 544.2 522.0 545.2 520.3 546.3 521.4 547.5 519.7 548.4 521.8 549.4 519.4 550.5 521.0 551.5 522.3 552.6 521.0 553.6 522.6 554.7 522.0 555.4 523.2 556.8 523.3 557.8 521.7 558.9 520.3"/>
<path class="ax" d="M156.5 493V560.5H559"/>
<path class="ax" d="M238.5 560v-5"/>
<path class="ax" d="M332.5 560v-5"/>
<path class="ax" d="M426.5 560v-5"/>
<path class="ax" d="M521.5 560v-5"/>
<path class="ax" d="M157 514.5h5"/>
<path class="ax" d="M157 548.5h5"/>
<text transform="translate(238.50 596.00) scale(0.975 1.07)" text-anchor="middle" font-size="24.0">2485</text>
<text transform="translate(331.50 596.00) scale(0.975 1.07)" text-anchor="middle" font-size="24.0">2490</text>
<text transform="translate(426.50 596.00) scale(0.975 1.07)" text-anchor="middle" font-size="24.0">2495</text>
<text transform="translate(520.50 596.00) scale(0.975 1.07)" text-anchor="middle" font-size="24.0">2500</text>
<text transform="translate(149.50 526.00) scale(0.975 1.07)" text-anchor="end" font-size="24.0">40</text>
<text transform="translate(149.50 560.00) scale(0.975 1.07)" text-anchor="end" font-size="24.0">20</text>
<text transform="translate(328.30 473.00) scale(1.03 1.115)" text-anchor="start" font-size="24.0">Bin 5</text>
<text transform="translate(110.00 528.30) rotate(-90) scale(1.02 1.14)" text-anchor="middle" font-size="24.0">ADU</text>
<text transform="translate(250.00 633.20) scale(1.013 1.09)" text-anchor="start" font-size="24.0">Wavenumber [cm</text>
<text transform="translate(440.00 621.20) scale(1.0 1.0)" text-anchor="start" font-size="18.0">-1</text>
<text transform="translate(456.50 633.20) scale(1.0 1.09)" text-anchor="start" font-size="24.0">]</text>
</g>
<g id="bin6">
<path class="gr" d="M766.5 556V493"/>
<path class="gr" d="M860.5 556V493"/>
<path class="gr" d="M955.5 555V493"/>
<path class="gr" d="M1049.5 557V493"/>
<path class="gr" d="M684 510.5H1087"/>
<path class="gr" d="M684 529.5H1087"/>
<path class="gr" d="M684 547.5H1087"/>
<path class="cv" stroke="#6fe6f0" stroke-opacity="0.4" stroke-width="1.8" transform="translate(0.3 1.3)" d="M684.6 559.2 685.7 558.9 686.8 558.5 687.8 557.3 688.9 556.7 689.9 556.6 691.0 555.9 692.0 555.9 693.1 555.7 694.1 555.2 695.2 554.8 696.2 554.8 697.3 554.3 698.3 553.9 699.4 554.5 700.8 554.0 701.5 552.5 702.5 552.6 703.6 552.4 704.6 550.3 705.7 550.9 706.7 550.3 707.8 548.6 708.8 548.1 709.5 547.9 710.9 549.5 712.0 547.8 713.0 547.8 714.1 547.5 715.1 548.7 716.5 548.8 717.2 547.3 718.3 547.0 719.3 548.8 720.4 546.9 721.4 545.8 722.5 546.1 723.5 545.9 724.6 544.6 725.6 545.7 727.0 543.8 727.7 543.2 728.8 543.3 729.8 543.3 730.9 541.2 731.9 541.2 733.0 541.3 734.0 539.9 735.1 540.2 735.8 539.1 737.2 538.5 738.2 539.0 739.3 537.7 740.3 537.9 741.4 536.0 742.4 534.5 743.5 536.6 744.5 534.8 745.6 534.5 746.6 535.6 747.7 535.6 748.7 532.9 749.8 534.5 750.8 534.4 751.9 534.1 753.2 533.6 754.0 533.3 755.0 531.9 756.1 534.7 757.1 532.2 758.2 534.1 759.2 531.4 760.3 530.2 761.3 530.2 762.0 530.7 763.4 531.0 764.5 527.2 765.5 527.6 766.6 526.5 767.6 526.9 768.7 523.5 769.7 524.2 770.8 523.3 771.8 524.3 772.9 521.6 773.9 522.6 775.0 521.5 776.0 523.5 777.1 525.8 777.8 525.6 779.2 523.9 780.2 523.4 781.3 523.6 782.3 523.7 783.4 521.6 784.4 520.1 785.5 518.9 786.5 516.9 787.6 518.7 788.2 518.7 789.7 520.2 790.7 521.7 791.8 523.1 792.6 522.8 793.9 520.2 794.9 516.9 796.0 515.1 797.0 513.4 798.1 511.2 799.1 511.5 800.2 512.3 801.2 513.4 802.3 513.4 803.3 514.6 804.0 512.9 805.4 512.5 806.5 514.5 807.5 516.0 808.6 515.9 809.2 516.4 810.7 514.2 811.7 514.0 812.8 511.8 813.8 508.6 814.9 509.4 815.9 507.8 817.0 507.0 818.0 506.2 819.1 510.4 820.1 507.2 821.5 511.2 822.2 508.7 823.3 507.9 824.3 509.7 825.4 506.5 826.8 506.6 828.0 511.5 829.6 510.4 830.6 508.8 831.7 508.7 832.7 506.4 833.8 503.1 834.8 506.5 835.5 504.8 836.9 505.1 838.0 504.1 839.0 506.0 840.1 505.0 841.6 507.3 842.2 504.7 843.2 507.1 844.3 502.9 845.3 502.9 846.0 502.1 847.4 500.7 848.5 500.2 849.5 498.4 850.6 506.2 851.6 504.8 853.0 502.2 853.7 500.5 854.8 503.6 855.8 504.3 856.9 505.2 857.9 505.4 859.0 508.1 860.0 509.0 861.1 506.7 861.8 507.5 863.2 505.5 864.2 505.1 865.3 503.3 866.3 503.2 867.4 503.5 868.4 500.5 869.5 498.7 870.5 498.3 871.6 494.5 872.2 495.9 873.7 496.8 874.7 503.4 875.8 501.4 876.6 504.1 877.9 503.2 878.9 499.3 880.0 497.5 881.0 501.0 882.1 500.1 883.1 503.3 884.2 503.9 885.2 501.5 886.3 500.7 887.4 501.3 888.4 503.5 890.0 500.9 891.6 499.0 892.6 494.6 893.7 497.8 894.7 493.6 895.8 498.7 896.8 494.5 897.9 496.2 898.8 499.9 900.0 499.8 901.0 496.2 902.1 496.9 903.1 498.9 904.2 497.4 905.8 497.5 907.3 496.4 908.4 496.9 909.4 496.2 910.5 494.6 911.5 497.5 912.6 495.7 913.6 493.5 914.5 495.8 915.7 498.1 916.8 499.6 917.8 500.4 918.9 502.8 919.8 501.0 921.0 497.0 922.0 498.3 923.1 495.6 924.1 494.4 925.2 497.3 926.2 495.2 927.3 494.6 928.3 498.4 929.4 495.5 930.4 501.5 932.0 501.6 933.6 499.2 934.6 495.7 935.5 495.7 936.7 499.2 937.8 501.3 938.6 504.2 939.9 500.2 940.8 495.8 942.0 493.5 943.0 494.4 944.1 495.6 945.1 493.5 946.0 493.5 947.2 494.6 948.3 498.7 949.3 497.8 950.4 499.9 951.4 500.2 952.5 502.0 953.9 502.4 954.6 501.1 955.6 500.2 956.7 501.7 957.7 497.9 958.8 499.2 959.8 497.3 960.9 497.5 961.9 498.8 963.0 496.8 964.0 497.3 965.1 499.6 966.1 497.5 967.2 497.6 968.2 503.3 969.3 499.0 970.5 500.0 971.4 499.5 972.4 503.6 973.5 502.7 974.9 503.0 975.6 502.0 976.6 503.8 977.7 500.0 978.7 501.8 979.8 500.4 981.0 498.0 981.9 500.7 982.9 502.9 984.0 504.4 985.0 506.0 986.1 507.7 987.1 508.5 988.2 504.6 989.2 506.3 990.3 506.9 991.3 503.8 992.4 502.2 993.4 499.3 995.0 499.8 996.6 501.3 997.6 500.6 998.7 502.4 1000.2 506.0 1001.8 504.4 1002.9 505.1 1003.9 507.5 1005.0 506.6 1006.0 503.9 1007.1 505.7 1008.1 505.8 1009.0 505.8 1010.2 505.9 1011.3 508.5 1012.3 506.9 1013.4 510.4 1014.2 510.9 1015.5 510.7 1016.5 511.4 1017.6 508.3 1018.6 510.9 1019.7 512.6 1020.7 513.1 1021.8 511.3 1023.0 512.6 1023.9 512.0 1024.9 510.7 1026.5 510.1 1028.1 511.0 1029.1 514.5 1030.2 509.7 1031.2 513.6 1032.3 514.0 1033.3 514.7 1034.4 513.5 1035.2 514.8 1036.5 513.5 1037.5 517.0 1038.6 517.5 1039.6 516.5 1040.5 518.5 1041.7 514.7 1043.1 515.7 1043.8 515.1 1044.9 517.9 1045.9 523.5 1046.6 523.8 1048.0 521.2 1049.1 519.0 1050.1 518.1 1051.2 518.2 1052.2 519.0 1053.3 519.9 1054.3 519.8 1055.4 521.6 1056.4 521.8 1058.0 520.7 1059.6 523.6 1060.6 520.3 1061.7 523.1 1062.7 522.9 1063.8 522.8 1064.8 524.7 1065.9 524.4 1066.9 522.8 1068.5 525.0 1070.1 526.6 1071.1 525.3 1072.2 525.4 1073.2 524.5 1074.3 525.2 1075.3 523.2 1076.4 523.5 1077.2 522.5 1078.5 521.2 1079.5 523.6 1080.6 525.4 1081.6 525.7 1082.5 526.0 1083.7 525.8 1084.8 522.3 1085.8 522.6 1086.9 521.7"/>
<path class="cv" stroke="#ffa040" stroke-opacity="0.33" stroke-width="1.4" transform="translate(-0.3 -1.0)" d="M684.6 559.2 685.7 558.9 686.8 558.5 687.8 557.3 688.9 556.7 689.9 556.6 691.0 555.9 692.0 555.9 693.1 555.7 694.1 555.2 695.2 554.8 696.2 554.8 697.3 554.3 698.3 553.9 699.4 554.5 700.8 554.0 701.5 552.5 702.5 552.6 703.6 552.4 704.6 550.3 705.7 550.9 706.7 550.3 707.8 548.6 708.8 548.1 709.5 547.9 710.9 549.5 712.0 547.8 713.0 547.8 714.1 547.5 715.1 548.7 716.5 548.8 717.2 547.3 718.3 547.0 719.3 548.8 720.4 546.9 721.4 545.8 722.5 546.1 723.5 545.9 724.6 544.6 725.6 545.7 727.0 543.8 727.7 543.2 728.8 543.3 729.8 543.3 730.9 541.2 731.9 541.2 733.0 541.3 734.0 539.9 735.1 540.2 735.8 539.1 737.2 538.5 738.2 539.0 739.3 537.7 740.3 537.9 741.4 536.0 742.4 534.5 743.5 536.6 744.5 534.8 745.6 534.5 746.6 535.6 747.7 535.6 748.7 532.9 749.8 534.5 750.8 534.4 751.9 534.1 753.2 533.6 754.0 533.3 755.0 531.9 756.1 534.7 757.1 532.2 758.2 534.1 759.2 531.4 760.3 530.2 761.3 530.2 762.0 530.7 763.4 531.0 764.5 527.2 765.5 527.6 766.6 526.5 767.6 526.9 768.7 523.5 769.7 524.2 770.8 523.3 771.8 524.3 772.9 521.6 773.9 522.6 775.0 521.5 776.0 523.5 777.1 525.8 777.8 525.6 779.2 523.9 780.2 523.4 781.3 523.6 782.3 523.7 783.4 521.6 784.4 520.1 785.5 518.9 786.5 516.9 787.6 518.7 788.2 518.7 789.7 520.2 790.7 521.7 791.8 523.1 792.6 522.8 793.9 520.2 794.9 516.9 796.0 515.1 797.0 513.4 798.1 511.2 799.1 511.5 800.2 512.3 801.2 513.4 802.3 513.4 803.3 514.6 804.0 512.9 805.4 512.5 806.5 514.5 807.5 516.0 808.6 515.9 809.2 516.4 810.7 514.2 811.7 514.0 812.8 511.8 813.8 508.6 814.9 509.4 815.9 507.8 817.0 507.0 818.0 506.2 819.1 510.4 820.1 507.2 821.5 511.2 822.2 508.7 823.3 507.9 824.3 509.7 825.4 506.5 826.8 506.6 828.0 511.5 829.6 510.4 830.6 508.8 831.7 508.7 832.7 506.4 833.8 503.1 834.8 506.5 835.5 504.8 836.9 505.1 838.0 504.1 839.0 506.0 840.1 505.0 841.6 507.3 842.2 504.7 843.2 507.1 844.3 502.9 845.3 502.9 846.0 502.1 847.4 500.7 848.5 500.2 849.5 498.4 850.6 506.2 851.6 504.8 853.0 502.2 853.7 500.5 854.8 503.6 855.8 504.3 856.9 505.2 857.9 505.4 859.0 508.1 860.0 509.0 861.1 506.7 861.8 507.5 863.2 505.5 864.2 505.1 865.3 503.3 866.3 503.2 867.4 503.5 868.4 500.5 869.5 498.7 870.5 498.3 871.6 494.5 872.2 495.9 873.7 496.8 874.7 503.4 875.8 501.4 876.6 504.1 877.9 503.2 878.9 499.3 880.0 497.5 881.0 501.0 882.1 500.1 883.1 503.3 884.2 503.9 885.2 501.5 886.3 500.7 887.4 501.3 888.4 503.5 890.0 500.9 891.6 499.0 892.6 494.6 893.7 497.8 894.7 493.6 895.8 498.7 896.8 494.5 897.9 496.2 898.8 499.9 900.0 499.8 901.0 496.2 902.1 496.9 903.1 498.9 904.2 497.4 905.8 497.5 907.3 496.4 908.4 496.9 909.4 496.2 910.5 494.6 911.5 497.5 912.6 495.7 913.6 493.5 914.5 495.8 915.7 498.1 916.8 499.6 917.8 500.4 918.9 502.8 919.8 501.0 921.0 497.0 922.0 498.3 923.1 495.6 924.1 494.4 925.2 497.3 926.2 495.2 927.3 494.6 928.3 498.4 929.4 495.5 930.4 501.5 932.0 501.6 933.6 499.2 934.6 495.7 935.5 495.7 936.7 499.2 937.8 501.3 938.6 504.2 939.9 500.2 940.8 495.8 942.0 493.5 943.0 494.4 944.1 495.6 945.1 493.5 946.0 493.5 947.2 494.6 948.3 498.7 949.3 497.8 950.4 499.9 951.4 500.2 952.5 502.0 953.9 502.4 954.6 501.1 955.6 500.2 956.7 501.7 957.7 497.9 958.8 499.2 959.8 497.3 960.9 497.5 961.9 498.8 963.0 496.8 964.0 497.3 965.1 499.6 966.1 497.5 967.2 497.6 968.2 503.3 969.3 499.0 970.5 500.0 971.4 499.5 972.4 503.6 973.5 502.7 974.9 503.0 975.6 502.0 976.6 503.8 977.7 500.0 978.7 501.8 979.8 500.4 981.0 498.0 981.9 500.7 982.9 502.9 984.0 504.4 985.0 506.0 986.1 507.7 987.1 508.5 988.2 504.6 989.2 506.3 990.3 506.9 991.3 503.8 992.4 502.2 993.4 499.3 995.0 499.8 996.6 501.3 997.6 500.6 998.7 502.4 1000.2 506.0 1001.8 504.4 1002.9 505.1 1003.9 507.5 1005.0 506.6 1006.0 503.9 1007.1 505.7 1008.1 505.8 1009.0 505.8 1010.2 505.9 1011.3 508.5 1012.3 506.9 1013.4 510.4 1014.2 510.9 1015.5 510.7 1016.5 511.4 1017.6 508.3 1018.6 510.9 1019.7 512.6 1020.7 513.1 1021.8 511.3 1023.0 512.6 1023.9 512.0 1024.9 510.7 1026.5 510.1 1028.1 511.0 1029.1 514.5 1030.2 509.7 1031.2 513.6 1032.3 514.0 1033.3 514.7 1034.4 513.5 1035.2 514.8 1036.5 513.5 1037.5 517.0 1038.6 517.5 1039.6 516.5 1040.5 518.5 1041.7 514.7 1043.1 515.7 1043.8 515.1 1044.9 517.9 1045.9 523.5 1046.6 523.8 1048.0 521.2 1049.1 519.0 1050.1 518.1 1051.2 518.2 1052.2 519.0 1053.3 519.9 1054.3 519.8 1055.4 521.6 1056.4 521.8 1058.0 520.7 1059.6 523.6 1060.6 520.3 1061.7 523.1 1062.7 522.9 1063.8 522.8 1064.8 524.7 1065.9 524.4 1066.9 522.8 1068.5 525.0 1070.1 526.6 1071.1 525.3 1072.2 525.4 1073.2 524.5 1074.3 525.2 1075.3 523.2 1076.4 523.5 1077.2 522.5 1078.5 521.2 1079.5 523.6 1080.6 525.4 1081.6 525.7 1082.5 526.0 1083.7 525.8 1084.8 522.3 1085.8 522.6 1086.9 521.7"/>
<path class="cv" stroke="#1c2470" stroke-opacity="0.6" stroke-width="1" d="M684.6 559.6 685.7 559.3 686.8 558.9 687.8 557.8 688.9 557.0 689.9 556.9 691.0 556.2 692.0 556.3 693.1 556.1 694.1 555.6 695.2 555.0 696.2 555.2 697.3 554.5 698.3 554.2 699.4 554.8 700.8 554.4 701.5 552.9 702.5 552.8 703.6 552.7 704.6 550.7 705.7 551.2 706.7 550.6 707.8 549.0 708.8 548.3 709.5 548.2 710.9 549.9 712.0 548.1 713.0 548.2 714.1 548.0 715.1 549.2 716.5 549.2 717.2 547.6 718.3 547.4 719.3 549.1 720.4 547.4 721.4 546.2 722.5 546.3 723.5 546.1 724.6 545.0 725.6 546.0 727.0 544.1 727.7 543.4 728.8 543.8 729.8 543.6 730.9 541.4 731.9 541.5 733.0 541.8 734.0 540.4 735.1 540.5 735.8 539.4 737.2 538.7 738.2 539.3 739.3 538.2 740.3 538.4 741.4 536.5 742.4 534.9 743.5 537.1 744.5 535.2 745.6 534.9 746.6 535.6 747.7 536.0 748.7 533.2 749.8 535.0 750.8 534.8 751.9 534.5 753.2 534.0 754.0 533.8 755.0 532.3 756.1 535.2 757.1 532.8 758.2 534.5 759.2 531.9 760.3 530.5 761.3 530.6 762.0 531.3 763.4 531.3 764.5 527.6 765.5 528.0 766.6 526.8 767.6 526.8 768.7 524.1 769.7 524.4 770.8 523.6 771.8 524.8 772.9 521.6 773.9 523.0 775.0 521.8 776.0 523.6 777.1 526.2 777.8 525.8 779.2 524.2 780.2 523.7 781.3 524.0 782.3 524.4 783.4 521.8 784.4 520.5 785.5 519.1 786.5 517.2 787.6 518.7 788.2 518.9 789.7 520.5 790.7 522.1 791.8 523.5 792.6 523.3 793.9 520.6 794.9 517.0 796.0 515.6 797.0 513.7 798.1 511.6 799.1 511.9 800.2 512.7 801.2 513.9 802.3 513.4 803.3 515.3 804.0 513.3 805.4 513.1 806.5 514.9 807.5 516.4 808.6 516.1 809.2 516.6 810.7 514.2 811.7 514.4 812.8 512.4 813.8 508.6 814.9 509.6 815.9 508.1 817.0 507.6 818.0 506.8 819.1 510.8 820.1 507.6 821.5 511.5 822.2 508.9 823.3 508.2 824.3 510.0 825.4 506.8 826.8 507.0 828.0 511.8 829.6 510.9 830.6 509.2 831.7 509.2 832.7 506.5 833.8 503.3 834.8 506.8 835.5 505.2 836.9 505.4 838.0 504.7 839.0 506.3 840.1 505.6 841.6 507.9 842.2 505.2 843.2 507.5 844.3 503.4 845.3 503.2 846.0 502.2 847.4 500.9 848.5 500.5 849.5 498.7 850.6 506.4 851.6 505.0 853.0 502.6 853.7 501.2 854.8 503.8 855.8 504.3 856.9 505.4 857.9 505.5 859.0 508.2 860.0 509.2 861.1 507.0 861.8 507.9 863.2 506.3 864.2 505.3 865.3 503.4 866.3 503.6 867.4 503.8 868.4 501.2 869.5 499.3 870.5 498.5 871.6 494.4 872.2 496.4 873.7 497.0 874.7 504.0 875.8 501.7 876.6 504.4 877.9 503.3 878.9 499.7 880.0 498.1 881.0 501.2 882.1 500.5 883.1 503.5 884.2 504.5 885.2 501.9 886.3 501.2 887.4 501.7 888.4 503.6 890.0 501.0 891.6 499.6 892.6 494.8 893.7 497.9 894.7 493.8 895.8 499.4 896.8 494.9 897.9 496.8 898.8 499.8 900.0 500.6 901.0 496.6 902.1 497.5 903.1 499.2 904.2 497.8 905.8 498.1 907.3 497.2 908.4 497.3 909.4 496.4 910.5 495.1 911.5 498.3 912.6 495.8 913.6 493.7 914.5 496.3 915.7 498.4 916.8 499.4 917.8 500.8 918.9 503.2 919.8 501.5 921.0 497.6 922.0 498.3 923.1 495.8 924.1 494.7 925.2 497.7 926.2 495.3 927.3 494.9 928.3 498.6 929.4 496.0 930.4 502.2 932.0 501.8 933.6 499.7 934.6 495.8 935.5 496.2 936.7 499.2 937.8 501.7 938.6 504.8 939.9 500.8 940.8 495.8 942.0 493.9 943.0 494.7 944.1 496.3 945.1 493.9 946.0 494.2 947.2 494.9 948.3 498.9 949.3 497.7 950.4 500.3 951.4 500.5 952.5 502.4 953.9 502.7 954.6 501.5 955.6 500.8 956.7 501.8 957.7 498.4 958.8 499.9 959.8 497.8 960.9 498.2 961.9 499.1 963.0 497.2 964.0 497.6 965.1 499.9 966.1 498.2 967.2 497.6 968.2 503.5 969.3 499.3 970.5 500.4 971.4 499.7 972.4 504.1 973.5 503.2 974.9 503.7 975.6 502.5 976.6 504.0 977.7 500.0 978.7 502.0 979.8 500.6 981.0 498.3 981.9 501.4 982.9 503.4 984.0 504.5 985.0 506.2 986.1 508.4 987.1 508.6 988.2 505.0 989.2 506.9 990.3 507.0 991.3 503.9 992.4 502.6 993.4 499.7 995.0 500.4 996.6 501.8 997.6 500.7 998.7 503.1 1000.2 506.4 1001.8 504.8 1002.9 505.5 1003.9 507.6 1005.0 506.8 1006.0 504.4 1007.1 506.2 1008.1 506.0 1009.0 506.1 1010.2 506.1 1011.3 508.8 1012.3 507.2 1013.4 510.5 1014.2 511.1 1015.5 511.1 1016.5 511.8 1017.6 508.6 1018.6 511.2 1019.7 513.0 1020.7 513.5 1021.8 511.7 1023.0 512.9 1023.9 512.3 1024.9 511.2 1026.5 510.5 1028.1 511.3 1029.1 514.7 1030.2 509.9 1031.2 513.8 1032.3 514.7 1033.3 514.9 1034.4 514.1 1035.2 515.2 1036.5 513.9 1037.5 517.2 1038.6 517.9 1039.6 517.1 1040.5 519.2 1041.7 515.1 1043.1 516.2 1043.8 515.5 1044.9 518.4 1045.9 523.9 1046.6 524.2 1048.0 522.0 1049.1 519.3 1050.1 518.5 1051.2 518.5 1052.2 519.5 1053.3 520.1 1054.3 520.0 1055.4 521.9 1056.4 522.3 1058.0 520.9 1059.6 524.1 1060.6 520.6 1061.7 523.5 1062.7 523.2 1063.8 523.3 1064.8 525.0 1065.9 524.8 1066.9 522.9 1068.5 525.6 1070.1 527.1 1071.1 525.5 1072.2 525.6 1073.2 524.9 1074.3 525.4 1075.3 523.3 1076.4 523.8 1077.2 523.0 1078.5 521.7 1079.5 524.0 1080.6 525.7 1081.6 526.3 1082.5 526.2 1083.7 526.0 1084.8 522.5 1085.8 523.0 1086.9 521.9"/>
<path class="cv" stroke="#1a6a66" stroke-opacity="0.6" stroke-width="1" d="M684.6 559.4 685.7 559.2 686.8 558.8 687.8 557.6 688.9 556.9 689.9 556.9 691.0 556.1 692.0 556.2 693.1 556.0 694.1 555.5 695.2 555.1 696.2 555.0 697.3 554.5 698.3 554.2 699.4 554.7 700.8 554.2 701.5 552.8 702.5 552.9 703.6 552.6 704.6 550.5 705.7 551.2 706.7 550.5 707.8 548.9 708.8 548.3 709.5 548.0 710.9 549.6 712.0 548.1 713.0 548.1 714.1 547.5 715.1 549.0 716.5 549.0 717.2 547.6 718.3 547.3 719.3 549.1 720.4 547.0 721.4 545.8 722.5 546.3 723.5 546.2 724.6 544.8 725.6 545.8 727.0 544.0 727.7 543.4 728.8 543.7 729.8 543.4 730.9 541.3 731.9 541.4 733.0 541.6 734.0 540.3 735.1 540.5 735.8 539.2 737.2 538.6 738.2 539.4 739.3 538.0 740.3 538.1 741.4 536.3 742.4 534.9 743.5 537.1 744.5 535.0 745.6 534.7 746.6 535.7 747.7 536.0 748.7 533.1 749.8 534.8 750.8 534.7 751.9 534.2 753.2 534.1 754.0 533.5 755.0 532.1 756.1 534.9 757.1 532.5 758.2 534.3 759.2 531.6 760.3 530.5 761.3 530.7 762.0 531.0 763.4 531.0 764.5 527.4 765.5 528.1 766.6 526.7 767.6 527.1 768.7 523.7 769.7 524.6 770.8 523.5 771.8 524.5 772.9 522.0 773.9 522.6 775.0 521.7 776.0 524.1 777.1 526.0 777.8 525.9 779.2 523.8 780.2 523.6 781.3 523.7 782.3 523.9 783.4 521.7 784.4 520.3 785.5 519.1 786.5 517.3 787.6 518.6 788.2 518.8 789.7 520.6 790.7 522.0 791.8 523.6 792.6 523.0 793.9 520.6 794.9 517.2 796.0 515.1 797.0 513.3 798.1 511.7 799.1 512.0 800.2 512.6 801.2 513.5 802.3 513.4 803.3 514.8 804.0 513.2 805.4 513.0 806.5 514.7 807.5 516.3 808.6 516.1 809.2 516.8 810.7 514.7 811.7 514.6 812.8 512.0 813.8 509.0 814.9 509.5 815.9 507.9 817.0 507.2 818.0 506.6 819.1 510.3 820.1 507.5 821.5 511.8 822.2 509.1 823.3 508.5 824.3 509.8 825.4 506.8 826.8 506.7 828.0 512.1 829.6 510.6 830.6 509.0 831.7 508.8 832.7 506.7 833.8 503.6 834.8 506.7 835.5 505.0 836.9 505.2 838.0 504.6 839.0 506.3 840.1 505.3 841.6 507.5 842.2 505.0 843.2 507.5 844.3 503.3 845.3 502.9 846.0 502.3 847.4 500.9 848.5 500.6 849.5 498.9 850.6 506.3 851.6 504.9 853.0 502.2 853.7 500.7 854.8 504.1 855.8 504.4 856.9 505.7 857.9 505.6 859.0 508.3 860.0 509.3 861.1 506.8 861.8 507.8 863.2 505.8 864.2 505.0 865.3 503.4 866.3 503.6 867.4 503.7 868.4 500.3 869.5 499.1 870.5 498.8 871.6 494.5 872.2 496.2 873.7 497.2 874.7 503.7 875.8 501.8 876.6 504.1 877.9 503.7 878.9 499.5 880.0 497.7 881.0 501.3 882.1 500.5 883.1 503.7 884.2 504.1 885.2 501.8 886.3 500.7 887.4 501.7 888.4 503.6 890.0 501.0 891.6 499.4 892.6 494.9 893.7 497.9 894.7 493.9 895.8 499.3 896.8 494.5 897.9 496.5 898.8 500.2 900.0 500.1 901.0 496.5 902.1 497.4 903.1 499.3 904.2 497.7 905.8 498.0 907.3 496.6 908.4 497.5 909.4 496.5 910.5 494.8 911.5 497.8 912.6 495.8 913.6 493.5 914.5 495.9 915.7 498.7 916.8 499.9 917.8 500.6 918.9 503.1 919.8 501.3 921.0 497.1 922.0 498.4 923.1 495.6 924.1 494.3 925.2 497.4 926.2 495.7 927.3 494.9 928.3 498.6 929.4 495.8 930.4 501.6 932.0 502.0 933.6 499.5 934.6 495.8 935.5 496.1 936.7 499.4 937.8 502.0 938.6 504.3 939.9 500.4 940.8 496.1 942.0 493.7 943.0 495.0 944.1 495.9 945.1 493.4 946.0 493.6 947.2 494.4 948.3 499.0 949.3 498.0 950.4 500.3 951.4 500.7 952.5 502.1 953.9 502.6 954.6 501.4 955.6 500.7 956.7 501.9 957.7 498.1 958.8 499.4 959.8 497.7 960.9 497.4 961.9 498.9 963.0 496.8 964.0 497.2 965.1 500.0 966.1 497.4 967.2 498.1 968.2 503.3 969.3 499.1 970.5 500.8 971.4 499.4 972.4 503.8 973.5 503.0 974.9 502.8 975.6 502.2 976.6 504.1 977.7 500.4 978.7 502.0 979.8 500.8 981.0 498.4 981.9 500.8 982.9 503.4 984.0 504.8 985.0 506.3 986.1 507.9 987.1 508.8 988.2 504.8 989.2 506.5 990.3 506.9 991.3 504.2 992.4 502.5 993.4 499.6 995.0 500.3 996.6 501.4 997.6 500.9 998.7 502.6 1000.2 506.3 1001.8 504.5 1002.9 505.6 1003.9 507.5 1005.0 506.8 1006.0 504.2 1007.1 506.0 1008.1 506.1 1009.0 505.7 1010.2 505.9 1011.3 508.4 1012.3 507.1 1013.4 510.9 1014.2 511.1 1015.5 511.2 1016.5 511.8 1017.6 508.5 1018.6 510.7 1019.7 512.5 1020.7 513.2 1021.8 511.6 1023.0 513.1 1023.9 512.2 1024.9 510.9 1026.5 510.4 1028.1 511.4 1029.1 514.7 1030.2 510.2 1031.2 513.8 1032.3 514.3 1033.3 514.8 1034.4 513.9 1035.2 514.9 1036.5 513.8 1037.5 517.1 1038.6 518.0 1039.6 516.7 1040.5 519.0 1041.7 515.3 1043.1 515.8 1043.8 515.7 1044.9 518.0 1045.9 523.7 1046.6 523.9 1048.0 521.5 1049.1 519.3 1050.1 518.3 1051.2 518.7 1052.2 519.5 1053.3 520.1 1054.3 520.1 1055.4 521.6 1056.4 522.2 1058.0 520.7 1059.6 523.6 1060.6 520.3 1061.7 523.6 1062.7 523.3 1063.8 523.0 1064.8 524.7 1065.9 524.6 1066.9 522.8 1068.5 525.4 1070.1 526.9 1071.1 525.5 1072.2 525.4 1073.2 524.9 1074.3 525.4 1075.3 523.5 1076.4 523.7 1077.2 522.6 1078.5 521.9 1079.5 523.8 1080.6 525.6 1081.6 526.0 1082.5 526.3 1083.7 526.2 1084.8 522.4 1085.8 522.9 1086.9 522.0"/>
<path class="cv" stroke="#8c1616" stroke-opacity="0.6" stroke-width="1" d="M684.6 559.1 685.7 558.9 686.8 558.4 687.8 557.3 688.9 556.6 689.9 556.5 691.0 555.8 692.0 555.8 693.1 555.6 694.1 555.2 695.2 554.7 696.2 554.7 697.3 554.3 698.3 553.9 699.4 554.4 700.8 553.9 701.5 552.4 702.5 552.4 703.6 552.3 704.6 550.2 705.7 550.8 706.7 550.1 707.8 548.5 708.8 548.0 709.5 547.9 710.9 549.3 712.0 547.7 713.0 547.8 714.1 547.4 715.1 548.6 716.5 548.6 717.2 547.3 718.3 546.9 719.3 548.7 720.4 546.8 721.4 545.6 722.5 546.0 723.5 545.7 724.6 544.5 725.6 545.6 727.0 543.9 727.7 543.0 728.8 543.2 729.8 543.3 730.9 541.2 731.9 541.1 733.0 541.2 734.0 539.8 735.1 540.0 735.8 539.0 737.2 538.4 738.2 538.9 739.3 537.7 740.3 537.9 741.4 535.9 742.4 534.4 743.5 536.7 744.5 534.7 745.6 534.4 746.6 535.4 747.7 535.5 748.7 532.8 749.8 534.5 750.8 534.4 751.9 534.1 753.2 533.6 754.0 533.2 755.0 531.8 756.1 534.5 757.1 532.1 758.2 533.9 759.2 531.4 760.3 530.0 761.3 530.3 762.0 530.5 763.4 530.8 764.5 527.1 765.5 527.5 766.6 526.4 767.6 526.8 768.7 523.5 769.7 524.0 770.8 523.3 771.8 524.2 772.9 521.6 773.9 522.3 775.0 521.4 776.0 523.4 777.1 525.6 777.8 525.5 779.2 523.9 780.2 523.4 781.3 523.5 782.3 523.5 783.4 521.6 784.4 519.9 785.5 518.9 786.5 516.7 787.6 518.5 788.2 518.6 789.7 520.1 790.7 521.4 791.8 523.1 792.6 522.8 793.9 520.1 794.9 516.7 796.0 515.0 797.0 513.4 798.1 511.1 799.1 511.4 800.2 512.3 801.2 513.3 802.3 513.2 803.3 514.5 804.0 512.8 805.4 512.3 806.5 514.5 807.5 515.8 808.6 515.9 809.2 516.2 810.7 514.0 811.7 513.9 812.8 511.8 813.8 508.5 814.9 509.3 815.9 507.7 817.0 506.8 818.0 506.0 819.1 510.2 820.1 507.0 821.5 511.3 822.2 508.5 823.3 507.9 824.3 509.5 825.4 506.6 826.8 506.6 828.0 511.6 829.6 510.3 830.6 508.9 831.7 508.5 832.7 506.2 833.8 503.1 834.8 506.5 835.5 504.7 836.9 505.0 838.0 503.9 839.0 505.8 840.1 504.9 841.6 507.2 842.2 504.7 843.2 507.0 844.3 502.6 845.3 502.6 846.0 501.9 847.4 500.4 848.5 500.2 849.5 498.4 850.6 506.2 851.6 504.6 853.0 502.0 853.7 500.5 854.8 503.2 855.8 504.2 856.9 504.8 857.9 505.2 859.0 507.9 860.0 509.1 861.1 506.4 861.8 507.4 863.2 505.4 864.2 504.9 865.3 503.2 866.3 502.9 867.4 503.2 868.4 500.4 869.5 498.6 870.5 498.3 871.6 494.5 872.2 495.9 873.7 496.6 874.7 503.2 875.8 501.3 876.6 503.8 877.9 503.2 878.9 499.2 880.0 497.4 881.0 501.0 882.1 499.8 883.1 503.2 884.2 503.8 885.2 501.3 886.3 500.6 887.4 501.4 888.4 503.5 890.0 500.7 891.6 498.7 892.6 494.5 893.7 497.4 894.7 493.4 895.8 498.6 896.8 494.6 897.9 496.0 898.8 499.7 900.0 499.7 901.0 495.9 902.1 496.8 903.1 498.8 904.2 497.3 905.8 497.7 907.3 496.6 908.4 496.6 909.4 496.1 910.5 494.4 911.5 497.2 912.6 495.4 913.6 493.6 914.5 495.7 915.7 498.0 916.8 499.7 917.8 500.4 918.9 502.6 919.8 500.8 921.0 496.7 922.0 498.2 923.1 495.4 924.1 494.4 925.2 497.1 926.2 495.1 927.3 494.7 928.3 498.2 929.4 495.3 930.4 501.4 932.0 501.7 933.6 499.0 934.6 495.3 935.5 495.4 936.7 499.1 937.8 501.0 938.6 504.0 939.9 500.3 940.8 495.6 942.0 493.4 943.0 494.3 944.1 495.6 945.1 493.3 946.0 493.3 947.2 494.8 948.3 498.6 949.3 497.7 950.4 499.8 951.4 500.3 952.5 501.7 953.9 502.1 954.6 501.2 955.6 500.2 956.7 501.5 957.7 497.7 958.8 499.2 959.8 497.3 960.9 497.2 961.9 498.8 963.0 496.7 964.0 497.2 965.1 499.5 966.1 497.5 967.2 497.4 968.2 503.3 969.3 499.0 970.5 500.1 971.4 499.4 972.4 503.5 973.5 502.6 974.9 502.9 975.6 501.9 976.6 503.7 977.7 499.9 978.7 501.7 979.8 500.4 981.0 497.7 981.9 500.8 982.9 503.0 984.0 504.2 985.0 505.9 986.1 507.5 987.1 508.4 988.2 504.4 989.2 506.3 990.3 507.0 991.3 503.6 992.4 502.2 993.4 499.3 995.0 499.6 996.6 501.3 997.6 500.6 998.7 502.4 1000.2 505.9 1001.8 504.4 1002.9 505.0 1003.9 507.3 1005.0 506.6 1006.0 503.8 1007.1 505.7 1008.1 505.6 1009.0 505.5 1010.2 505.8 1011.3 508.4 1012.3 507.0 1013.4 510.3 1014.2 510.8 1015.5 510.8 1016.5 511.2 1017.6 508.1 1018.6 510.8 1019.7 512.5 1020.7 513.1 1021.8 511.4 1023.0 512.4 1023.9 512.0 1024.9 510.5 1026.5 510.0 1028.1 510.9 1029.1 514.4 1030.2 509.6 1031.2 513.5 1032.3 514.1 1033.3 514.7 1034.4 513.4 1035.2 514.9 1036.5 513.6 1037.5 516.8 1038.6 517.5 1039.6 516.3 1040.5 518.4 1041.7 514.6 1043.1 515.5 1043.8 514.9 1044.9 517.7 1045.9 523.6 1046.6 523.7 1048.0 521.0 1049.1 518.8 1050.1 518.0 1051.2 518.1 1052.2 518.7 1053.3 519.6 1054.3 519.7 1055.4 521.4 1056.4 521.7 1058.0 520.7 1059.6 523.4 1060.6 520.2 1061.7 523.1 1062.7 522.9 1063.8 522.6 1064.8 524.6 1065.9 524.4 1066.9 522.8 1068.5 525.0 1070.1 526.4 1071.1 525.1 1072.2 525.0 1073.2 524.4 1074.3 525.1 1075.3 523.2 1076.4 523.2 1077.2 522.5 1078.5 521.1 1079.5 523.5 1080.6 525.2 1081.6 525.6 1082.5 525.9 1083.7 525.6 1084.8 522.3 1085.8 522.4 1086.9 521.4"/>
<path class="cv " stroke="#52100e" stroke-width="1" d="M684.6 559.2 685.7 558.9 686.8 558.5 687.8 557.3 688.9 556.7 689.9 556.6 691.0 555.9 692.0 555.9 693.1 555.7 694.1 555.2 695.2 554.8 696.2 554.8 697.3 554.3 698.3 553.9 699.4 554.5 700.8 554.0 701.5 552.5 702.5 552.6 703.6 552.4 704.6 550.3 705.7 550.9 706.7 550.3 707.8 548.6 708.8 548.1 709.5 547.9 710.9 549.5 712.0 547.8 713.0 547.8 714.1 547.5 715.1 548.7 716.5 548.8 717.2 547.3 718.3 547.0 719.3 548.8 720.4 546.9 721.4 545.8 722.5 546.1 723.5 545.9 724.6 544.6 725.6 545.7 727.0 543.8 727.7 543.2 728.8 543.3 729.8 543.3 730.9 541.2 731.9 541.2 733.0 541.3 734.0 539.9 735.1 540.2 735.8 539.1 737.2 538.5 738.2 539.0 739.3 537.7 740.3 537.9 741.4 536.0 742.4 534.5 743.5 536.6 744.5 534.8 745.6 534.5 746.6 535.6 747.7 535.6 748.7 532.9 749.8 534.5 750.8 534.4 751.9 534.1 753.2 533.6 754.0 533.3 755.0 531.9 756.1 534.7 757.1 532.2 758.2 534.1 759.2 531.4 760.3 530.2 761.3 530.2 762.0 530.7 763.4 531.0 764.5 527.2 765.5 527.6 766.6 526.5 767.6 526.9 768.7 523.5 769.7 524.2 770.8 523.3 771.8 524.3 772.9 521.6 773.9 522.6 775.0 521.5 776.0 523.5 777.1 525.8 777.8 525.6 779.2 523.9 780.2 523.4 781.3 523.6 782.3 523.7 783.4 521.6 784.4 520.1 785.5 518.9 786.5 516.9 787.6 518.7 788.2 518.7 789.7 520.2 790.7 521.7 791.8 523.1 792.6 522.8 793.9 520.2 794.9 516.9 796.0 515.1 797.0 513.4 798.1 511.2 799.1 511.5 800.2 512.3 801.2 513.4 802.3 513.4 803.3 514.6 804.0 512.9 805.4 512.5 806.5 514.5 807.5 516.0 808.6 515.9 809.2 516.4 810.7 514.2 811.7 514.0 812.8 511.8 813.8 508.6 814.9 509.4 815.9 507.8 817.0 507.0 818.0 506.2 819.1 510.4 820.1 507.2 821.5 511.2 822.2 508.7 823.3 507.9 824.3 509.7 825.4 506.5 826.8 506.6 828.0 511.5 829.6 510.4 830.6 508.8 831.7 508.7 832.7 506.4 833.8 503.1 834.8 506.5 835.5 504.8 836.9 505.1 838.0 504.1 839.0 506.0 840.1 505.0 841.6 507.3 842.2 504.7 843.2 507.1 844.3 502.9 845.3 502.9 846.0 502.1 847.4 500.7 848.5 500.2 849.5 498.4 850.6 506.2 851.6 504.8 853.0 502.2 853.7 500.5 854.8 503.6 855.8 504.3 856.9 505.2 857.9 505.4 859.0 508.1 860.0 509.0 861.1 506.7 861.8 507.5 863.2 505.5 864.2 505.1 865.3 503.3 866.3 503.2 867.4 503.5 868.4 500.5 869.5 498.7 870.5 498.3 871.6 494.5 872.2 495.9 873.7 496.8 874.7 503.4 875.8 501.4 876.6 504.1 877.9 503.2 878.9 499.3 880.0 497.5 881.0 501.0 882.1 500.1 883.1 503.3 884.2 503.9 885.2 501.5 886.3 500.7 887.4 501.3 888.4 503.5 890.0 500.9 891.6 499.0 892.6 494.6 893.7 497.8 894.7 493.6 895.8 498.7 896.8 494.5 897.9 496.2 898.8 499.9 900.0 499.8 901.0 496.2 902.1 496.9 903.1 498.9 904.2 497.4 905.8 497.5 907.3 496.4 908.4 496.9 909.4 496.2 910.5 494.6 911.5 497.5 912.6 495.7 913.6 493.5 914.5 495.8 915.7 498.1 916.8 499.6 917.8 500.4 918.9 502.8 919.8 501.0 921.0 497.0 922.0 498.3 923.1 495.6 924.1 494.4 925.2 497.3 926.2 495.2 927.3 494.6 928.3 498.4 929.4 495.5 930.4 501.5 932.0 501.6 933.6 499.2 934.6 495.7 935.5 495.7 936.7 499.2 937.8 501.3 938.6 504.2 939.9 500.2 940.8 495.8 942.0 493.5 943.0 494.4 944.1 495.6 945.1 493.5 946.0 493.5 947.2 494.6 948.3 498.7 949.3 497.8 950.4 499.9 951.4 500.2 952.5 502.0 953.9 502.4 954.6 501.1 955.6 500.2 956.7 501.7 957.7 497.9 958.8 499.2 959.8 497.3 960.9 497.5 961.9 498.8 963.0 496.8 964.0 497.3 965.1 499.6 966.1 497.5 967.2 497.6 968.2 503.3 969.3 499.0 970.5 500.0 971.4 499.5 972.4 503.6 973.5 502.7 974.9 503.0 975.6 502.0 976.6 503.8 977.7 500.0 978.7 501.8 979.8 500.4 981.0 498.0 981.9 500.7 982.9 502.9 984.0 504.4 985.0 506.0 986.1 507.7 987.1 508.5 988.2 504.6 989.2 506.3 990.3 506.9 991.3 503.8 992.4 502.2 993.4 499.3 995.0 499.8 996.6 501.3 997.6 500.6 998.7 502.4 1000.2 506.0 1001.8 504.4 1002.9 505.1 1003.9 507.5 1005.0 506.6 1006.0 503.9 1007.1 505.7 1008.1 505.8 1009.0 505.8 1010.2 505.9 1011.3 508.5 1012.3 506.9 1013.4 510.4 1014.2 510.9 1015.5 510.7 1016.5 511.4 1017.6 508.3 1018.6 510.9 1019.7 512.6 1020.7 513.1 1021.8 511.3 1023.0 512.6 1023.9 512.0 1024.9 510.7 1026.5 510.1 1028.1 511.0 1029.1 514.5 1030.2 509.7 1031.2 513.6 1032.3 514.0 1033.3 514.7 1034.4 513.5 1035.2 514.8 1036.5 513.5 1037.5 517.0 1038.6 517.5 1039.6 516.5 1040.5 518.5 1041.7 514.7 1043.1 515.7 1043.8 515.1 1044.9 517.9 1045.9 523.5 1046.6 523.8 1048.0 521.2 1049.1 519.0 1050.1 518.1 1051.2 518.2 1052.2 519.0 1053.3 519.9 1054.3 519.8 1055.4 521.6 1056.4 521.8 1058.0 520.7 1059.6 523.6 1060.6 520.3 1061.7 523.1 1062.7 522.9 1063.8 522.8 1064.8 524.7 1065.9 524.4 1066.9 522.8 1068.5 525.0 1070.1 526.6 1071.1 525.3 1072.2 525.4 1073.2 524.5 1074.3 525.2 1075.3 523.2 1076.4 523.5 1077.2 522.5 1078.5 521.2 1079.5 523.6 1080.6 525.4 1081.6 525.7 1082.5 526.0 1083.7 525.8 1084.8 522.3 1085.8 522.6 1086.9 521.7"/>
<path class="ax" d="M684.5 493V560.5H1087"/>
<path class="ax" d="M766.5 560v-5"/>
<path class="ax" d="M860.5 560v-5"/>
<path class="ax" d="M955.5 560v-5"/>
<path class="ax" d="M1049.5 560v-5"/>
<path class="ax" d="M685 510.5h5"/>
<path class="ax" d="M685 529.5h5"/>
<path class="ax" d="M685 547.5h5"/>
<text transform="translate(766.50 596.00) scale(0.975 1.07)" text-anchor="middle" font-size="24.0">2485</text>
<text transform="translate(859.50 596.00) scale(0.975 1.07)" text-anchor="middle" font-size="24.0">2490</text>
<text transform="translate(954.50 596.00) scale(0.975 1.07)" text-anchor="middle" font-size="24.0">2495</text>
<text transform="translate(1048.50 596.00) scale(0.975 1.07)" text-anchor="middle" font-size="24.0">2500</text>
<text transform="translate(677.50 522.00) scale(0.975 1.07)" text-anchor="end" font-size="24.0">40</text>
<text transform="translate(677.50 541.00) scale(0.975 1.07)" text-anchor="end" font-size="24.0">30</text>
<text transform="translate(677.50 559.00) scale(0.975 1.07)" text-anchor="end" font-size="24.0">20</text>
<text transform="translate(856.30 473.00) scale(1.03 1.115)" text-anchor="start" font-size="24.0">Bin 6</text>
<text transform="translate(638.00 528.30) rotate(-90) scale(1.02 1.14)" text-anchor="middle" font-size="24.0">ADU</text>
<text transform="translate(778.00 633.20) scale(1.013 1.09)" text-anchor="start" font-size="24.0">Wavenumber [cm</text>
<text transform="translate(968.00 621.20) scale(1.0 1.0)" text-anchor="start" font-size="18.0">-1</text>
<text transform="translate(984.50 633.20) scale(1.0 1.09)" text-anchor="start" font-size="24.0">]</text>
</g>
<g id="bin7">
<path class="gr" d="M238.5 753V690"/>
<path class="gr" d="M332.5 753V690"/>
<path class="gr" d="M426.5 752V690"/>
<path class="gr" d="M521.5 754V690"/>
<path class="gr" d="M156 700.5H559"/>
<path class="gr" d="M156 720.5H559"/>
<path class="gr" d="M156 740.5H559"/>
<path class="cv" stroke="#6fe6f0" stroke-opacity="0.4" stroke-width="1.8" transform="translate(0.3 1.3)" d="M156.7 754.0 157.9 756.6 158.8 756.7 159.8 755.4 160.9 754.2 161.9 753.1 163.0 752.3 164.0 752.4 165.1 752.1 165.8 750.9 167.2 750.6 168.2 752.3 169.3 751.5 170.3 752.0 171.0 751.9 172.4 751.1 173.5 749.8 174.5 747.9 175.6 747.0 176.2 746.5 177.7 748.1 178.7 746.7 179.8 745.6 180.8 745.8 181.9 745.9 182.9 745.7 184.0 746.2 185.0 745.7 186.1 745.5 187.1 744.4 188.2 743.3 189.2 743.4 190.3 742.5 191.3 741.9 192.4 742.0 193.4 741.0 194.5 741.5 195.5 739.7 196.6 740.3 197.6 740.4 198.7 739.8 199.7 740.3 200.8 740.6 201.8 738.5 202.9 736.3 204.2 734.3 205.0 734.3 206.0 735.4 207.1 733.6 208.1 732.3 209.2 735.7 210.2 732.9 211.3 733.2 212.3 733.3 213.4 734.1 214.4 734.5 215.5 733.9 216.5 732.6 217.6 732.3 218.6 730.6 219.7 729.4 220.7 727.8 221.8 727.4 222.8 728.3 223.9 726.6 224.9 725.2 226.0 725.9 227.0 727.1 228.1 725.2 229.1 726.0 230.2 726.4 231.2 725.7 232.2 725.4 233.3 725.7 234.4 722.4 235.4 724.0 236.5 724.0 237.5 722.6 238.6 721.3 239.6 722.9 240.7 721.7 241.7 719.1 242.8 720.1 243.8 719.0 244.9 715.9 246.2 717.7 247.0 716.1 248.0 717.8 249.1 716.9 250.1 722.6 251.2 720.7 252.2 722.1 253.2 721.3 254.3 716.6 255.4 716.2 256.4 717.5 257.5 713.7 258.5 713.0 259.6 714.8 260.6 713.4 261.7 713.6 262.7 717.2 263.8 715.9 264.8 715.7 265.9 714.7 266.9 714.9 268.0 711.8 269.0 711.8 270.1 711.7 271.1 709.8 272.5 709.1 273.2 708.2 274.3 711.7 275.3 708.4 276.4 711.2 277.4 712.0 278.5 709.7 279.5 712.3 280.4 713.6 281.6 710.2 282.7 709.8 283.7 713.2 284.8 706.9 285.8 708.8 286.5 706.2 287.9 704.4 289.0 704.6 290.0 702.0 291.1 704.5 292.1 701.8 293.2 702.0 294.2 702.6 295.2 700.6 296.3 703.2 297.4 701.8 298.4 701.0 299.5 701.9 300.5 702.4 301.6 702.6 302.2 702.4 303.7 704.3 304.7 700.3 305.8 700.5 306.8 702.7 307.9 703.1 308.9 701.1 310.0 700.1 311.0 699.6 312.1 700.9 313.1 701.7 314.2 700.4 315.2 701.3 316.3 698.7 317.3 700.0 318.0 699.9 319.4 695.3 320.5 699.6 321.5 700.8 322.6 694.7 324.1 697.3 324.7 698.8 325.7 698.5 326.8 702.7 327.6 703.5 328.9 704.8 329.9 702.8 331.0 704.3 332.0 701.6 333.1 698.3 334.1 698.2 335.5 699.6 336.2 699.4 337.3 696.4 338.3 696.6 339.4 696.2 340.4 696.0 341.6 694.5 342.5 695.5 343.6 696.1 344.6 698.5 345.7 698.6 346.7 700.1 347.8 698.5 348.8 698.9 349.9 694.9 350.9 694.8 352.0 697.1 353.0 696.3 354.1 696.4 354.8 696.2 356.2 696.4 357.2 693.3 358.0 694.7 359.4 696.3 360.4 697.3 362.0 697.5 363.6 694.6 364.6 693.1 365.7 692.0 367.2 692.8 368.8 690.5 369.9 690.5 370.9 691.0 372.0 690.5 373.0 693.3 374.1 692.8 375.1 692.1 376.2 691.4 377.8 692.5 379.3 693.2 380.4 693.9 381.4 694.8 382.5 693.4 383.5 692.1 384.8 695.0 385.6 694.8 386.7 694.7 387.7 692.3 388.8 690.9 390.0 690.5 390.9 690.6 391.9 690.8 393.0 691.1 394.0 695.2 395.1 696.6 396.1 696.1 397.2 693.9 398.8 696.9 400.3 698.3 401.4 693.2 402.4 695.2 403.5 694.3 404.5 694.4 405.6 696.5 406.6 692.7 407.7 690.9 409.2 694.2 410.8 693.1 411.9 691.0 412.9 690.5 414.0 695.8 415.0 690.5 416.1 690.5 417.1 691.7 418.0 690.5 419.2 692.1 420.3 695.6 421.3 694.1 422.4 697.8 423.4 697.2 424.5 697.7 425.5 700.8 426.8 701.6 427.6 700.2 428.7 697.1 429.7 697.2 430.8 696.1 431.8 696.6 432.9 695.4 433.9 695.2 435.5 693.3 437.1 694.8 438.1 698.0 439.2 695.6 440.2 695.3 441.3 697.5 442.3 700.0 443.4 697.7 444.2 698.2 445.5 700.0 446.5 699.5 447.6 698.2 448.6 699.8 449.7 699.3 450.4 699.8 451.8 699.6 452.8 698.8 453.9 696.0 454.9 692.5 455.6 694.4 457.0 697.1 458.1 696.2 459.1 700.7 460.0 701.7 461.2 700.7 462.3 701.5 463.3 701.0 464.4 704.2 465.4 701.8 466.5 698.9 467.5 701.5 468.8 699.4 469.6 700.7 470.7 697.6 471.7 699.9 472.8 701.9 473.8 702.2 474.9 705.4 475.8 706.3 477.0 704.9 478.0 705.0 479.1 703.6 480.1 703.5 481.2 701.1 482.2 702.7 483.3 701.7 484.5 700.6 485.4 705.1 486.4 705.1 488.0 707.1 489.6 707.7 490.6 708.9 491.7 707.8 492.7 710.4 493.8 708.5 495.0 708.9 495.9 707.7 496.9 708.7 498.0 710.1 499.0 711.8 500.1 712.7 501.1 712.7 502.2 712.8 503.8 713.2 505.3 714.0 506.4 712.8 507.4 710.1 509.0 710.1 510.6 711.5 511.6 712.5 512.7 714.2 514.2 712.6 515.8 717.7 516.9 720.3 517.8 722.9 519.0 718.5 520.4 716.2 521.1 714.6 522.1 718.2 523.2 718.9 524.2 715.1 525.3 714.4 526.5 714.7 527.4 715.7 528.4 714.2 529.5 716.3 530.5 718.3 531.6 719.3 532.6 717.1 533.7 720.6 534.7 717.2 535.8 718.8 537.0 719.9 537.9 720.1 538.9 719.2 540.0 720.5 541.0 720.8 542.1 719.9 543.1 721.2 544.2 722.2 545.2 722.6 546.3 721.8 547.5 721.6 548.4 722.5 549.4 720.6 550.5 724.7 551.5 723.0 552.6 720.3 553.6 721.6 554.7 723.3 555.7 721.4 556.8 720.9 557.8 722.5 558.9 721.9"/>
<path class="cv" stroke="#ffa040" stroke-opacity="0.33" stroke-width="1.4" transform="translate(-0.3 -1.0)" d="M156.7 754.0 157.9 756.6 158.8 756.7 159.8 755.4 160.9 754.2 161.9 753.1 163.0 752.3 164.0 752.4 165.1 752.1 165.8 750.9 167.2 750.6 168.2 752.3 169.3 751.5 170.3 752.0 171.0 751.9 172.4 751.1 173.5 749.8 174.5 747.9 175.6 747.0 176.2 746.5 177.7 748.1 178.7 746.7 179.8 745.6 180.8 745.8 181.9 745.9 182.9 745.7 184.0 746.2 185.0 745.7 186.1 745.5 187.1 744.4 188.2 743.3 189.2 743.4 190.3 742.5 191.3 741.9 192.4 742.0 193.4 741.0 194.5 741.5 195.5 739.7 196.6 740.3 197.6 740.4 198.7 739.8 199.7 740.3 200.8 740.6 201.8 738.5 202.9 736.3 204.2 734.3 205.0 734.3 206.0 735.4 207.1 733.6 208.1 732.3 209.2 735.7 210.2 732.9 211.3 733.2 212.3 733.3 213.4 734.1 214.4 734.5 215.5 733.9 216.5 732.6 217.6 732.3 218.6 730.6 219.7 729.4 220.7 727.8 221.8 727.4 222.8 728.3 223.9 726.6 224.9 725.2 226.0 725.9 227.0 727.1 228.1 725.2 229.1 726.0 230.2 726.4 231.2 725.7 232.2 725.4 233.3 725.7 234.4 722.4 235.4 724.0 236.5 724.0 237.5 722.6 238.6 721.3 239.6 722.9 240.7 721.7 241.7 719.1 242.8 720.1 243.8 719.0 244.9 715.9 246.2 717.7 247.0 716.1 248.0 717.8 249.1 716.9 250.1 722.6 251.2 720.7 252.2 722.1 253.2 721.3 254.3 716.6 255.4 716.2 256.4 717.5 257.5 713.7 258.5 713.0 259.6 714.8 260.6 713.4 261.7 713.6 262.7 717.2 263.8 715.9 264.8 715.7 265.9 714.7 266.9 714.9 268.0 711.8 269.0 711.8 270.1 711.7 271.1 709.8 272.5 709.1 273.2 708.2 274.3 711.7 275.3 708.4 276.4 711.2 277.4 712.0 278.5 709.7 279.5 712.3 280.4 713.6 281.6 710.2 282.7 709.8 283.7 713.2 284.8 706.9 285.8 708.8 286.5 706.2 287.9 704.4 289.0 704.6 290.0 702.0 291.1 704.5 292.1 701.8 293.2 702.0 294.2 702.6 295.2 700.6 296.3 703.2 297.4 701.8 298.4 701.0 299.5 701.9 300.5 702.4 301.6 702.6 302.2 702.4 303.7 704.3 304.7 700.3 305.8 700.5 306.8 702.7 307.9 703.1 308.9 701.1 310.0 700.1 311.0 699.6 312.1 700.9 313.1 701.7 314.2 700.4 315.2 701.3 316.3 698.7 317.3 700.0 318.0 699.9 319.4 695.3 320.5 699.6 321.5 700.8 322.6 694.7 324.1 697.3 324.7 698.8 325.7 698.5 326.8 702.7 327.6 703.5 328.9 704.8 329.9 702.8 331.0 704.3 332.0 701.6 333.1 698.3 334.1 698.2 335.5 699.6 336.2 699.4 337.3 696.4 338.3 696.6 339.4 696.2 340.4 696.0 341.6 694.5 342.5 695.5 343.6 696.1 344.6 698.5 345.7 698.6 346.7 700.1 347.8 698.5 348.8 698.9 349.9 694.9 350.9 694.8 352.0 697.1 353.0 696.3 354.1 696.4 354.8 696.2 356.2 696.4 357.2 693.3 358.0 694.7 359.4 696.3 360.4 697.3 362.0 697.5 363.6 694.6 364.6 693.1 365.7 692.0 367.2 692.8 368.8 690.5 369.9 690.5 370.9 691.0 372.0 690.5 373.0 693.3 374.1 692.8 375.1 692.1 376.2 691.4 377.8 692.5 379.3 693.2 380.4 693.9 381.4 694.8 382.5 693.4 383.5 692.1 384.8 695.0 385.6 694.8 386.7 694.7 387.7 692.3 388.8 690.9 390.0 690.5 390.9 690.6 391.9 690.8 393.0 691.1 394.0 695.2 395.1 696.6 396.1 696.1 397.2 693.9 398.8 696.9 400.3 698.3 401.4 693.2 402.4 695.2 403.5 694.3 404.5 694.4 405.6 696.5 406.6 692.7 407.7 690.9 409.2 694.2 410.8 693.1 411.9 691.0 412.9 690.5 414.0 695.8 415.0 690.5 416.1 690.5 417.1 691.7 418.0 690.5 419.2 692.1 420.3 695.6 421.3 694.1 422.4 697.8 423.4 697.2 424.5 697.7 425.5 700.8 426.8 701.6 427.6 700.2 428.7 697.1 429.7 697.2 430.8 696.1 431.8 696.6 432.9 695.4 433.9 695.2 435.5 693.3 437.1 694.8 438.1 698.0 439.2 695.6 440.2 695.3 441.3 697.5 442.3 700.0 443.4 697.7 444.2 698.2 445.5 700.0 446.5 699.5 447.6 698.2 448.6 699.8 449.7 699.3 450.4 699.8 451.8 699.6 452.8 698.8 453.9 696.0 454.9 692.5 455.6 694.4 457.0 697.1 458.1 696.2 459.1 700.7 460.0 701.7 461.2 700.7 462.3 701.5 463.3 701.0 464.4 704.2 465.4 701.8 466.5 698.9 467.5 701.5 468.8 699.4 469.6 700.7 470.7 697.6 471.7 699.9 472.8 701.9 473.8 702.2 474.9 705.4 475.8 706.3 477.0 704.9 478.0 705.0 479.1 703.6 480.1 703.5 481.2 701.1 482.2 702.7 483.3 701.7 484.5 700.6 485.4 705.1 486.4 705.1 488.0 707.1 489.6 707.7 490.6 708.9 491.7 707.8 492.7 710.4 493.8 708.5 495.0 708.9 495.9 707.7 496.9 708.7 498.0 710.1 499.0 711.8 500.1 712.7 501.1 712.7 502.2 712.8 503.8 713.2 505.3 714.0 506.4 712.8 507.4 710.1 509.0 710.1 510.6 711.5 511.6 712.5 512.7 714.2 514.2 712.6 515.8 717.7 516.9 720.3 517.8 722.9 519.0 718.5 520.4 716.2 521.1 714.6 522.1 718.2 523.2 718.9 524.2 715.1 525.3 714.4 526.5 714.7 527.4 715.7 528.4 714.2 529.5 716.3 530.5 718.3 531.6 719.3 532.6 717.1 533.7 720.6 534.7 717.2 535.8 718.8 537.0 719.9 537.9 720.1 538.9 719.2 540.0 720.5 541.0 720.8 542.1 719.9 543.1 721.2 544.2 722.2 545.2 722.6 546.3 721.8 547.5 721.6 548.4 722.5 549.4 720.6 550.5 724.7 551.5 723.0 552.6 720.3 553.6 721.6 554.7 723.3 555.7 721.4 556.8 720.9 557.8 722.5 558.9 721.9"/>
<path class="cv" stroke="#1c2470" stroke-opacity="0.6" stroke-width="1" d="M156.7 754.3 157.9 757.0 158.8 757.0 159.8 755.8 160.9 754.3 161.9 753.5 163.0 752.7 164.0 752.8 165.1 752.4 165.8 751.2 167.2 751.0 168.2 752.8 169.3 751.9 170.3 752.3 171.0 752.3 172.4 751.7 173.5 750.1 174.5 748.4 175.6 747.3 176.2 746.8 177.7 748.6 178.7 746.9 179.8 745.9 180.8 746.0 181.9 746.3 182.9 745.9 184.0 746.5 185.0 746.0 186.1 745.8 187.1 745.0 188.2 743.7 189.2 743.7 190.3 742.9 191.3 742.2 192.4 742.4 193.4 741.3 194.5 741.8 195.5 740.1 196.6 740.5 197.6 740.7 198.7 740.0 199.7 740.5 200.8 741.1 201.8 738.6 202.9 736.4 204.2 734.5 205.0 734.4 206.0 735.7 207.1 734.0 208.1 732.5 209.2 736.1 210.2 733.4 211.3 733.5 212.3 733.6 213.4 734.3 214.4 734.9 215.5 734.2 216.5 732.9 217.6 732.5 218.6 730.8 219.7 730.0 220.7 728.1 221.8 727.8 222.8 728.4 223.9 727.0 224.9 725.8 226.0 726.3 227.0 727.5 228.1 725.4 229.1 726.5 230.2 726.9 231.2 726.1 232.2 725.8 233.3 726.0 234.4 722.8 235.4 724.6 236.5 724.2 237.5 723.0 238.6 721.4 239.6 723.3 240.7 721.9 241.7 719.5 242.8 720.3 243.8 719.6 244.9 716.4 246.2 718.1 247.0 716.4 248.0 718.2 249.1 717.2 250.1 723.0 251.2 721.0 252.2 722.3 253.2 721.5 254.3 716.9 255.4 716.2 256.4 718.0 257.5 714.1 258.5 713.4 259.6 715.2 260.6 713.8 261.7 714.1 262.7 717.7 263.8 716.2 264.8 715.6 265.9 715.2 266.9 715.3 268.0 712.1 269.0 712.5 270.1 712.3 271.1 710.2 272.5 709.6 273.2 708.6 274.3 711.9 275.3 708.9 276.4 711.6 277.4 712.3 278.5 709.8 279.5 712.5 280.4 713.9 281.6 710.7 282.7 710.4 283.7 713.6 284.8 707.3 285.8 708.9 286.5 706.6 287.9 704.8 289.0 705.1 290.0 702.1 291.1 704.9 292.1 702.4 293.2 702.6 294.2 703.1 295.2 701.1 296.3 703.6 297.4 701.9 298.4 701.3 299.5 702.1 300.5 703.1 301.6 702.9 302.2 703.1 303.7 704.8 304.7 700.4 305.8 701.0 306.8 703.0 307.9 703.5 308.9 701.4 310.0 700.4 311.0 699.9 312.1 701.4 313.1 702.2 314.2 700.8 315.2 701.7 316.3 699.0 317.3 700.7 318.0 700.3 319.4 695.4 320.5 700.1 321.5 701.1 322.6 695.1 324.1 697.3 324.7 698.9 325.7 698.8 326.8 703.3 327.6 704.2 328.9 705.1 329.9 703.3 331.0 704.7 332.0 702.3 333.1 698.6 334.1 698.9 335.5 699.6 336.2 699.4 337.3 696.9 338.3 696.5 339.4 696.6 340.4 696.4 341.6 695.0 342.5 695.9 343.6 696.5 344.6 698.9 345.7 698.9 346.7 700.2 347.8 698.8 348.8 699.5 349.9 695.3 350.9 695.3 352.0 697.4 353.0 696.7 354.1 697.2 354.8 696.4 356.2 696.6 357.2 693.9 358.0 695.2 359.4 696.7 360.4 697.5 362.0 697.7 363.6 695.1 364.6 693.6 365.7 692.3 367.2 693.5 368.8 690.8 369.9 690.6 370.9 691.6 372.0 690.6 373.0 694.1 374.1 693.6 375.1 692.3 376.2 691.5 377.8 692.4 379.3 693.6 380.4 694.2 381.4 695.4 382.5 693.6 383.5 692.6 384.8 695.1 385.6 695.0 386.7 695.0 387.7 692.7 388.8 691.3 390.0 691.1 390.9 690.9 391.9 691.3 393.0 691.4 394.0 695.8 395.1 696.8 396.1 696.5 397.2 694.6 398.8 697.6 400.3 698.4 401.4 693.2 402.4 695.3 403.5 695.0 404.5 694.5 405.6 697.0 406.6 693.2 407.7 691.3 409.2 694.3 410.8 693.2 411.9 691.2 412.9 691.2 414.0 696.1 415.0 690.8 416.1 690.9 417.1 692.8 418.0 690.8 419.2 692.4 420.3 695.9 421.3 694.2 422.4 698.5 423.4 697.8 424.5 697.9 425.5 701.4 426.8 701.8 427.6 700.9 428.7 697.3 429.7 697.4 430.8 696.3 431.8 697.4 432.9 695.4 433.9 695.1 435.5 693.8 437.1 695.3 438.1 698.2 439.2 695.4 440.2 695.7 441.3 697.6 442.3 700.6 443.4 697.9 444.2 698.5 445.5 700.5 446.5 699.2 447.6 698.2 448.6 700.0 449.7 699.5 450.4 700.1 451.8 699.8 452.8 698.9 453.9 696.3 454.9 692.9 455.6 694.3 457.0 697.7 458.1 696.6 459.1 700.9 460.0 702.1 461.2 700.9 462.3 701.9 463.3 701.5 464.4 704.9 465.4 702.1 466.5 699.2 467.5 701.8 468.8 699.8 469.6 700.9 470.7 698.0 471.7 700.4 472.8 702.3 473.8 702.0 474.9 705.9 475.8 706.6 477.0 705.6 478.0 705.6 479.1 704.2 480.1 704.1 481.2 701.7 482.2 703.3 483.3 702.4 484.5 701.1 485.4 705.4 486.4 705.7 488.0 707.4 489.6 708.4 490.6 709.4 491.7 708.0 492.7 710.9 493.8 708.7 495.0 709.3 495.9 708.3 496.9 708.9 498.0 710.4 499.0 711.8 500.1 713.1 501.1 713.3 502.2 713.2 503.8 713.4 505.3 714.2 506.4 713.0 507.4 710.6 509.0 710.3 510.6 711.7 511.6 713.0 512.7 714.6 514.2 712.7 515.8 717.9 516.9 720.8 517.8 723.5 519.0 718.8 520.4 716.5 521.1 714.9 522.1 718.3 523.2 719.2 524.2 715.4 525.3 715.0 526.5 715.2 527.4 716.1 528.4 714.3 529.5 716.9 530.5 718.8 531.6 719.5 532.6 717.8 533.7 720.7 534.7 717.4 535.8 719.2 537.0 720.2 537.9 720.5 538.9 719.6 540.0 720.7 541.0 721.3 542.1 720.5 543.1 721.6 544.2 722.5 545.2 722.9 546.3 721.9 547.5 721.7 548.4 722.8 549.4 720.8 550.5 725.2 551.5 723.4 552.6 720.4 553.6 721.9 554.7 723.6 555.7 722.0 556.8 721.1 557.8 722.7 558.9 722.4"/>
<path class="cv" stroke="#1a6a66" stroke-opacity="0.6" stroke-width="1" d="M156.7 754.3 157.9 757.0 158.8 757.0 159.8 755.8 160.9 754.4 161.9 753.5 163.0 752.6 164.0 752.6 165.1 752.5 165.8 751.1 167.2 750.7 168.2 752.6 169.3 751.7 170.3 752.2 171.0 752.2 172.4 751.4 173.5 750.2 174.5 748.2 175.6 747.4 176.2 746.8 177.7 748.2 178.7 746.9 179.8 745.9 180.8 746.2 181.9 746.0 182.9 746.0 184.0 746.6 185.0 745.8 186.1 745.8 187.1 744.8 188.2 743.4 189.2 743.7 190.3 742.5 191.3 742.2 192.4 742.5 193.4 741.3 194.5 741.8 195.5 739.8 196.6 740.5 197.6 740.6 198.7 740.1 199.7 740.5 200.8 741.0 201.8 738.7 202.9 736.5 204.2 734.6 205.0 734.6 206.0 735.6 207.1 733.9 208.1 732.5 209.2 735.9 210.2 733.3 211.3 733.4 212.3 733.5 213.4 734.3 214.4 734.5 215.5 734.4 216.5 732.8 217.6 732.6 218.6 730.4 219.7 729.8 220.7 728.0 221.8 727.5 222.8 728.5 223.9 727.0 224.9 725.2 226.0 726.3 227.0 727.1 228.1 725.6 229.1 726.3 230.2 726.8 231.2 726.1 232.2 725.5 233.3 725.9 234.4 722.8 235.4 724.1 236.5 724.2 237.5 722.7 238.6 721.7 239.6 723.5 240.7 722.1 241.7 719.4 242.8 720.1 243.8 719.3 244.9 716.3 246.2 718.0 247.0 716.4 248.0 718.0 249.1 717.1 250.1 722.8 251.2 720.9 252.2 722.2 253.2 721.6 254.3 716.8 255.4 716.0 256.4 717.8 257.5 714.2 258.5 713.2 259.6 714.9 260.6 713.4 261.7 713.7 262.7 717.4 263.8 716.3 264.8 715.9 265.9 714.8 266.9 714.9 268.0 712.0 269.0 711.8 270.1 712.2 271.1 710.1 272.5 709.3 273.2 708.7 274.3 712.3 275.3 708.6 276.4 711.2 277.4 712.4 278.5 709.8 279.5 712.7 280.4 713.6 281.6 710.3 282.7 710.0 283.7 713.2 284.8 706.9 285.8 709.2 286.5 706.3 287.9 704.9 289.0 704.9 290.0 702.3 291.1 704.9 292.1 701.9 293.2 702.2 294.2 702.8 295.2 700.8 296.3 703.3 297.4 702.2 298.4 701.3 299.5 702.4 300.5 702.5 301.6 703.3 302.2 702.7 303.7 704.8 304.7 700.6 305.8 700.4 306.8 702.9 307.9 703.6 308.9 701.6 310.0 700.3 311.0 700.2 312.1 701.4 313.1 701.9 314.2 701.0 315.2 701.6 316.3 698.7 317.3 700.3 318.0 700.2 319.4 695.4 320.5 699.6 321.5 700.9 322.6 695.2 324.1 697.5 324.7 698.7 325.7 698.5 326.8 703.1 327.6 704.0 328.9 704.9 329.9 702.9 331.0 704.7 332.0 702.0 333.1 698.4 334.1 698.5 335.5 700.2 336.2 699.5 337.3 696.5 338.3 696.9 339.4 696.6 340.4 696.2 341.6 694.5 342.5 695.8 343.6 696.5 344.6 698.5 345.7 698.7 346.7 700.2 347.8 699.1 348.8 699.1 349.9 694.9 350.9 695.3 352.0 697.5 353.0 696.4 354.1 696.7 354.8 696.5 356.2 696.8 357.2 693.6 358.0 695.0 359.4 696.4 360.4 697.6 362.0 697.9 363.6 694.9 364.6 693.2 365.7 691.9 367.2 693.2 368.8 690.7 369.9 690.7 370.9 691.6 372.0 690.8 373.0 693.6 374.1 693.1 375.1 691.9 376.2 691.6 377.8 692.7 379.3 693.6 380.4 694.3 381.4 695.2 382.5 693.7 383.5 692.3 384.8 695.2 385.6 694.8 386.7 694.8 387.7 692.5 388.8 691.4 390.0 690.8 390.9 690.6 391.9 691.2 393.0 691.5 394.0 695.5 395.1 697.1 396.1 696.4 397.2 694.4 398.8 697.3 400.3 698.4 401.4 693.5 402.4 695.6 403.5 695.0 404.5 694.6 405.6 696.8 406.6 692.7 407.7 691.0 409.2 694.0 410.8 693.4 411.9 691.4 412.9 690.5 414.0 696.2 415.0 690.8 416.1 690.6 417.1 692.0 418.0 690.4 419.2 692.3 420.3 695.9 421.3 694.0 422.4 698.0 423.4 697.2 424.5 697.8 425.5 700.9 426.8 701.9 427.6 700.3 428.7 697.5 429.7 697.7 430.8 696.3 431.8 696.7 432.9 695.7 433.9 695.1 435.5 693.4 437.1 694.9 438.1 698.4 439.2 695.9 440.2 695.6 441.3 697.3 442.3 700.2 443.4 698.0 444.2 698.2 445.5 700.6 446.5 699.8 447.6 698.9 448.6 700.1 449.7 699.2 450.4 700.3 451.8 699.8 452.8 699.1 453.9 696.5 454.9 692.5 455.6 694.9 457.0 697.1 458.1 696.7 459.1 701.1 460.0 702.0 461.2 701.0 462.3 701.9 463.3 701.2 464.4 704.0 465.4 702.2 466.5 699.2 467.5 701.9 468.8 699.6 469.6 701.1 470.7 698.0 471.7 700.4 472.8 701.8 473.8 702.4 474.9 705.8 475.8 706.6 477.0 705.4 478.0 705.3 479.1 704.1 480.1 703.5 481.2 701.4 482.2 703.3 483.3 701.6 484.5 700.8 485.4 705.7 486.4 705.3 488.0 707.4 489.6 708.0 490.6 709.1 491.7 708.0 492.7 711.0 493.8 708.9 495.0 709.1 495.9 707.9 496.9 708.7 498.0 710.5 499.0 712.0 500.1 713.0 501.1 713.0 502.2 712.9 503.8 713.6 505.3 714.2 506.4 713.2 507.4 710.3 509.0 710.3 510.6 711.5 511.6 712.6 512.7 714.3 514.2 713.2 515.8 718.0 516.9 720.6 517.8 723.3 519.0 718.8 520.4 716.3 521.1 714.9 522.1 718.4 523.2 718.6 524.2 715.2 525.3 714.7 526.5 715.1 527.4 716.3 528.4 714.5 529.5 716.3 530.5 718.8 531.6 719.5 532.6 717.4 533.7 720.7 534.7 717.6 535.8 719.2 537.0 720.0 537.9 720.4 538.9 719.4 540.0 720.7 541.0 721.3 542.1 720.2 543.1 721.5 544.2 722.2 545.2 722.8 546.3 722.2 547.5 721.8 548.4 722.6 549.4 720.9 550.5 724.7 551.5 723.0 552.6 720.5 553.6 722.0 554.7 723.6 555.7 721.4 556.8 721.1 557.8 723.0 558.9 722.0"/>
<path class="cv" stroke="#8c1616" stroke-opacity="0.6" stroke-width="1" d="M156.7 753.9 157.9 756.5 158.8 756.6 159.8 755.3 160.9 754.1 161.9 753.0 163.0 752.2 164.0 752.3 165.1 752.0 165.8 750.8 167.2 750.5 168.2 752.3 169.3 751.4 170.3 751.9 171.0 751.8 172.4 751.0 173.5 749.7 174.5 747.9 175.6 747.0 176.2 746.4 177.7 748.0 178.7 746.5 179.8 745.6 180.8 745.7 181.9 745.9 182.9 745.5 184.0 746.1 185.0 745.5 186.1 745.5 187.1 744.3 188.2 743.3 189.2 743.4 190.3 742.3 191.3 741.8 192.4 742.0 193.4 741.0 194.5 741.4 195.5 739.5 196.6 740.1 197.6 740.3 198.7 739.7 199.7 740.2 200.8 740.5 201.8 738.3 202.9 736.2 204.2 734.3 205.0 734.3 206.0 735.3 207.1 733.5 208.1 732.3 209.2 735.5 210.2 732.9 211.3 733.0 212.3 733.2 213.4 734.0 214.4 734.2 215.5 733.9 216.5 732.6 217.6 732.3 218.6 730.3 219.7 729.1 220.7 727.7 221.8 727.3 222.8 728.1 223.9 726.4 224.9 725.0 226.0 725.8 227.0 726.8 228.1 724.9 229.1 725.9 230.2 726.4 231.2 725.7 232.2 725.4 233.3 725.7 234.4 722.4 235.4 723.8 236.5 723.9 237.5 722.5 238.6 721.2 239.6 722.8 240.7 721.6 241.7 718.9 242.8 719.8 243.8 718.9 244.9 715.9 246.2 717.7 247.0 716.1 248.0 717.7 249.1 716.8 250.1 722.4 251.2 720.5 252.2 721.7 253.2 721.2 254.3 716.5 255.4 716.1 256.4 717.6 257.5 713.8 258.5 713.0 259.6 714.7 260.6 713.4 261.7 713.7 262.7 717.0 263.8 715.8 264.8 715.7 265.9 714.5 266.9 715.0 268.0 711.7 269.0 711.7 270.1 711.5 271.1 709.7 272.5 709.0 273.2 708.2 274.3 711.6 275.3 708.4 276.4 711.2 277.4 711.8 278.5 709.6 279.5 712.1 280.4 713.4 281.6 710.0 282.7 709.6 283.7 713.0 284.8 706.8 285.8 708.6 286.5 706.0 287.9 704.2 289.0 704.5 290.0 701.9 291.1 704.1 292.1 701.8 293.2 702.1 294.2 702.5 295.2 700.6 296.3 703.0 297.4 701.8 298.4 700.9 299.5 701.7 300.5 702.5 301.6 702.5 302.2 702.3 303.7 704.2 304.7 700.2 305.8 700.4 306.8 702.6 307.9 702.9 308.9 700.8 310.0 700.2 311.0 699.6 312.1 700.8 313.1 701.4 314.2 700.3 315.2 701.4 316.3 698.6 317.3 699.7 318.0 700.1 319.4 695.2 320.5 699.5 321.5 700.7 322.6 694.8 324.1 697.3 324.7 698.6 325.7 698.3 326.8 702.6 327.6 703.6 328.9 704.7 329.9 702.7 331.0 704.3 332.0 701.6 333.1 698.1 334.1 698.2 335.5 699.6 336.2 699.3 337.3 696.4 338.3 696.6 339.4 696.0 340.4 696.0 341.6 694.4 342.5 695.4 343.6 695.7 344.6 698.5 345.7 698.3 346.7 700.0 347.8 698.6 348.8 698.7 349.9 694.8 350.9 694.6 352.0 697.1 353.0 696.2 354.1 696.2 354.8 696.2 356.2 696.1 357.2 693.2 358.0 694.3 359.4 696.1 360.4 697.2 362.0 697.2 363.6 694.4 364.6 693.1 365.7 691.7 367.2 692.7 368.8 690.4 369.9 690.6 370.9 690.9 372.0 690.3 373.0 693.4 374.1 692.6 375.1 691.9 376.2 691.4 377.8 692.2 379.3 693.3 380.4 694.0 381.4 694.6 382.5 693.2 383.5 692.0 384.8 695.0 385.6 694.9 386.7 694.6 387.7 692.2 388.8 690.9 390.0 690.5 390.9 690.5 391.9 690.6 393.0 691.2 394.0 695.4 395.1 696.4 396.1 696.3 397.2 693.9 398.8 696.8 400.3 698.2 401.4 693.2 402.4 695.0 403.5 694.2 404.5 694.6 405.6 696.4 406.6 692.3 407.7 690.7 409.2 694.3 410.8 692.7 411.9 690.9 412.9 690.4 414.0 695.6 415.0 690.4 416.1 690.0 417.1 691.9 418.0 690.3 419.2 692.1 420.3 695.7 421.3 693.9 422.4 697.6 423.4 697.2 424.5 697.8 425.5 700.9 426.8 701.5 427.6 700.0 428.7 696.8 429.7 697.2 430.8 696.0 431.8 696.5 432.9 695.1 433.9 694.9 435.5 693.1 437.1 694.6 438.1 698.1 439.2 695.5 440.2 695.2 441.3 697.4 442.3 699.8 443.4 697.6 444.2 698.0 445.5 700.0 446.5 699.4 447.6 698.1 448.6 699.8 449.7 699.3 450.4 699.8 451.8 699.4 452.8 698.6 453.9 696.1 454.9 692.5 455.6 694.3 457.0 697.1 458.1 696.1 459.1 700.6 460.0 701.5 461.2 700.5 462.3 701.4 463.3 700.9 464.4 704.1 465.4 701.6 466.5 698.8 467.5 701.3 468.8 699.2 469.6 700.5 470.7 697.6 471.7 699.8 472.8 701.9 473.8 701.9 474.9 705.3 475.8 706.4 477.0 704.8 478.0 705.1 479.1 703.5 480.1 703.2 481.2 701.0 482.2 702.6 483.3 701.6 484.5 700.6 485.4 705.0 486.4 705.1 488.0 707.1 489.6 707.6 490.6 708.7 491.7 707.8 492.7 710.4 493.8 708.5 495.0 708.9 495.9 707.4 496.9 708.6 498.0 710.0 499.0 711.6 500.1 712.7 501.1 712.3 502.2 712.8 503.8 713.1 505.3 713.7 506.4 712.6 507.4 710.0 509.0 710.1 510.6 711.2 511.6 712.2 512.7 714.2 514.2 712.4 515.8 717.6 516.9 720.2 517.8 722.9 519.0 718.3 520.4 716.0 521.1 714.5 522.1 718.1 523.2 718.6 524.2 715.1 525.3 714.4 526.5 714.7 527.4 715.7 528.4 714.1 529.5 716.4 530.5 718.3 531.6 719.1 532.6 717.0 533.7 720.5 534.7 717.1 535.8 718.8 537.0 719.8 537.9 719.9 538.9 719.1 540.0 720.4 541.0 720.5 542.1 719.9 543.1 721.2 544.2 722.2 545.2 722.4 546.3 721.7 547.5 721.6 548.4 722.5 549.4 720.6 550.5 724.5 551.5 723.1 552.6 720.2 553.6 721.5 554.7 723.2 555.7 721.2 556.8 720.7 557.8 722.5 558.9 721.7"/>
<path class="cv " stroke="#52100e" stroke-width="1" d="M156.7 754.0 157.9 756.6 158.8 756.7 159.8 755.4 160.9 754.2 161.9 753.1 163.0 752.3 164.0 752.4 165.1 752.1 165.8 750.9 167.2 750.6 168.2 752.3 169.3 751.5 170.3 752.0 171.0 751.9 172.4 751.1 173.5 749.8 174.5 747.9 175.6 747.0 176.2 746.5 177.7 748.1 178.7 746.7 179.8 745.6 180.8 745.8 181.9 745.9 182.9 745.7 184.0 746.2 185.0 745.7 186.1 745.5 187.1 744.4 188.2 743.3 189.2 743.4 190.3 742.5 191.3 741.9 192.4 742.0 193.4 741.0 194.5 741.5 195.5 739.7 196.6 740.3 197.6 740.4 198.7 739.8 199.7 740.3 200.8 740.6 201.8 738.5 202.9 736.3 204.2 734.3 205.0 734.3 206.0 735.4 207.1 733.6 208.1 732.3 209.2 735.7 210.2 732.9 211.3 733.2 212.3 733.3 213.4 734.1 214.4 734.5 215.5 733.9 216.5 732.6 217.6 732.3 218.6 730.6 219.7 729.4 220.7 727.8 221.8 727.4 222.8 728.3 223.9 726.6 224.9 725.2 226.0 725.9 227.0 727.1 228.1 725.2 229.1 726.0 230.2 726.4 231.2 725.7 232.2 725.4 233.3 725.7 234.4 722.4 235.4 724.0 236.5 724.0 237.5 722.6 238.6 721.3 239.6 722.9 240.7 721.7 241.7 719.1 242.8 720.1 243.8 719.0 244.9 715.9 246.2 717.7 247.0 716.1 248.0 717.8 249.1 716.9 250.1 722.6 251.2 720.7 252.2 722.1 253.2 721.3 254.3 716.6 255.4 716.2 256.4 717.5 257.5 713.7 258.5 713.0 259.6 714.8 260.6 713.4 261.7 713.6 262.7 717.2 263.8 715.9 264.8 715.7 265.9 714.7 266.9 714.9 268.0 711.8 269.0 711.8 270.1 711.7 271.1 709.8 272.5 709.1 273.2 708.2 274.3 711.7 275.3 708.4 276.4 711.2 277.4 712.0 278.5 709.7 279.5 712.3 280.4 713.6 281.6 710.2 282.7 709.8 283.7 713.2 284.8 706.9 285.8 708.8 286.5 706.2 287.9 704.4 289.0 704.6 290.0 702.0 291.1 704.5 292.1 701.8 293.2 702.0 294.2 702.6 295.2 700.6 296.3 703.2 297.4 701.8 298.4 701.0 299.5 701.9 300.5 702.4 301.6 702.6 302.2 702.4 303.7 704.3 304.7 700.3 305.8 700.5 306.8 702.7 307.9 703.1 308.9 701.1 310.0 700.1 311.0 699.6 312.1 700.9 313.1 701.7 314.2 700.4 315.2 701.3 316.3 698.7 317.3 700.0 318.0 699.9 319.4 695.3 320.5 699.6 321.5 700.8 322.6 694.7 324.1 697.3 324.7 698.8 325.7 698.5 326.8 702.7 327.6 703.5 328.9 704.8 329.9 702.8 331.0 704.3 332.0 701.6 333.1 698.3 334.1 698.2 335.5 699.6 336.2 699.4 337.3 696.4 338.3 696.6 339.4 696.2 340.4 696.0 341.6 694.5 342.5 695.5 343.6 696.1 344.6 698.5 345.7 698.6 346.7 700.1 347.8 698.5 348.8 698.9 349.9 694.9 350.9 694.8 352.0 697.1 353.0 696.3 354.1 696.4 354.8 696.2 356.2 696.4 357.2 693.3 358.0 694.7 359.4 696.3 360.4 697.3 362.0 697.5 363.6 694.6 364.6 693.1 365.7 692.0 367.2 692.8 368.8 690.5 369.9 690.5 370.9 691.0 372.0 690.5 373.0 693.3 374.1 692.8 375.1 692.1 376.2 691.4 377.8 692.5 379.3 693.2 380.4 693.9 381.4 694.8 382.5 693.4 383.5 692.1 384.8 695.0 385.6 694.8 386.7 694.7 387.7 692.3 388.8 690.9 390.0 690.5 390.9 690.6 391.9 690.8 393.0 691.1 394.0 695.2 395.1 696.6 396.1 696.1 397.2 693.9 398.8 696.9 400.3 698.3 401.4 693.2 402.4 695.2 403.5 694.3 404.5 694.4 405.6 696.5 406.6 692.7 407.7 690.9 409.2 694.2 410.8 693.1 411.9 691.0 412.9 690.5 414.0 695.8 415.0 690.5 416.1 690.5 417.1 691.7 418.0 690.5 419.2 692.1 420.3 695.6 421.3 694.1 422.4 697.8 423.4 697.2 424.5 697.7 425.5 700.8 426.8 701.6 427.6 700.2 428.7 697.1 429.7 697.2 430.8 696.1 431.8 696.6 432.9 695.4 433.9 695.2 435.5 693.3 437.1 694.8 438.1 698.0 439.2 695.6 440.2 695.3 441.3 697.5 442.3 700.0 443.4 697.7 444.2 698.2 445.5 700.0 446.5 699.5 447.6 698.2 448.6 699.8 449.7 699.3 450.4 699.8 451.8 699.6 452.8 698.8 453.9 696.0 454.9 692.5 455.6 694.4 457.0 697.1 458.1 696.2 459.1 700.7 460.0 701.7 461.2 700.7 462.3 701.5 463.3 701.0 464.4 704.2 465.4 701.8 466.5 698.9 467.5 701.5 468.8 699.4 469.6 700.7 470.7 697.6 471.7 699.9 472.8 701.9 473.8 702.2 474.9 705.4 475.8 706.3 477.0 704.9 478.0 705.0 479.1 703.6 480.1 703.5 481.2 701.1 482.2 702.7 483.3 701.7 484.5 700.6 485.4 705.1 486.4 705.1 488.0 707.1 489.6 707.7 490.6 708.9 491.7 707.8 492.7 710.4 493.8 708.5 495.0 708.9 495.9 707.7 496.9 708.7 498.0 710.1 499.0 711.8 500.1 712.7 501.1 712.7 502.2 712.8 503.8 713.2 505.3 714.0 506.4 712.8 507.4 710.1 509.0 710.1 510.6 711.5 511.6 712.5 512.7 714.2 514.2 712.6 515.8 717.7 516.9 720.3 517.8 722.9 519.0 718.5 520.4 716.2 521.1 714.6 522.1 718.2 523.2 718.9 524.2 715.1 525.3 714.4 526.5 714.7 527.4 715.7 528.4 714.2 529.5 716.3 530.5 718.3 531.6 719.3 532.6 717.1 533.7 720.6 534.7 717.2 535.8 718.8 537.0 719.9 537.9 720.1 538.9 719.2 540.0 720.5 541.0 720.8 542.1 719.9 543.1 721.2 544.2 722.2 545.2 722.6 546.3 721.8 547.5 721.6 548.4 722.5 549.4 720.6 550.5 724.7 551.5 723.0 552.6 720.3 553.6 721.6 554.7 723.3 555.7 721.4 556.8 720.9 557.8 722.5 558.9 721.9"/>
<path class="ax" d="M156.5 690V757.5H559"/>
<path class="ax" d="M238.5 757v-5"/>
<path class="ax" d="M332.5 757v-5"/>
<path class="ax" d="M426.5 757v-5"/>
<path class="ax" d="M521.5 757v-5"/>
<path class="ax" d="M157 700.5h5"/>
<path class="ax" d="M157 720.5h5"/>
<path class="ax" d="M157 740.5h5"/>
<text transform="translate(238.50 793.00) scale(0.975 1.07)" text-anchor="middle" font-size="24.0">2485</text>
<text transform="translate(331.50 793.00) scale(0.975 1.07)" text-anchor="middle" font-size="24.0">2490</text>
<text transform="translate(426.50 793.00) scale(0.975 1.07)" text-anchor="middle" font-size="24.0">2495</text>
<text transform="translate(520.50 793.00) scale(0.975 1.07)" text-anchor="middle" font-size="24.0">2500</text>
<text transform="translate(149.50 712.00) scale(0.975 1.07)" text-anchor="end" font-size="24.0">40</text>
<text transform="translate(149.50 732.00) scale(0.975 1.07)" text-anchor="end" font-size="24.0">30</text>
<text transform="translate(149.50 752.00) scale(0.975 1.07)" text-anchor="end" font-size="24.0">20</text>
<text transform="translate(328.30 670.00) scale(1.03 1.115)" text-anchor="start" font-size="24.0">Bin 7</text>
<text transform="translate(110.00 725.30) rotate(-90) scale(1.02 1.14)" text-anchor="middle" font-size="24.0">ADU</text>
<text transform="translate(250.00 830.20) scale(1.013 1.09)" text-anchor="start" font-size="24.0">Wavenumber [cm</text>
<text transform="translate(440.00 818.20) scale(1.0 1.0)" text-anchor="start" font-size="18.0">-1</text>
<text transform="translate(456.50 830.20) scale(1.0 1.09)" text-anchor="start" font-size="24.0">]</text>
</g>
<g id="bin8">
<path class="gr" d="M766.5 753V690"/>
<path class="gr" d="M860.5 753V690"/>
<path class="gr" d="M955.5 752V690"/>
<path class="gr" d="M1049.5 754V690"/>
<path class="gr" d="M684 707.5H1087"/>
<path class="gr" d="M684 731.5H1087"/>
<path class="gr" d="M684 755.5H1087"/>
<path class="cv" stroke="#6fe6f0" stroke-opacity="0.12" stroke-width="1.8" transform="translate(0.3 1.3)" d="M684.6 756.3 685.7 756.4 686.8 756.2 687.8 755.7 688.9 754.9 689.9 754.8 691.0 754.1 692.0 753.3 693.1 751.9 694.1 751.1 695.5 749.8 696.2 750.0 697.3 750.7 698.3 751.6 699.0 750.9 700.4 749.9 701.5 749.7 702.5 749.3 703.6 748.1 704.6 747.9 705.7 747.2 706.7 746.7 707.8 746.8 708.8 745.9 709.9 745.8 710.9 745.5 712.0 744.2 713.0 746.1 714.1 744.8 715.1 745.1 716.2 744.2 717.2 744.5 718.2 744.1 719.3 741.7 720.4 741.4 721.4 741.6 722.5 737.7 723.5 737.0 724.6 737.8 725.6 737.5 726.7 738.1 727.7 739.4 728.8 739.4 729.8 738.8 730.5 739.5 731.9 738.6 733.0 738.2 734.0 738.4 735.1 736.7 736.1 735.0 737.2 735.9 738.2 734.8 739.3 734.2 740.3 734.3 741.4 733.4 742.4 732.1 743.5 734.0 744.5 731.7 745.6 730.6 747.1 727.2 747.7 730.0 748.7 729.6 749.8 732.1 750.8 732.8 751.9 732.2 752.9 731.6 754.0 728.4 755.0 728.6 756.1 726.7 756.8 726.5 758.2 725.7 759.2 723.5 760.3 726.4 761.3 725.0 762.4 722.4 763.4 723.1 764.5 720.8 765.5 722.0 766.6 723.9 767.6 722.5 768.7 723.2 769.7 724.9 770.8 722.4 771.8 724.2 772.5 723.7 773.9 723.6 775.0 721.0 776.0 722.0 777.1 717.0 777.8 718.0 779.2 719.2 780.2 721.8 781.2 722.0 782.3 719.7 783.4 718.6 784.4 717.8 785.5 715.8 786.5 714.8 787.6 716.1 788.6 716.8 789.7 715.9 790.7 716.4 791.8 716.2 792.8 717.2 793.9 716.5 795.2 717.0 796.0 718.3 797.0 714.1 798.1 713.0 799.1 710.9 800.5 711.5 801.2 711.7 802.3 712.5 803.3 711.1 804.4 712.1 805.4 709.8 806.5 709.7 807.5 709.3 808.6 712.4 809.6 714.1 810.7 712.3 811.7 711.3 812.8 713.2 813.8 712.3 814.9 710.8 815.9 708.5 817.0 707.4 818.0 707.3 819.1 707.2 819.8 704.9 821.2 706.1 822.2 704.4 823.3 703.8 824.3 706.0 825.9 701.6 827.5 701.6 828.5 705.7 829.6 706.0 830.6 705.0 831.7 702.7 832.7 703.3 833.8 700.7 834.8 701.7 835.9 700.5 836.9 702.2 838.0 699.3 839.0 702.8 840.1 700.2 840.8 702.7 842.2 702.2 843.2 703.0 844.3 701.5 845.3 700.2 846.4 699.8 847.4 700.8 848.5 699.2 849.5 697.2 850.6 698.0 851.6 697.2 852.7 696.9 853.7 695.1 854.8 699.1 855.8 696.8 856.5 699.3 857.9 699.9 859.0 700.0 860.0 703.7 861.1 703.2 861.8 703.6 863.2 703.7 864.2 700.0 865.3 703.3 866.3 699.4 867.4 700.4 868.8 698.2 869.5 697.3 870.5 699.1 871.6 697.9 872.6 696.8 874.0 697.5 874.7 701.0 875.8 699.1 876.8 699.7 878.4 702.8 880.0 701.4 881.0 702.5 882.1 700.3 883.0 698.4 884.2 697.3 885.2 695.4 886.5 693.6 887.4 691.7 888.4 694.5 889.5 695.7 890.5 696.6 891.6 696.9 892.6 695.6 893.5 695.9 894.7 694.9 895.8 698.2 896.8 694.8 897.9 692.3 898.9 690.5 900.0 690.5 901.4 692.0 902.1 692.2 903.1 691.6 904.2 692.6 905.2 693.4 906.3 695.8 907.3 692.4 908.4 697.1 909.2 695.6 910.5 696.1 911.5 693.1 912.6 694.3 913.6 693.3 914.5 692.6 915.7 695.8 916.8 699.3 917.8 695.0 918.9 699.1 919.9 698.9 921.0 697.8 922.4 700.8 923.1 698.4 924.1 699.0 925.2 699.8 926.2 696.1 927.3 697.0 928.3 696.0 929.4 694.3 930.4 696.9 931.5 696.5 932.5 697.9 933.6 695.8 934.6 696.8 935.7 701.4 936.4 700.3 937.8 698.3 939.0 695.2 939.9 696.6 940.9 698.9 942.0 693.2 943.0 691.9 944.1 691.2 945.1 693.5 946.2 694.3 947.8 691.4 949.3 697.0 950.4 694.6 951.4 691.6 952.1 694.5 953.5 699.3 954.6 697.7 955.6 699.0 956.5 702.9 957.7 702.9 958.8 701.2 959.8 703.4 960.9 701.0 961.9 701.0 962.6 698.3 964.0 701.4 965.1 696.3 966.1 701.1 967.0 701.9 968.2 701.0 969.3 699.6 970.3 695.9 971.4 696.9 972.4 697.5 973.1 696.0 974.5 695.8 975.6 698.9 976.6 697.3 977.7 697.8 978.7 699.7 979.8 701.1 980.8 702.6 981.9 703.3 982.8 703.1 984.0 702.7 985.0 700.3 986.2 698.4 987.1 701.3 988.2 700.6 989.2 701.5 990.3 702.9 991.3 704.6 992.4 706.5 993.2 706.8 994.5 705.3 995.5 706.9 996.6 703.6 997.6 705.8 998.7 703.4 999.7 702.5 1000.8 701.7 1002.0 702.7 1002.9 702.5 1003.9 704.9 1005.0 702.6 1006.0 705.0 1007.1 708.2 1008.1 707.8 1009.2 707.7 1009.9 709.7 1011.3 706.4 1012.3 704.4 1013.4 701.8 1014.4 704.9 1015.5 704.6 1016.5 703.7 1017.6 706.7 1018.6 708.0 1019.7 709.4 1020.7 708.2 1021.8 708.2 1023.0 711.0 1023.9 709.2 1024.9 710.8 1026.0 713.5 1027.0 711.4 1028.1 709.3 1029.1 711.8 1030.2 712.7 1031.8 711.4 1033.3 711.9 1034.4 713.5 1035.4 711.8 1037.0 715.1 1038.6 715.2 1039.6 715.2 1040.7 715.9 1041.7 714.0 1042.8 715.5 1044.0 714.4 1044.9 717.0 1045.9 718.7 1046.6 720.7 1048.0 719.0 1049.2 716.2 1050.1 717.1 1051.2 718.4 1052.2 717.5 1053.3 718.9 1054.3 716.8 1055.4 717.0 1056.4 718.2 1057.5 719.2 1058.5 719.6 1059.8 718.3 1060.6 718.6 1061.7 719.1 1063.2 721.6 1064.8 720.0 1065.9 720.5 1066.9 720.4 1067.6 718.4 1069.0 719.7 1070.1 719.4 1071.1 722.1 1072.2 722.2 1073.2 722.6 1074.3 722.1 1075.3 724.3 1076.4 725.2 1077.2 725.4 1078.5 725.5 1079.5 725.7 1080.6 724.7 1081.6 723.3 1082.7 722.6 1084.2 724.4 1085.8 724.3 1086.9 721.8"/>
<path class="cv" stroke="#ffa040" stroke-opacity="0.33" stroke-width="1.4" transform="translate(-0.3 -1.0)" d="M684.6 756.3 685.7 756.4 686.8 756.2 687.8 755.7 688.9 754.9 689.9 754.8 691.0 754.1 692.0 753.3 693.1 751.9 694.1 751.1 695.5 749.8 696.2 750.0 697.3 750.7 698.3 751.6 699.0 750.9 700.4 749.9 701.5 749.7 702.5 749.3 703.6 748.1 704.6 747.9 705.7 747.2 706.7 746.7 707.8 746.8 708.8 745.9 709.9 745.8 710.9 745.5 712.0 744.2 713.0 746.1 714.1 744.8 715.1 745.1 716.2 744.2 717.2 744.5 718.2 744.1 719.3 741.7 720.4 741.4 721.4 741.6 722.5 737.7 723.5 737.0 724.6 737.8 725.6 737.5 726.7 738.1 727.7 739.4 728.8 739.4 729.8 738.8 730.5 739.5 731.9 738.6 733.0 738.2 734.0 738.4 735.1 736.7 736.1 735.0 737.2 735.9 738.2 734.8 739.3 734.2 740.3 734.3 741.4 733.4 742.4 732.1 743.5 734.0 744.5 731.7 745.6 730.6 747.1 727.2 747.7 730.0 748.7 729.6 749.8 732.1 750.8 732.8 751.9 732.2 752.9 731.6 754.0 728.4 755.0 728.6 756.1 726.7 756.8 726.5 758.2 725.7 759.2 723.5 760.3 726.4 761.3 725.0 762.4 722.4 763.4 723.1 764.5 720.8 765.5 722.0 766.6 723.9 767.6 722.5 768.7 723.2 769.7 724.9 770.8 722.4 771.8 724.2 772.5 723.7 773.9 723.6 775.0 721.0 776.0 722.0 777.1 717.0 777.8 718.0 779.2 719.2 780.2 721.8 781.2 722.0 782.3 719.7 783.4 718.6 784.4 717.8 785.5 715.8 786.5 714.8 787.6 716.1 788.6 716.8 789.7 715.9 790.7 716.4 791.8 716.2 792.8 717.2 793.9 716.5 795.2 717.0 796.0 718.3 797.0 714.1 798.1 713.0 799.1 710.9 800.5 711.5 801.2 711.7 802.3 712.5 803.3 711.1 804.4 712.1 805.4 709.8 806.5 709.7 807.5 709.3 808.6 712.4 809.6 714.1 810.7 712.3 811.7 711.3 812.8 713.2 813.8 712.3 814.9 710.8 815.9 708.5 817.0 707.4 818.0 707.3 819.1 707.2 819.8 704.9 821.2 706.1 822.2 704.4 823.3 703.8 824.3 706.0 825.9 701.6 827.5 701.6 828.5 705.7 829.6 706.0 830.6 705.0 831.7 702.7 832.7 703.3 833.8 700.7 834.8 701.7 835.9 700.5 836.9 702.2 838.0 699.3 839.0 702.8 840.1 700.2 840.8 702.7 842.2 702.2 843.2 703.0 844.3 701.5 845.3 700.2 846.4 699.8 847.4 700.8 848.5 699.2 849.5 697.2 850.6 698.0 851.6 697.2 852.7 696.9 853.7 695.1 854.8 699.1 855.8 696.8 856.5 699.3 857.9 699.9 859.0 700.0 860.0 703.7 861.1 703.2 861.8 703.6 863.2 703.7 864.2 700.0 865.3 703.3 866.3 699.4 867.4 700.4 868.8 698.2 869.5 697.3 870.5 699.1 871.6 697.9 872.6 696.8 874.0 697.5 874.7 701.0 875.8 699.1 876.8 699.7 878.4 702.8 880.0 701.4 881.0 702.5 882.1 700.3 883.0 698.4 884.2 697.3 885.2 695.4 886.5 693.6 887.4 691.7 888.4 694.5 889.5 695.7 890.5 696.6 891.6 696.9 892.6 695.6 893.5 695.9 894.7 694.9 895.8 698.2 896.8 694.8 897.9 692.3 898.9 690.5 900.0 690.5 901.4 692.0 902.1 692.2 903.1 691.6 904.2 692.6 905.2 693.4 906.3 695.8 907.3 692.4 908.4 697.1 909.2 695.6 910.5 696.1 911.5 693.1 912.6 694.3 913.6 693.3 914.5 692.6 915.7 695.8 916.8 699.3 917.8 695.0 918.9 699.1 919.9 698.9 921.0 697.8 922.4 700.8 923.1 698.4 924.1 699.0 925.2 699.8 926.2 696.1 927.3 697.0 928.3 696.0 929.4 694.3 930.4 696.9 931.5 696.5 932.5 697.9 933.6 695.8 934.6 696.8 935.7 701.4 936.4 700.3 937.8 698.3 939.0 695.2 939.9 696.6 940.9 698.9 942.0 693.2 943.0 691.9 944.1 691.2 945.1 693.5 946.2 694.3 947.8 691.4 949.3 697.0 950.4 694.6 951.4 691.6 952.1 694.5 953.5 699.3 954.6 697.7 955.6 699.0 956.5 702.9 957.7 702.9 958.8 701.2 959.8 703.4 960.9 701.0 961.9 701.0 962.6 698.3 964.0 701.4 965.1 696.3 966.1 701.1 967.0 701.9 968.2 701.0 969.3 699.6 970.3 695.9 971.4 696.9 972.4 697.5 973.1 696.0 974.5 695.8 975.6 698.9 976.6 697.3 977.7 697.8 978.7 699.7 979.8 701.1 980.8 702.6 981.9 703.3 982.8 703.1 984.0 702.7 985.0 700.3 986.2 698.4 987.1 701.3 988.2 700.6 989.2 701.5 990.3 702.9 991.3 704.6 992.4 706.5 993.2 706.8 994.5 705.3 995.5 706.9 996.6 703.6 997.6 705.8 998.7 703.4 999.7 702.5 1000.8 701.7 1002.0 702.7 1002.9 702.5 1003.9 704.9 1005.0 702.6 1006.0 705.0 1007.1 708.2 1008.1 707.8 1009.2 707.7 1009.9 709.7 1011.3 706.4 1012.3 704.4 1013.4 701.8 1014.4 704.9 1015.5 704.6 1016.5 703.7 1017.6 706.7 1018.6 708.0 1019.7 709.4 1020.7 708.2 1021.8 708.2 1023.0 711.0 1023.9 709.2 1024.9 710.8 1026.0 713.5 1027.0 711.4 1028.1 709.3 1029.1 711.8 1030.2 712.7 1031.8 711.4 1033.3 711.9 1034.4 713.5 1035.4 711.8 1037.0 715.1 1038.6 715.2 1039.6 715.2 1040.7 715.9 1041.7 714.0 1042.8 715.5 1044.0 714.4 1044.9 717.0 1045.9 718.7 1046.6 720.7 1048.0 719.0 1049.2 716.2 1050.1 717.1 1051.2 718.4 1052.2 717.5 1053.3 718.9 1054.3 716.8 1055.4 717.0 1056.4 718.2 1057.5 719.2 1058.5 719.6 1059.8 718.3 1060.6 718.6 1061.7 719.1 1063.2 721.6 1064.8 720.0 1065.9 720.5 1066.9 720.4 1067.6 718.4 1069.0 719.7 1070.1 719.4 1071.1 722.1 1072.2 722.2 1073.2 722.6 1074.3 722.1 1075.3 724.3 1076.4 725.2 1077.2 725.4 1078.5 725.5 1079.5 725.7 1080.6 724.7 1081.6 723.3 1082.7 722.6 1084.2 724.4 1085.8 724.3 1086.9 721.8"/>
<path class="cv" stroke="#8c1616" stroke-opacity="0.6" stroke-width="1" d="M684.6 756.2 685.7 756.4 686.8 756.1 687.8 755.6 688.9 754.9 689.9 754.7 691.0 754.0 692.0 753.2 693.1 751.8 694.1 751.0 695.5 749.8 696.2 749.9 697.3 750.6 698.3 751.4 699.0 750.7 700.4 749.9 701.5 749.7 702.5 749.1 703.6 748.1 704.6 747.8 705.7 747.0 706.7 746.5 707.8 746.7 708.8 745.8 709.9 745.7 710.9 745.3 712.0 744.2 713.0 746.0 714.1 744.8 715.1 745.0 716.2 744.2 717.2 744.3 718.2 744.1 719.3 741.6 720.4 741.4 721.4 741.5 722.5 737.6 723.5 736.9 724.6 737.6 725.6 737.4 726.7 737.8 727.7 739.3 728.8 739.3 729.8 738.7 730.5 739.3 731.9 738.4 733.0 738.2 734.0 738.3 735.1 736.5 736.1 734.8 737.2 735.7 738.2 734.7 739.3 734.1 740.3 734.1 741.4 733.4 742.4 732.1 743.5 733.9 744.5 731.6 745.6 730.4 747.1 727.2 747.7 729.8 748.7 729.5 749.8 732.0 750.8 732.7 751.9 732.1 752.9 731.4 754.0 728.4 755.0 728.5 756.1 726.6 756.8 726.4 758.2 725.7 759.2 723.5 760.3 726.3 761.3 724.9 762.4 722.3 763.4 723.0 764.5 720.7 765.5 721.9 766.6 723.8 767.6 722.2 768.7 723.0 769.7 724.8 770.8 722.3 771.8 724.0 772.5 723.7 773.9 723.5 775.0 720.9 776.0 721.7 777.1 717.0 777.8 718.0 779.2 719.2 780.2 721.8 781.2 722.0 782.3 719.4 783.4 718.4 784.4 717.9 785.5 715.7 786.5 714.7 787.6 716.0 788.6 716.7 789.7 715.8 790.7 716.3 791.8 716.2 792.8 717.1 793.9 716.4 795.2 716.9 796.0 718.0 797.0 713.9 798.1 713.0 799.1 710.7 800.5 711.4 801.2 711.7 802.3 712.5 803.3 711.1 804.4 712.0 805.4 709.7 806.5 709.6 807.5 709.2 808.6 712.4 809.6 714.1 810.7 712.1 811.7 711.1 812.8 713.1 813.8 712.4 814.9 710.7 815.9 708.5 817.0 707.2 818.0 707.0 819.1 707.0 819.8 704.8 821.2 705.9 822.2 704.2 823.3 703.9 824.3 705.9 825.9 701.5 827.5 701.6 828.5 705.4 829.6 706.0 830.6 705.0 831.7 702.7 832.7 703.3 833.8 700.4 834.8 701.8 835.9 700.4 836.9 702.1 838.0 699.1 839.0 702.6 840.1 700.0 840.8 702.6 842.2 702.1 843.2 703.0 844.3 701.3 845.3 700.2 846.4 699.7 847.4 700.7 848.5 699.2 849.5 697.2 850.6 698.0 851.6 697.1 852.7 696.9 853.7 695.0 854.8 699.0 855.8 697.0 856.5 699.0 857.9 699.8 859.0 700.1 860.0 703.6 861.1 703.1 861.8 703.5 863.2 703.8 864.2 699.8 865.3 703.3 866.3 699.2 867.4 700.2 868.8 698.3 869.5 697.0 870.5 699.2 871.6 697.9 872.6 696.7 874.0 697.6 874.7 700.8 875.8 699.2 876.8 699.4 878.4 702.8 880.0 701.4 881.0 702.4 882.1 700.2 883.0 698.3 884.2 697.2 885.2 695.4 886.5 693.5 887.4 691.6 888.4 694.1 889.5 695.5 890.5 696.8 891.6 696.9 892.6 695.3 893.5 695.8 894.7 694.7 895.8 698.1 896.8 694.4 897.9 692.2 898.9 690.6 900.0 690.3 901.4 691.9 902.1 692.0 903.1 691.8 904.2 692.5 905.2 693.2 906.3 695.7 907.3 692.3 908.4 696.9 909.2 695.3 910.5 696.0 911.5 693.0 912.6 694.1 913.6 693.6 914.5 692.5 915.7 695.8 916.8 699.0 917.8 695.0 918.9 698.9 919.9 698.9 921.0 697.7 922.4 700.5 923.1 698.3 924.1 698.8 925.2 699.5 926.2 696.1 927.3 696.9 928.3 695.9 929.4 694.3 930.4 696.6 931.5 696.0 932.5 697.7 933.6 695.8 934.6 696.7 935.7 701.4 936.4 700.2 937.8 698.1 939.0 695.0 939.9 696.5 940.9 699.0 942.0 693.0 943.0 692.1 944.1 691.2 945.1 693.5 946.2 694.1 947.8 691.6 949.3 696.8 950.4 694.6 951.4 691.5 952.1 694.5 953.5 699.2 954.6 697.7 955.6 699.0 956.5 702.8 957.7 702.8 958.8 701.1 959.8 703.4 960.9 700.9 961.9 701.1 962.6 698.0 964.0 701.5 965.1 696.3 966.1 700.8 967.0 701.5 968.2 700.9 969.3 699.3 970.3 695.8 971.4 697.0 972.4 697.2 973.1 696.0 974.5 695.9 975.6 699.1 976.6 697.2 977.7 697.8 978.7 699.6 979.8 700.9 980.8 702.7 981.9 703.2 982.8 703.1 984.0 702.6 985.0 700.2 986.2 698.5 987.1 701.2 988.2 700.6 989.2 701.4 990.3 702.8 991.3 704.7 992.4 706.4 993.2 706.8 994.5 705.2 995.5 706.9 996.6 703.4 997.6 705.7 998.7 703.5 999.7 702.3 1000.8 701.5 1002.0 702.6 1002.9 702.3 1003.9 704.8 1005.0 702.4 1006.0 704.8 1007.1 708.1 1008.1 707.7 1009.2 707.6 1009.9 709.5 1011.3 706.4 1012.3 704.1 1013.4 701.5 1014.4 704.8 1015.5 704.7 1016.5 703.6 1017.6 706.6 1018.6 707.9 1019.7 709.2 1020.7 708.2 1021.8 708.0 1023.0 711.1 1023.9 709.0 1024.9 710.8 1026.0 713.4 1027.0 711.4 1028.1 709.3 1029.1 711.8 1030.2 712.7 1031.8 711.4 1033.3 711.8 1034.4 713.4 1035.4 711.8 1037.0 715.0 1038.6 715.1 1039.6 715.1 1040.7 715.9 1041.7 714.0 1042.8 715.5 1044.0 714.3 1044.9 716.9 1045.9 718.7 1046.6 720.6 1048.0 718.9 1049.2 716.2 1050.1 717.0 1051.2 718.4 1052.2 717.5 1053.3 718.9 1054.3 716.7 1055.4 717.0 1056.4 718.1 1057.5 719.2 1058.5 719.6 1059.8 718.2 1060.6 718.4 1061.7 718.7 1063.2 721.6 1064.8 720.1 1065.9 720.3 1066.9 720.3 1067.6 718.3 1069.0 719.6 1070.1 719.3 1071.1 721.8 1072.2 722.1 1073.2 722.5 1074.3 722.0 1075.3 724.1 1076.4 725.1 1077.2 725.3 1078.5 725.5 1079.5 725.5 1080.6 724.6 1081.6 723.1 1082.7 722.5 1084.2 724.4 1085.8 724.1 1086.9 721.7"/>
<path class="cv " stroke="#52100e" stroke-width="1" d="M684.6 756.3 685.7 756.4 686.8 756.2 687.8 755.7 688.9 754.9 689.9 754.8 691.0 754.1 692.0 753.3 693.1 751.9 694.1 751.1 695.5 749.8 696.2 750.0 697.3 750.7 698.3 751.6 699.0 750.9 700.4 749.9 701.5 749.7 702.5 749.3 703.6 748.1 704.6 747.9 705.7 747.2 706.7 746.7 707.8 746.8 708.8 745.9 709.9 745.8 710.9 745.5 712.0 744.2 713.0 746.1 714.1 744.8 715.1 745.1 716.2 744.2 717.2 744.5 718.2 744.1 719.3 741.7 720.4 741.4 721.4 741.6 722.5 737.7 723.5 737.0 724.6 737.8 725.6 737.5 726.7 738.1 727.7 739.4 728.8 739.4 729.8 738.8 730.5 739.5 731.9 738.6 733.0 738.2 734.0 738.4 735.1 736.7 736.1 735.0 737.2 735.9 738.2 734.8 739.3 734.2 740.3 734.3 741.4 733.4 742.4 732.1 743.5 734.0 744.5 731.7 745.6 730.6 747.1 727.2 747.7 730.0 748.7 729.6 749.8 732.1 750.8 732.8 751.9 732.2 752.9 731.6 754.0 728.4 755.0 728.6 756.1 726.7 756.8 726.5 758.2 725.7 759.2 723.5 760.3 726.4 761.3 725.0 762.4 722.4 763.4 723.1 764.5 720.8 765.5 722.0 766.6 723.9 767.6 722.5 768.7 723.2 769.7 724.9 770.8 722.4 771.8 724.2 772.5 723.7 773.9 723.6 775.0 721.0 776.0 722.0 777.1 717.0 777.8 718.0 779.2 719.2 780.2 721.8 781.2 722.0 782.3 719.7 783.4 718.6 784.4 717.8 785.5 715.8 786.5 714.8 787.6 716.1 788.6 716.8 789.7 715.9 790.7 716.4 791.8 716.2 792.8 717.2 793.9 716.5 795.2 717.0 796.0 718.3 797.0 714.1 798.1 713.0 799.1 710.9 800.5 711.5 801.2 711.7 802.3 712.5 803.3 711.1 804.4 712.1 805.4 709.8 806.5 709.7 807.5 709.3 808.6 712.4 809.6 714.1 810.7 712.3 811.7 711.3 812.8 713.2 813.8 712.3 814.9 710.8 815.9 708.5 817.0 707.4 818.0 707.3 819.1 707.2 819.8 704.9 821.2 706.1 822.2 704.4 823.3 703.8 824.3 706.0 825.9 701.6 827.5 701.6 828.5 705.7 829.6 706.0 830.6 705.0 831.7 702.7 832.7 703.3 833.8 700.7 834.8 701.7 835.9 700.5 836.9 702.2 838.0 699.3 839.0 702.8 840.1 700.2 840.8 702.7 842.2 702.2 843.2 703.0 844.3 701.5 845.3 700.2 846.4 699.8 847.4 700.8 848.5 699.2 849.5 697.2 850.6 698.0 851.6 697.2 852.7 696.9 853.7 695.1 854.8 699.1 855.8 696.8 856.5 699.3 857.9 699.9 859.0 700.0 860.0 703.7 861.1 703.2 861.8 703.6 863.2 703.7 864.2 700.0 865.3 703.3 866.3 699.4 867.4 700.4 868.8 698.2 869.5 697.3 870.5 699.1 871.6 697.9 872.6 696.8 874.0 697.5 874.7 701.0 875.8 699.1 876.8 699.7 878.4 702.8 880.0 701.4 881.0 702.5 882.1 700.3 883.0 698.4 884.2 697.3 885.2 695.4 886.5 693.6 887.4 691.7 888.4 694.5 889.5 695.7 890.5 696.6 891.6 696.9 892.6 695.6 893.5 695.9 894.7 694.9 895.8 698.2 896.8 694.8 897.9 692.3 898.9 690.5 900.0 690.5 901.4 692.0 902.1 692.2 903.1 691.6 904.2 692.6 905.2 693.4 906.3 695.8 907.3 692.4 908.4 697.1 909.2 695.6 910.5 696.1 911.5 693.1 912.6 694.3 913.6 693.3 914.5 692.6 915.7 695.8 916.8 699.3 917.8 695.0 918.9 699.1 919.9 698.9 921.0 697.8 922.4 700.8 923.1 698.4 924.1 699.0 925.2 699.8 926.2 696.1 927.3 697.0 928.3 696.0 929.4 694.3 930.4 696.9 931.5 696.5 932.5 697.9 933.6 695.8 934.6 696.8 935.7 701.4 936.4 700.3 937.8 698.3 939.0 695.2 939.9 696.6 940.9 698.9 942.0 693.2 943.0 691.9 944.1 691.2 945.1 693.5 946.2 694.3 947.8 691.4 949.3 697.0 950.4 694.6 951.4 691.6 952.1 694.5 953.5 699.3 954.6 697.7 955.6 699.0 956.5 702.9 957.7 702.9 958.8 701.2 959.8 703.4 960.9 701.0 961.9 701.0 962.6 698.3 964.0 701.4 965.1 696.3 966.1 701.1 967.0 701.9 968.2 701.0 969.3 699.6 970.3 695.9 971.4 696.9 972.4 697.5 973.1 696.0 974.5 695.8 975.6 698.9 976.6 697.3 977.7 697.8 978.7 699.7 979.8 701.1 980.8 702.6 981.9 703.3 982.8 703.1 984.0 702.7 985.0 700.3 986.2 698.4 987.1 701.3 988.2 700.6 989.2 701.5 990.3 702.9 991.3 704.6 992.4 706.5 993.2 706.8 994.5 705.3 995.5 706.9 996.6 703.6 997.6 705.8 998.7 703.4 999.7 702.5 1000.8 701.7 1002.0 702.7 1002.9 702.5 1003.9 704.9 1005.0 702.6 1006.0 705.0 1007.1 708.2 1008.1 707.8 1009.2 707.7 1009.9 709.7 1011.3 706.4 1012.3 704.4 1013.4 701.8 1014.4 704.9 1015.5 704.6 1016.5 703.7 1017.6 706.7 1018.6 708.0 1019.7 709.4 1020.7 708.2 1021.8 708.2 1023.0 711.0 1023.9 709.2 1024.9 710.8 1026.0 713.5 1027.0 711.4 1028.1 709.3 1029.1 711.8 1030.2 712.7 1031.8 711.4 1033.3 711.9 1034.4 713.5 1035.4 711.8 1037.0 715.1 1038.6 715.2 1039.6 715.2 1040.7 715.9 1041.7 714.0 1042.8 715.5 1044.0 714.4 1044.9 717.0 1045.9 718.7 1046.6 720.7 1048.0 719.0 1049.2 716.2 1050.1 717.1 1051.2 718.4 1052.2 717.5 1053.3 718.9 1054.3 716.8 1055.4 717.0 1056.4 718.2 1057.5 719.2 1058.5 719.6 1059.8 718.3 1060.6 718.6 1061.7 719.1 1063.2 721.6 1064.8 720.0 1065.9 720.5 1066.9 720.4 1067.6 718.4 1069.0 719.7 1070.1 719.4 1071.1 722.1 1072.2 722.2 1073.2 722.6 1074.3 722.1 1075.3 724.3 1076.4 725.2 1077.2 725.4 1078.5 725.5 1079.5 725.7 1080.6 724.7 1081.6 723.3 1082.7 722.6 1084.2 724.4 1085.8 724.3 1086.9 721.8"/>
<path class="ax" d="M684.5 690V757.5H1087"/>
<path class="ax" d="M766.5 757v-5"/>
<path class="ax" d="M860.5 757v-5"/>
<path class="ax" d="M955.5 757v-5"/>
<path class="ax" d="M1049.5 757v-5"/>
<path class="ax" d="M685 707.5h5"/>
<path class="ax" d="M685 731.5h5"/>
<path class="ax" d="M685 755.5h5"/>
<text transform="translate(766.50 793.00) scale(0.975 1.07)" text-anchor="middle" font-size="24.0">2485</text>
<text transform="translate(859.50 793.00) scale(0.975 1.07)" text-anchor="middle" font-size="24.0">2490</text>
<text transform="translate(954.50 793.00) scale(0.975 1.07)" text-anchor="middle" font-size="24.0">2495</text>
<text transform="translate(1048.50 793.00) scale(0.975 1.07)" text-anchor="middle" font-size="24.0">2500</text>
<text transform="translate(677.50 719.00) scale(0.975 1.07)" text-anchor="end" font-size="24.0">30</text>
<text transform="translate(677.50 743.00) scale(0.975 1.07)" text-anchor="end" font-size="24.0">20</text>
<text transform="translate(677.50 767.00) scale(0.975 1.07)" text-anchor="end" font-size="24.0">10</text>
<text transform="translate(856.30 670.00) scale(1.03 1.115)" text-anchor="start" font-size="24.0">Bin 8</text>
<text transform="translate(638.00 725.30) rotate(-90) scale(1.02 1.14)" text-anchor="middle" font-size="24.0">ADU</text>
<text transform="translate(778.00 830.20) scale(1.013 1.09)" text-anchor="start" font-size="24.0">Wavenumber [cm</text>
<text transform="translate(968.00 818.20) scale(1.0 1.0)" text-anchor="start" font-size="18.0">-1</text>
<text transform="translate(984.50 830.20) scale(1.0 1.09)" text-anchor="start" font-size="24.0">]</text>
</g>
</svg>
</body></html>
